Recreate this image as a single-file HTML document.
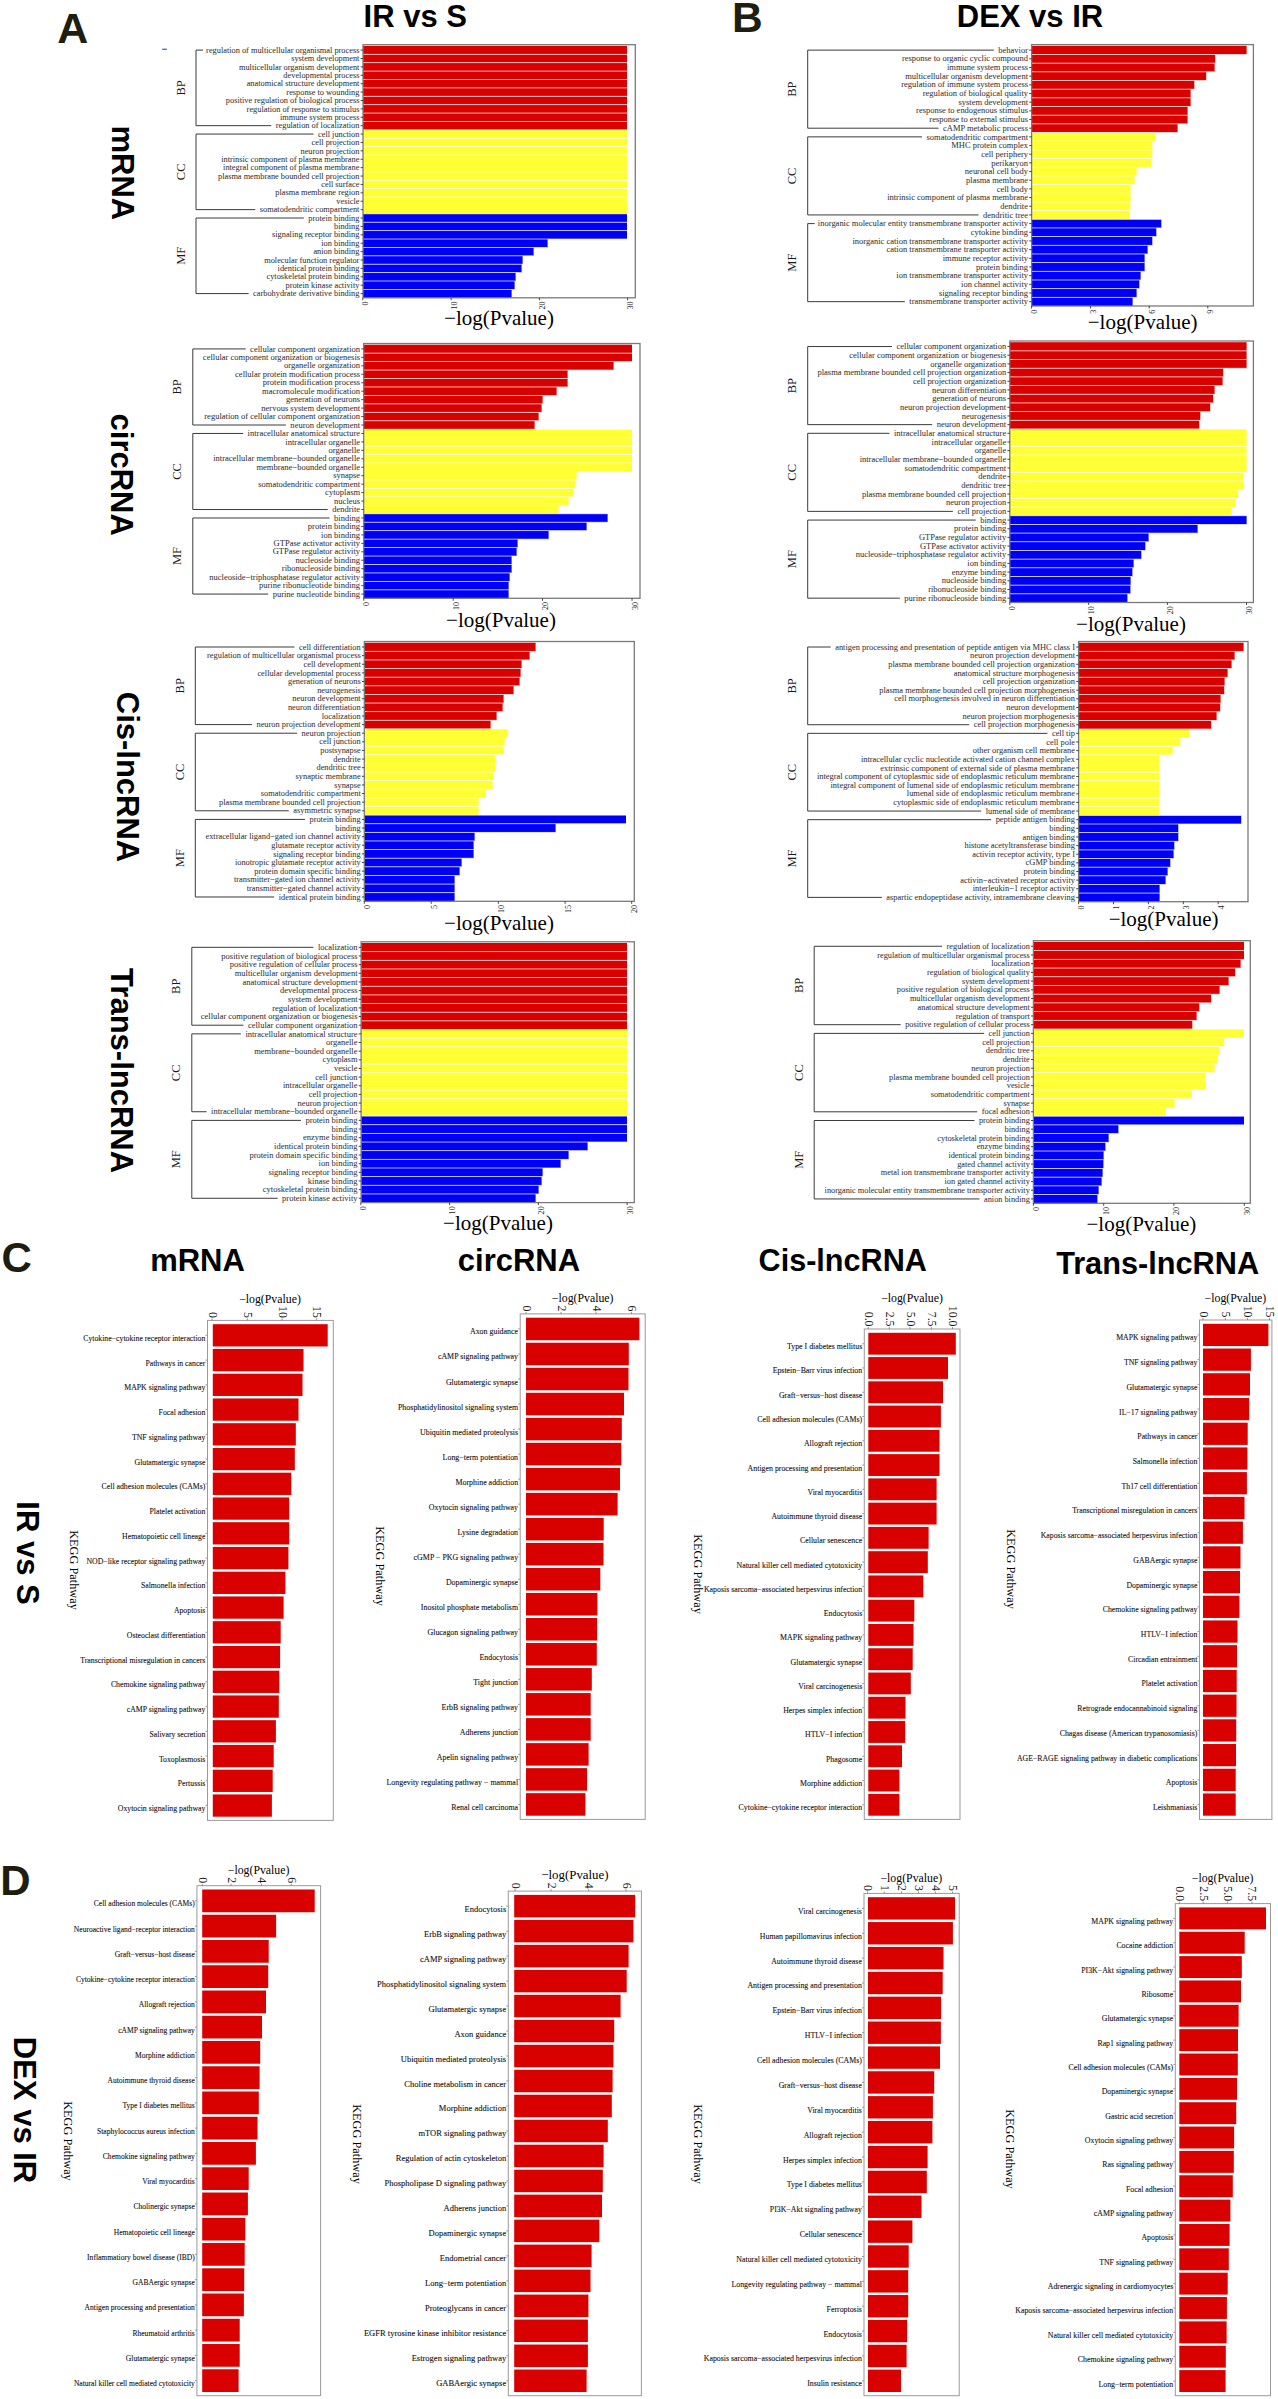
<!DOCTYPE html><html><head><meta charset="utf-8"><style>html,body{margin:0;padding:0;background:#fff;width:1278px;height:2399px;overflow:hidden}svg{display:block}text{font-family:"Liberation Serif",serif}</style></head><body>
<svg width="1278" height="2399" viewBox="0 0 1278 2399">
<rect width="1278" height="2399" fill="#fff"/>
<rect x="363.00" y="45.90" width="264.00" height="8.397" fill="#D90000"/>
<rect x="363.00" y="54.30" width="264.00" height="8.397" fill="#D90000"/>
<rect x="363.00" y="62.69" width="264.00" height="8.397" fill="#D90000"/>
<rect x="363.00" y="71.09" width="264.00" height="8.397" fill="#D90000"/>
<rect x="363.00" y="79.49" width="264.00" height="8.397" fill="#D90000"/>
<rect x="363.00" y="87.88" width="264.00" height="8.397" fill="#D90000"/>
<rect x="363.00" y="96.28" width="264.00" height="8.397" fill="#D90000"/>
<rect x="363.00" y="104.68" width="264.00" height="8.397" fill="#D90000"/>
<rect x="363.00" y="113.07" width="264.00" height="8.397" fill="#D90000"/>
<rect x="363.00" y="121.47" width="264.00" height="8.397" fill="#D90000"/>
<rect x="363.00" y="129.87" width="264.00" height="8.397" fill="#FFFF33"/>
<rect x="363.00" y="138.26" width="264.00" height="8.397" fill="#FFFF33"/>
<rect x="363.00" y="146.66" width="264.00" height="8.397" fill="#FFFF33"/>
<rect x="363.00" y="155.06" width="264.00" height="8.397" fill="#FFFF33"/>
<rect x="363.00" y="163.45" width="264.00" height="8.397" fill="#FFFF33"/>
<rect x="363.00" y="171.85" width="264.00" height="8.397" fill="#FFFF33"/>
<rect x="363.00" y="180.25" width="264.00" height="8.397" fill="#FFFF33"/>
<rect x="363.00" y="188.64" width="264.00" height="8.397" fill="#FFFF33"/>
<rect x="363.00" y="197.04" width="264.00" height="8.397" fill="#FFFF33"/>
<rect x="363.00" y="205.44" width="264.00" height="8.397" fill="#FFFF33"/>
<rect x="363.00" y="213.83" width="264.00" height="8.397" fill="#0000F5"/>
<rect x="363.00" y="222.23" width="264.00" height="8.397" fill="#0000F5"/>
<rect x="363.00" y="230.63" width="264.00" height="8.397" fill="#0000F5"/>
<rect x="363.00" y="239.02" width="184.60" height="8.397" fill="#0000F5"/>
<rect x="363.00" y="247.42" width="170.60" height="8.397" fill="#0000F5"/>
<rect x="363.00" y="255.82" width="159.60" height="8.397" fill="#0000F5"/>
<rect x="363.00" y="264.21" width="158.60" height="8.397" fill="#0000F5"/>
<rect x="363.00" y="272.61" width="152.60" height="8.397" fill="#0000F5"/>
<rect x="363.00" y="281.01" width="151.60" height="8.397" fill="#0000F5"/>
<rect x="363.00" y="289.40" width="148.60" height="8.397" fill="#0000F5"/>
<rect x="363.00" y="53.90" width="264.00" height="0.8" fill="#fff" fill-opacity="0.85"/>
<rect x="363.00" y="62.29" width="264.00" height="0.8" fill="#fff" fill-opacity="0.85"/>
<rect x="363.00" y="70.69" width="264.00" height="0.8" fill="#fff" fill-opacity="0.85"/>
<rect x="363.00" y="79.09" width="264.00" height="0.8" fill="#fff" fill-opacity="0.85"/>
<rect x="363.00" y="87.48" width="264.00" height="0.8" fill="#fff" fill-opacity="0.85"/>
<rect x="363.00" y="95.88" width="264.00" height="0.8" fill="#fff" fill-opacity="0.85"/>
<rect x="363.00" y="104.28" width="264.00" height="0.8" fill="#fff" fill-opacity="0.85"/>
<rect x="363.00" y="112.67" width="264.00" height="0.8" fill="#fff" fill-opacity="0.85"/>
<rect x="363.00" y="121.07" width="264.00" height="0.8" fill="#fff" fill-opacity="0.85"/>
<rect x="363.00" y="129.47" width="264.00" height="0.8" fill="#fff" fill-opacity="0.85"/>
<rect x="363.00" y="137.86" width="264.00" height="0.8" fill="#fff" fill-opacity="0.85"/>
<rect x="363.00" y="146.26" width="264.00" height="0.8" fill="#fff" fill-opacity="0.85"/>
<rect x="363.00" y="154.66" width="264.00" height="0.8" fill="#fff" fill-opacity="0.85"/>
<rect x="363.00" y="163.05" width="264.00" height="0.8" fill="#fff" fill-opacity="0.85"/>
<rect x="363.00" y="171.45" width="264.00" height="0.8" fill="#fff" fill-opacity="0.85"/>
<rect x="363.00" y="179.85" width="264.00" height="0.8" fill="#fff" fill-opacity="0.85"/>
<rect x="363.00" y="188.24" width="264.00" height="0.8" fill="#fff" fill-opacity="0.85"/>
<rect x="363.00" y="196.64" width="264.00" height="0.8" fill="#fff" fill-opacity="0.85"/>
<rect x="363.00" y="205.04" width="264.00" height="0.8" fill="#fff" fill-opacity="0.85"/>
<rect x="363.00" y="213.43" width="264.00" height="0.8" fill="#fff" fill-opacity="0.85"/>
<rect x="363.00" y="221.83" width="264.00" height="0.8" fill="#fff" fill-opacity="0.85"/>
<rect x="363.00" y="230.23" width="264.00" height="0.8" fill="#fff" fill-opacity="0.85"/>
<rect x="363.00" y="238.62" width="264.00" height="0.8" fill="#fff" fill-opacity="0.85"/>
<rect x="363.00" y="247.02" width="184.60" height="0.8" fill="#fff" fill-opacity="0.85"/>
<rect x="363.00" y="255.42" width="170.60" height="0.8" fill="#fff" fill-opacity="0.85"/>
<rect x="363.00" y="263.81" width="159.60" height="0.8" fill="#fff" fill-opacity="0.85"/>
<rect x="363.00" y="272.21" width="158.60" height="0.8" fill="#fff" fill-opacity="0.85"/>
<rect x="363.00" y="280.61" width="152.60" height="0.8" fill="#fff" fill-opacity="0.85"/>
<rect x="363.00" y="289.00" width="151.60" height="0.8" fill="#fff" fill-opacity="0.85"/>
<rect x="363.00" y="44.70" width="272.30" height="253.10" fill="none" stroke="#7A7A78" stroke-width="1.3"/>
<text x="359.40" y="52.74" font-size="8.0" text-anchor="end" fill="#363636" textLength="153.26" lengthAdjust="spacingAndGlyphs" stroke="#363636" stroke-width="0.05">regulation of multicellular organismal process</text>
<line x1="360.60" y1="50.10" x2="363.00" y2="50.10" stroke="#333" stroke-width="0.9"/>
<text x="359.40" y="61.14" font-size="8.0" text-anchor="end" fill="#363636" textLength="68.17" lengthAdjust="spacingAndGlyphs" stroke="#363636" stroke-width="0.05">system development</text>
<line x1="360.60" y1="58.50" x2="363.00" y2="58.50" stroke="#333" stroke-width="0.9"/>
<text x="359.40" y="69.53" font-size="8.0" text-anchor="end" fill="#363636" textLength="120.46" lengthAdjust="spacingAndGlyphs" stroke="#363636" stroke-width="0.05">multicellular organism development</text>
<line x1="360.60" y1="66.89" x2="363.00" y2="66.89" stroke="#333" stroke-width="0.9"/>
<text x="359.40" y="77.93" font-size="8.0" text-anchor="end" fill="#363636" textLength="76.01" lengthAdjust="spacingAndGlyphs" stroke="#363636" stroke-width="0.05">developmental process</text>
<line x1="360.60" y1="75.29" x2="363.00" y2="75.29" stroke="#333" stroke-width="0.9"/>
<text x="359.40" y="86.33" font-size="8.0" text-anchor="end" fill="#363636" textLength="112.74" lengthAdjust="spacingAndGlyphs" stroke="#363636" stroke-width="0.05">anatomical structure development</text>
<line x1="360.60" y1="83.69" x2="363.00" y2="83.69" stroke="#333" stroke-width="0.9"/>
<text x="359.40" y="94.72" font-size="8.0" text-anchor="end" fill="#363636" textLength="73.02" lengthAdjust="spacingAndGlyphs" stroke="#363636" stroke-width="0.05">response to wounding</text>
<line x1="360.60" y1="92.08" x2="363.00" y2="92.08" stroke="#333" stroke-width="0.9"/>
<text x="359.40" y="103.12" font-size="8.0" text-anchor="end" fill="#363636" textLength="133.55" lengthAdjust="spacingAndGlyphs" stroke="#363636" stroke-width="0.05">positive regulation of biological process</text>
<line x1="360.60" y1="100.48" x2="363.00" y2="100.48" stroke="#333" stroke-width="0.9"/>
<text x="359.40" y="111.52" font-size="8.0" text-anchor="end" fill="#363636" textLength="112.77" lengthAdjust="spacingAndGlyphs" stroke="#363636" stroke-width="0.05">regulation of response to stimulus</text>
<line x1="360.60" y1="108.88" x2="363.00" y2="108.88" stroke="#333" stroke-width="0.9"/>
<text x="359.40" y="119.91" font-size="8.0" text-anchor="end" fill="#363636" textLength="79.49" lengthAdjust="spacingAndGlyphs" stroke="#363636" stroke-width="0.05">immune system process</text>
<line x1="360.60" y1="117.27" x2="363.00" y2="117.27" stroke="#333" stroke-width="0.9"/>
<text x="359.40" y="128.31" font-size="8.0" text-anchor="end" fill="#363636" textLength="83.63" lengthAdjust="spacingAndGlyphs" stroke="#363636" stroke-width="0.05">regulation of localization</text>
<line x1="360.60" y1="125.67" x2="363.00" y2="125.67" stroke="#333" stroke-width="0.9"/>
<text x="359.40" y="136.70" font-size="8.0" text-anchor="end" fill="#363636" textLength="41.36" lengthAdjust="spacingAndGlyphs" stroke="#363636" stroke-width="0.05">cell junction</text>
<line x1="360.60" y1="134.06" x2="363.00" y2="134.06" stroke="#333" stroke-width="0.9"/>
<text x="359.40" y="145.10" font-size="8.0" text-anchor="end" fill="#363636" textLength="47.82" lengthAdjust="spacingAndGlyphs" stroke="#363636" stroke-width="0.05">cell projection</text>
<line x1="360.60" y1="142.46" x2="363.00" y2="142.46" stroke="#333" stroke-width="0.9"/>
<text x="359.40" y="153.50" font-size="8.0" text-anchor="end" fill="#363636" textLength="58.91" lengthAdjust="spacingAndGlyphs" stroke="#363636" stroke-width="0.05">neuron projection</text>
<line x1="360.60" y1="150.86" x2="363.00" y2="150.86" stroke="#333" stroke-width="0.9"/>
<text x="359.40" y="161.89" font-size="8.0" text-anchor="end" fill="#363636" textLength="138.17" lengthAdjust="spacingAndGlyphs" stroke="#363636" stroke-width="0.05">intrinsic component of plasma membrane</text>
<line x1="360.60" y1="159.25" x2="363.00" y2="159.25" stroke="#333" stroke-width="0.9"/>
<text x="359.40" y="170.29" font-size="8.0" text-anchor="end" fill="#363636" textLength="136.31" lengthAdjust="spacingAndGlyphs" stroke="#363636" stroke-width="0.05">integral component of plasma membrane</text>
<line x1="360.60" y1="167.65" x2="363.00" y2="167.65" stroke="#333" stroke-width="0.9"/>
<text x="359.40" y="178.69" font-size="8.0" text-anchor="end" fill="#363636" textLength="141.39" lengthAdjust="spacingAndGlyphs" stroke="#363636" stroke-width="0.05">plasma membrane bounded cell projection</text>
<line x1="360.60" y1="176.05" x2="363.00" y2="176.05" stroke="#333" stroke-width="0.9"/>
<text x="359.40" y="187.08" font-size="8.0" text-anchor="end" fill="#363636" textLength="38.11" lengthAdjust="spacingAndGlyphs" stroke="#363636" stroke-width="0.05">cell surface</text>
<line x1="360.60" y1="184.44" x2="363.00" y2="184.44" stroke="#333" stroke-width="0.9"/>
<text x="359.40" y="195.48" font-size="8.0" text-anchor="end" fill="#363636" textLength="84.10" lengthAdjust="spacingAndGlyphs" stroke="#363636" stroke-width="0.05">plasma membrane region</text>
<line x1="360.60" y1="192.84" x2="363.00" y2="192.84" stroke="#333" stroke-width="0.9"/>
<text x="359.40" y="203.88" font-size="8.0" text-anchor="end" fill="#363636" textLength="23.10" lengthAdjust="spacingAndGlyphs" stroke="#363636" stroke-width="0.05">vesicle</text>
<line x1="360.60" y1="201.24" x2="363.00" y2="201.24" stroke="#333" stroke-width="0.9"/>
<text x="359.40" y="212.27" font-size="8.0" text-anchor="end" fill="#363636" textLength="99.58" lengthAdjust="spacingAndGlyphs" stroke="#363636" stroke-width="0.05">somatodendritic compartment</text>
<line x1="360.60" y1="209.63" x2="363.00" y2="209.63" stroke="#333" stroke-width="0.9"/>
<text x="359.40" y="220.67" font-size="8.0" text-anchor="end" fill="#363636" textLength="51.07" lengthAdjust="spacingAndGlyphs" stroke="#363636" stroke-width="0.05">protein binding</text>
<line x1="360.60" y1="218.03" x2="363.00" y2="218.03" stroke="#333" stroke-width="0.9"/>
<text x="359.40" y="229.07" font-size="8.0" text-anchor="end" fill="#363636" textLength="25.42" lengthAdjust="spacingAndGlyphs" stroke="#363636" stroke-width="0.05">binding</text>
<line x1="360.60" y1="226.43" x2="363.00" y2="226.43" stroke="#333" stroke-width="0.9"/>
<text x="359.40" y="237.46" font-size="8.0" text-anchor="end" fill="#363636" textLength="87.34" lengthAdjust="spacingAndGlyphs" stroke="#363636" stroke-width="0.05">signaling receptor binding</text>
<line x1="360.60" y1="234.82" x2="363.00" y2="234.82" stroke="#333" stroke-width="0.9"/>
<text x="359.40" y="245.86" font-size="8.0" text-anchor="end" fill="#363636" textLength="38.13" lengthAdjust="spacingAndGlyphs" stroke="#363636" stroke-width="0.05">ion binding</text>
<line x1="360.60" y1="243.22" x2="363.00" y2="243.22" stroke="#333" stroke-width="0.9"/>
<text x="359.40" y="254.26" font-size="8.0" text-anchor="end" fill="#363636" textLength="45.99" lengthAdjust="spacingAndGlyphs" stroke="#363636" stroke-width="0.05">anion binding</text>
<line x1="360.60" y1="251.62" x2="363.00" y2="251.62" stroke="#333" stroke-width="0.9"/>
<text x="359.40" y="262.65" font-size="8.0" text-anchor="end" fill="#363636" textLength="95.18" lengthAdjust="spacingAndGlyphs" stroke="#363636" stroke-width="0.05">molecular function regulator</text>
<line x1="360.60" y1="260.01" x2="363.00" y2="260.01" stroke="#333" stroke-width="0.9"/>
<text x="359.40" y="271.05" font-size="8.0" text-anchor="end" fill="#363636" textLength="81.79" lengthAdjust="spacingAndGlyphs" stroke="#363636" stroke-width="0.05">identical protein binding</text>
<line x1="360.60" y1="268.41" x2="363.00" y2="268.41" stroke="#333" stroke-width="0.9"/>
<text x="359.40" y="279.45" font-size="8.0" text-anchor="end" fill="#363636" textLength="92.89" lengthAdjust="spacingAndGlyphs" stroke="#363636" stroke-width="0.05">cytoskeletal protein binding</text>
<line x1="360.60" y1="276.81" x2="363.00" y2="276.81" stroke="#333" stroke-width="0.9"/>
<text x="359.40" y="287.85" font-size="8.0" text-anchor="end" fill="#363636" textLength="73.93" lengthAdjust="spacingAndGlyphs" stroke="#363636" stroke-width="0.05">protein kinase activity</text>
<line x1="360.60" y1="285.21" x2="363.00" y2="285.21" stroke="#333" stroke-width="0.9"/>
<text x="359.40" y="296.24" font-size="8.0" text-anchor="end" fill="#363636" textLength="106.27" lengthAdjust="spacingAndGlyphs" stroke="#363636" stroke-width="0.05">carbohydrate derivative binding</text>
<line x1="360.60" y1="293.60" x2="363.00" y2="293.60" stroke="#333" stroke-width="0.9"/>
<path d="M203.00 50.10 H196.00 V125.67 H271.27" fill="none" stroke="#3A3A3A" stroke-width="1.0"/>
<text x="185.12" y="87.88" font-size="12.5" text-anchor="middle" fill="#1A1A1A" transform="rotate(-90 185.12 87.88)">BP</text>
<path d="M313.54 134.06 H196.00 V209.63 H255.32" fill="none" stroke="#3A3A3A" stroke-width="1.0"/>
<text x="185.12" y="171.85" font-size="12.5" text-anchor="middle" fill="#1A1A1A" transform="rotate(-90 185.12 171.85)">CC</text>
<path d="M303.83 218.03 H196.00 V293.60 H248.63" fill="none" stroke="#3A3A3A" stroke-width="1.0"/>
<text x="185.12" y="255.82" font-size="12.5" text-anchor="middle" fill="#1A1A1A" transform="rotate(-90 185.12 255.82)">MF</text>
<line x1="362.80" y1="297.80" x2="362.80" y2="300.30" stroke="#333" stroke-width="0.9"/>
<text x="368.40" y="301.40" font-size="8.2" text-anchor="end" fill="#262626" transform="rotate(-90 368.40 301.40)">0</text>
<line x1="451.10" y1="297.80" x2="451.10" y2="300.30" stroke="#333" stroke-width="0.9"/>
<text x="456.70" y="301.40" font-size="8.2" text-anchor="end" fill="#262626" transform="rotate(-90 456.70 301.40)">10</text>
<line x1="539.40" y1="297.80" x2="539.40" y2="300.30" stroke="#333" stroke-width="0.9"/>
<text x="545.00" y="301.40" font-size="8.2" text-anchor="end" fill="#262626" transform="rotate(-90 545.00 301.40)">20</text>
<line x1="627.60" y1="297.80" x2="627.60" y2="300.30" stroke="#333" stroke-width="0.9"/>
<text x="633.20" y="301.40" font-size="8.2" text-anchor="end" fill="#262626" transform="rotate(-90 633.20 301.40)">30</text>
<text x="499.00" y="324.50" font-size="21" text-anchor="middle" fill="#000">−log(Pvalue)</text>
<rect x="1031.60" y="45.80" width="215.00" height="8.673" fill="#D90000"/>
<rect x="1031.60" y="54.47" width="183.60" height="8.673" fill="#D90000"/>
<rect x="1031.60" y="63.15" width="183.00" height="8.673" fill="#D90000"/>
<rect x="1031.60" y="71.82" width="174.60" height="8.673" fill="#D90000"/>
<rect x="1031.60" y="80.49" width="162.70" height="8.673" fill="#D90000"/>
<rect x="1031.60" y="89.17" width="159.00" height="8.673" fill="#D90000"/>
<rect x="1031.60" y="97.84" width="159.00" height="8.673" fill="#D90000"/>
<rect x="1031.60" y="106.51" width="156.00" height="8.673" fill="#D90000"/>
<rect x="1031.60" y="115.19" width="156.00" height="8.673" fill="#D90000"/>
<rect x="1031.60" y="123.86" width="146.00" height="8.673" fill="#D90000"/>
<rect x="1031.60" y="132.53" width="123.70" height="8.673" fill="#FFFF33"/>
<rect x="1031.60" y="141.21" width="120.70" height="8.673" fill="#FFFF33"/>
<rect x="1031.60" y="149.88" width="120.70" height="8.673" fill="#FFFF33"/>
<rect x="1031.60" y="158.55" width="120.00" height="8.673" fill="#FFFF33"/>
<rect x="1031.60" y="167.23" width="105.00" height="8.673" fill="#FFFF33"/>
<rect x="1031.60" y="175.90" width="103.00" height="8.673" fill="#FFFF33"/>
<rect x="1031.60" y="184.57" width="99.00" height="8.673" fill="#FFFF33"/>
<rect x="1031.60" y="193.25" width="99.00" height="8.673" fill="#FFFF33"/>
<rect x="1031.60" y="201.92" width="98.80" height="8.673" fill="#FFFF33"/>
<rect x="1031.60" y="210.59" width="98.00" height="8.673" fill="#FFFF33"/>
<rect x="1031.60" y="219.27" width="129.70" height="8.673" fill="#0000F5"/>
<rect x="1031.60" y="227.94" width="124.70" height="8.673" fill="#0000F5"/>
<rect x="1031.60" y="236.61" width="120.70" height="8.673" fill="#0000F5"/>
<rect x="1031.60" y="245.29" width="116.00" height="8.673" fill="#0000F5"/>
<rect x="1031.60" y="253.96" width="113.00" height="8.673" fill="#0000F5"/>
<rect x="1031.60" y="262.63" width="113.00" height="8.673" fill="#0000F5"/>
<rect x="1031.60" y="271.31" width="109.00" height="8.673" fill="#0000F5"/>
<rect x="1031.60" y="279.98" width="107.70" height="8.673" fill="#0000F5"/>
<rect x="1031.60" y="288.65" width="105.00" height="8.673" fill="#0000F5"/>
<rect x="1031.60" y="297.33" width="101.00" height="8.673" fill="#0000F5"/>
<rect x="1031.60" y="54.07" width="215.00" height="0.8" fill="#fff" fill-opacity="0.85"/>
<rect x="1031.60" y="62.75" width="183.60" height="0.8" fill="#fff" fill-opacity="0.85"/>
<rect x="1031.60" y="71.42" width="183.00" height="0.8" fill="#fff" fill-opacity="0.85"/>
<rect x="1031.60" y="80.09" width="174.60" height="0.8" fill="#fff" fill-opacity="0.85"/>
<rect x="1031.60" y="88.77" width="162.70" height="0.8" fill="#fff" fill-opacity="0.85"/>
<rect x="1031.60" y="97.44" width="159.00" height="0.8" fill="#fff" fill-opacity="0.85"/>
<rect x="1031.60" y="106.11" width="159.00" height="0.8" fill="#fff" fill-opacity="0.85"/>
<rect x="1031.60" y="114.79" width="156.00" height="0.8" fill="#fff" fill-opacity="0.85"/>
<rect x="1031.60" y="123.46" width="156.00" height="0.8" fill="#fff" fill-opacity="0.85"/>
<rect x="1031.60" y="132.13" width="146.00" height="0.8" fill="#fff" fill-opacity="0.85"/>
<rect x="1031.60" y="140.81" width="123.70" height="0.8" fill="#fff" fill-opacity="0.85"/>
<rect x="1031.60" y="149.48" width="120.70" height="0.8" fill="#fff" fill-opacity="0.85"/>
<rect x="1031.60" y="158.15" width="120.70" height="0.8" fill="#fff" fill-opacity="0.85"/>
<rect x="1031.60" y="166.83" width="120.00" height="0.8" fill="#fff" fill-opacity="0.85"/>
<rect x="1031.60" y="175.50" width="105.00" height="0.8" fill="#fff" fill-opacity="0.85"/>
<rect x="1031.60" y="184.17" width="103.00" height="0.8" fill="#fff" fill-opacity="0.85"/>
<rect x="1031.60" y="192.85" width="99.00" height="0.8" fill="#fff" fill-opacity="0.85"/>
<rect x="1031.60" y="201.52" width="99.00" height="0.8" fill="#fff" fill-opacity="0.85"/>
<rect x="1031.60" y="210.19" width="98.80" height="0.8" fill="#fff" fill-opacity="0.85"/>
<rect x="1031.60" y="218.87" width="129.70" height="0.8" fill="#fff" fill-opacity="0.85"/>
<rect x="1031.60" y="227.54" width="129.70" height="0.8" fill="#fff" fill-opacity="0.85"/>
<rect x="1031.60" y="236.21" width="124.70" height="0.8" fill="#fff" fill-opacity="0.85"/>
<rect x="1031.60" y="244.89" width="120.70" height="0.8" fill="#fff" fill-opacity="0.85"/>
<rect x="1031.60" y="253.56" width="116.00" height="0.8" fill="#fff" fill-opacity="0.85"/>
<rect x="1031.60" y="262.23" width="113.00" height="0.8" fill="#fff" fill-opacity="0.85"/>
<rect x="1031.60" y="270.91" width="113.00" height="0.8" fill="#fff" fill-opacity="0.85"/>
<rect x="1031.60" y="279.58" width="109.00" height="0.8" fill="#fff" fill-opacity="0.85"/>
<rect x="1031.60" y="288.25" width="107.70" height="0.8" fill="#fff" fill-opacity="0.85"/>
<rect x="1031.60" y="296.93" width="105.00" height="0.8" fill="#fff" fill-opacity="0.85"/>
<rect x="1031.60" y="44.60" width="221.80" height="261.40" fill="none" stroke="#7A7A78" stroke-width="1.3"/>
<text x="1028.00" y="52.78" font-size="8.0" text-anchor="end" fill="#363636" textLength="29.67" lengthAdjust="spacingAndGlyphs" stroke="#363636" stroke-width="0.05">behavior</text>
<line x1="1029.20" y1="50.14" x2="1031.60" y2="50.14" stroke="#333" stroke-width="0.9"/>
<text x="1028.00" y="61.45" font-size="8.0" text-anchor="end" fill="#363636" textLength="126.07" lengthAdjust="spacingAndGlyphs" stroke="#363636" stroke-width="0.05">response to organic cyclic compound</text>
<line x1="1029.20" y1="58.81" x2="1031.60" y2="58.81" stroke="#333" stroke-width="0.9"/>
<text x="1028.00" y="70.12" font-size="8.0" text-anchor="end" fill="#363636" textLength="81.02" lengthAdjust="spacingAndGlyphs" stroke="#363636" stroke-width="0.05">immune system process</text>
<line x1="1029.20" y1="67.48" x2="1031.60" y2="67.48" stroke="#333" stroke-width="0.9"/>
<text x="1028.00" y="78.80" font-size="8.0" text-anchor="end" fill="#363636" textLength="122.77" lengthAdjust="spacingAndGlyphs" stroke="#363636" stroke-width="0.05">multicellular organism development</text>
<line x1="1029.20" y1="76.16" x2="1031.60" y2="76.16" stroke="#333" stroke-width="0.9"/>
<text x="1028.00" y="87.47" font-size="8.0" text-anchor="end" fill="#363636" textLength="126.71" lengthAdjust="spacingAndGlyphs" stroke="#363636" stroke-width="0.05">regulation of immune system process</text>
<line x1="1029.20" y1="84.83" x2="1031.60" y2="84.83" stroke="#333" stroke-width="0.9"/>
<text x="1028.00" y="96.14" font-size="8.0" text-anchor="end" fill="#363636" textLength="105.27" lengthAdjust="spacingAndGlyphs" stroke="#363636" stroke-width="0.05">regulation of biological quality</text>
<line x1="1029.20" y1="93.50" x2="1031.60" y2="93.50" stroke="#333" stroke-width="0.9"/>
<text x="1028.00" y="104.82" font-size="8.0" text-anchor="end" fill="#363636" textLength="69.48" lengthAdjust="spacingAndGlyphs" stroke="#363636" stroke-width="0.05">system development</text>
<line x1="1029.20" y1="102.18" x2="1031.60" y2="102.18" stroke="#333" stroke-width="0.9"/>
<text x="1028.00" y="113.49" font-size="8.0" text-anchor="end" fill="#363636" textLength="111.88" lengthAdjust="spacingAndGlyphs" stroke="#363636" stroke-width="0.05">response to endogenous stimulus</text>
<line x1="1029.20" y1="110.85" x2="1031.60" y2="110.85" stroke="#333" stroke-width="0.9"/>
<text x="1028.00" y="122.16" font-size="8.0" text-anchor="end" fill="#363636" textLength="98.68" lengthAdjust="spacingAndGlyphs" stroke="#363636" stroke-width="0.05">response to external stimulus</text>
<line x1="1029.20" y1="119.52" x2="1031.60" y2="119.52" stroke="#333" stroke-width="0.9"/>
<text x="1028.00" y="130.84" font-size="8.0" text-anchor="end" fill="#363636" textLength="84.94" lengthAdjust="spacingAndGlyphs" stroke="#363636" stroke-width="0.05">cAMP metabolic process</text>
<line x1="1029.20" y1="128.20" x2="1031.60" y2="128.20" stroke="#333" stroke-width="0.9"/>
<text x="1028.00" y="139.51" font-size="8.0" text-anchor="end" fill="#363636" textLength="101.50" lengthAdjust="spacingAndGlyphs" stroke="#363636" stroke-width="0.05">somatodendritic compartment</text>
<line x1="1029.20" y1="136.87" x2="1031.60" y2="136.87" stroke="#333" stroke-width="0.9"/>
<text x="1028.00" y="148.18" font-size="8.0" text-anchor="end" fill="#363636" textLength="76.78" lengthAdjust="spacingAndGlyphs" stroke="#363636" stroke-width="0.05">MHC protein complex</text>
<line x1="1029.20" y1="145.54" x2="1031.60" y2="145.54" stroke="#333" stroke-width="0.9"/>
<text x="1028.00" y="156.86" font-size="8.0" text-anchor="end" fill="#363636" textLength="46.85" lengthAdjust="spacingAndGlyphs" stroke="#363636" stroke-width="0.05">cell periphery</text>
<line x1="1029.20" y1="154.22" x2="1031.60" y2="154.22" stroke="#333" stroke-width="0.9"/>
<text x="1028.00" y="165.53" font-size="8.0" text-anchor="end" fill="#363636" textLength="36.73" lengthAdjust="spacingAndGlyphs" stroke="#363636" stroke-width="0.05">perikaryon</text>
<line x1="1029.20" y1="162.89" x2="1031.60" y2="162.89" stroke="#333" stroke-width="0.9"/>
<text x="1028.00" y="174.20" font-size="8.0" text-anchor="end" fill="#363636" textLength="63.11" lengthAdjust="spacingAndGlyphs" stroke="#363636" stroke-width="0.05">neuronal cell body</text>
<line x1="1029.20" y1="171.56" x2="1031.60" y2="171.56" stroke="#333" stroke-width="0.9"/>
<text x="1028.00" y="182.88" font-size="8.0" text-anchor="end" fill="#363636" textLength="61.93" lengthAdjust="spacingAndGlyphs" stroke="#363636" stroke-width="0.05">plasma membrane</text>
<line x1="1029.20" y1="180.24" x2="1031.60" y2="180.24" stroke="#333" stroke-width="0.9"/>
<text x="1028.00" y="191.55" font-size="8.0" text-anchor="end" fill="#363636" textLength="31.32" lengthAdjust="spacingAndGlyphs" stroke="#363636" stroke-width="0.05">cell body</text>
<line x1="1029.20" y1="188.91" x2="1031.60" y2="188.91" stroke="#333" stroke-width="0.9"/>
<text x="1028.00" y="200.22" font-size="8.0" text-anchor="end" fill="#363636" textLength="140.82" lengthAdjust="spacingAndGlyphs" stroke="#363636" stroke-width="0.05">intrinsic component of plasma membrane</text>
<line x1="1029.20" y1="197.58" x2="1031.60" y2="197.58" stroke="#333" stroke-width="0.9"/>
<text x="1028.00" y="208.90" font-size="8.0" text-anchor="end" fill="#363636" textLength="27.78" lengthAdjust="spacingAndGlyphs" stroke="#363636" stroke-width="0.05">dendrite</text>
<line x1="1029.20" y1="206.26" x2="1031.60" y2="206.26" stroke="#333" stroke-width="0.9"/>
<text x="1028.00" y="217.57" font-size="8.0" text-anchor="end" fill="#363636" textLength="44.97" lengthAdjust="spacingAndGlyphs" stroke="#363636" stroke-width="0.05">dendritic tree</text>
<line x1="1029.20" y1="214.93" x2="1031.60" y2="214.93" stroke="#333" stroke-width="0.9"/>
<text x="1028.00" y="226.24" font-size="8.0" text-anchor="end" fill="#363636" textLength="210.12" lengthAdjust="spacingAndGlyphs" stroke="#363636" stroke-width="0.05">inorganic molecular entity transmembrane transporter activity</text>
<line x1="1029.20" y1="223.60" x2="1031.60" y2="223.60" stroke="#333" stroke-width="0.9"/>
<text x="1028.00" y="234.92" font-size="8.0" text-anchor="end" fill="#363636" textLength="57.23" lengthAdjust="spacingAndGlyphs" stroke="#363636" stroke-width="0.05">cytokine binding</text>
<line x1="1029.20" y1="232.28" x2="1031.60" y2="232.28" stroke="#333" stroke-width="0.9"/>
<text x="1028.00" y="243.59" font-size="8.0" text-anchor="end" fill="#363636" textLength="175.51" lengthAdjust="spacingAndGlyphs" stroke="#363636" stroke-width="0.05">inorganic cation transmembrane transporter activity</text>
<line x1="1029.20" y1="240.95" x2="1031.60" y2="240.95" stroke="#333" stroke-width="0.9"/>
<text x="1028.00" y="252.26" font-size="8.0" text-anchor="end" fill="#363636" textLength="141.52" lengthAdjust="spacingAndGlyphs" stroke="#363636" stroke-width="0.05">cation transmembrane transporter activity</text>
<line x1="1029.20" y1="249.62" x2="1031.60" y2="249.62" stroke="#333" stroke-width="0.9"/>
<text x="1028.00" y="260.94" font-size="8.0" text-anchor="end" fill="#363636" textLength="85.24" lengthAdjust="spacingAndGlyphs" stroke="#363636" stroke-width="0.05">immune receptor activity</text>
<line x1="1029.20" y1="258.30" x2="1031.60" y2="258.30" stroke="#333" stroke-width="0.9"/>
<text x="1028.00" y="269.61" font-size="8.0" text-anchor="end" fill="#363636" textLength="52.05" lengthAdjust="spacingAndGlyphs" stroke="#363636" stroke-width="0.05">protein binding</text>
<line x1="1029.20" y1="266.97" x2="1031.60" y2="266.97" stroke="#333" stroke-width="0.9"/>
<text x="1028.00" y="278.28" font-size="8.0" text-anchor="end" fill="#363636" textLength="131.63" lengthAdjust="spacingAndGlyphs" stroke="#363636" stroke-width="0.05">ion transmembrane transporter activity</text>
<line x1="1029.20" y1="275.64" x2="1031.60" y2="275.64" stroke="#333" stroke-width="0.9"/>
<text x="1028.00" y="286.96" font-size="8.0" text-anchor="end" fill="#363636" textLength="66.88" lengthAdjust="spacingAndGlyphs" stroke="#363636" stroke-width="0.05">ion channel activity</text>
<line x1="1029.20" y1="284.32" x2="1031.60" y2="284.32" stroke="#333" stroke-width="0.9"/>
<text x="1028.00" y="295.63" font-size="8.0" text-anchor="end" fill="#363636" textLength="89.02" lengthAdjust="spacingAndGlyphs" stroke="#363636" stroke-width="0.05">signaling receptor binding</text>
<line x1="1029.20" y1="292.99" x2="1031.60" y2="292.99" stroke="#333" stroke-width="0.9"/>
<text x="1028.00" y="304.30" font-size="8.0" text-anchor="end" fill="#363636" textLength="118.68" lengthAdjust="spacingAndGlyphs" stroke="#363636" stroke-width="0.05">transmembrane transporter activity</text>
<line x1="1029.20" y1="301.66" x2="1031.60" y2="301.66" stroke="#333" stroke-width="0.9"/>
<path d="M993.83 50.14 H807.70 V128.20 H938.56" fill="none" stroke="#3A3A3A" stroke-width="1.0"/>
<text x="796.42" y="89.17" font-size="12.5" text-anchor="middle" fill="#1A1A1A" transform="rotate(-90 796.42 89.17)">BP</text>
<path d="M922.00 136.87 H807.70 V214.93 H978.53" fill="none" stroke="#3A3A3A" stroke-width="1.0"/>
<text x="796.42" y="175.90" font-size="12.5" text-anchor="middle" fill="#1A1A1A" transform="rotate(-90 796.42 175.90)">CC</text>
<path d="M814.70 223.60 H807.70 V301.66 H904.82" fill="none" stroke="#3A3A3A" stroke-width="1.0"/>
<text x="796.42" y="262.63" font-size="12.5" text-anchor="middle" fill="#1A1A1A" transform="rotate(-90 796.42 262.63)">MF</text>
<line x1="1031.60" y1="306.00" x2="1031.60" y2="308.50" stroke="#333" stroke-width="0.9"/>
<text x="1037.20" y="309.60" font-size="8.2" text-anchor="end" fill="#262626" transform="rotate(-90 1037.20 309.60)">0</text>
<line x1="1090.40" y1="306.00" x2="1090.40" y2="308.50" stroke="#333" stroke-width="0.9"/>
<text x="1096.00" y="309.60" font-size="8.2" text-anchor="end" fill="#262626" transform="rotate(-90 1096.00 309.60)">3</text>
<line x1="1149.20" y1="306.00" x2="1149.20" y2="308.50" stroke="#333" stroke-width="0.9"/>
<text x="1154.80" y="309.60" font-size="8.2" text-anchor="end" fill="#262626" transform="rotate(-90 1154.80 309.60)">6</text>
<line x1="1207.80" y1="306.00" x2="1207.80" y2="308.50" stroke="#333" stroke-width="0.9"/>
<text x="1213.40" y="309.60" font-size="8.2" text-anchor="end" fill="#262626" transform="rotate(-90 1213.40 309.60)">9</text>
<text x="1142.70" y="329.00" font-size="21" text-anchor="middle" fill="#000">−log(Pvalue)</text>
<rect x="363.70" y="344.70" width="268.30" height="8.453" fill="#D90000"/>
<rect x="363.70" y="353.15" width="268.30" height="8.453" fill="#D90000"/>
<rect x="363.70" y="361.61" width="249.90" height="8.453" fill="#D90000"/>
<rect x="363.70" y="370.06" width="203.90" height="8.453" fill="#D90000"/>
<rect x="363.70" y="378.51" width="203.90" height="8.453" fill="#D90000"/>
<rect x="363.70" y="386.97" width="192.90" height="8.453" fill="#D90000"/>
<rect x="363.70" y="395.42" width="178.90" height="8.453" fill="#D90000"/>
<rect x="363.70" y="403.87" width="177.90" height="8.453" fill="#D90000"/>
<rect x="363.70" y="412.33" width="174.90" height="8.453" fill="#D90000"/>
<rect x="363.70" y="420.78" width="170.90" height="8.453" fill="#D90000"/>
<rect x="363.70" y="429.23" width="268.30" height="8.453" fill="#FFFF33"/>
<rect x="363.70" y="437.69" width="268.30" height="8.453" fill="#FFFF33"/>
<rect x="363.70" y="446.14" width="268.30" height="8.453" fill="#FFFF33"/>
<rect x="363.70" y="454.59" width="268.30" height="8.453" fill="#FFFF33"/>
<rect x="363.70" y="463.05" width="268.30" height="8.453" fill="#FFFF33"/>
<rect x="363.70" y="471.50" width="212.90" height="8.453" fill="#FFFF33"/>
<rect x="363.70" y="479.95" width="211.90" height="8.453" fill="#FFFF33"/>
<rect x="363.70" y="488.41" width="209.90" height="8.453" fill="#FFFF33"/>
<rect x="363.70" y="496.86" width="204.90" height="8.453" fill="#FFFF33"/>
<rect x="363.70" y="505.31" width="194.90" height="8.453" fill="#FFFF33"/>
<rect x="363.70" y="513.77" width="243.90" height="8.453" fill="#0000F5"/>
<rect x="363.70" y="522.22" width="222.90" height="8.453" fill="#0000F5"/>
<rect x="363.70" y="530.67" width="184.90" height="8.453" fill="#0000F5"/>
<rect x="363.70" y="539.13" width="153.90" height="8.453" fill="#0000F5"/>
<rect x="363.70" y="547.58" width="152.90" height="8.453" fill="#0000F5"/>
<rect x="363.70" y="556.03" width="147.90" height="8.453" fill="#0000F5"/>
<rect x="363.70" y="564.49" width="147.90" height="8.453" fill="#0000F5"/>
<rect x="363.70" y="572.94" width="145.90" height="8.453" fill="#0000F5"/>
<rect x="363.70" y="581.39" width="144.90" height="8.453" fill="#0000F5"/>
<rect x="363.70" y="589.85" width="144.90" height="8.453" fill="#0000F5"/>
<rect x="363.70" y="352.75" width="268.30" height="0.8" fill="#fff" fill-opacity="0.85"/>
<rect x="363.70" y="361.21" width="268.30" height="0.8" fill="#fff" fill-opacity="0.85"/>
<rect x="363.70" y="369.66" width="249.90" height="0.8" fill="#fff" fill-opacity="0.85"/>
<rect x="363.70" y="378.11" width="203.90" height="0.8" fill="#fff" fill-opacity="0.85"/>
<rect x="363.70" y="386.57" width="203.90" height="0.8" fill="#fff" fill-opacity="0.85"/>
<rect x="363.70" y="395.02" width="192.90" height="0.8" fill="#fff" fill-opacity="0.85"/>
<rect x="363.70" y="403.47" width="178.90" height="0.8" fill="#fff" fill-opacity="0.85"/>
<rect x="363.70" y="411.93" width="177.90" height="0.8" fill="#fff" fill-opacity="0.85"/>
<rect x="363.70" y="420.38" width="174.90" height="0.8" fill="#fff" fill-opacity="0.85"/>
<rect x="363.70" y="428.83" width="268.30" height="0.8" fill="#fff" fill-opacity="0.85"/>
<rect x="363.70" y="437.29" width="268.30" height="0.8" fill="#fff" fill-opacity="0.85"/>
<rect x="363.70" y="445.74" width="268.30" height="0.8" fill="#fff" fill-opacity="0.85"/>
<rect x="363.70" y="454.19" width="268.30" height="0.8" fill="#fff" fill-opacity="0.85"/>
<rect x="363.70" y="462.65" width="268.30" height="0.8" fill="#fff" fill-opacity="0.85"/>
<rect x="363.70" y="471.10" width="268.30" height="0.8" fill="#fff" fill-opacity="0.85"/>
<rect x="363.70" y="479.55" width="212.90" height="0.8" fill="#fff" fill-opacity="0.85"/>
<rect x="363.70" y="488.01" width="211.90" height="0.8" fill="#fff" fill-opacity="0.85"/>
<rect x="363.70" y="496.46" width="209.90" height="0.8" fill="#fff" fill-opacity="0.85"/>
<rect x="363.70" y="504.91" width="204.90" height="0.8" fill="#fff" fill-opacity="0.85"/>
<rect x="363.70" y="513.37" width="243.90" height="0.8" fill="#fff" fill-opacity="0.85"/>
<rect x="363.70" y="521.82" width="243.90" height="0.8" fill="#fff" fill-opacity="0.85"/>
<rect x="363.70" y="530.27" width="222.90" height="0.8" fill="#fff" fill-opacity="0.85"/>
<rect x="363.70" y="538.73" width="184.90" height="0.8" fill="#fff" fill-opacity="0.85"/>
<rect x="363.70" y="547.18" width="153.90" height="0.8" fill="#fff" fill-opacity="0.85"/>
<rect x="363.70" y="555.63" width="152.90" height="0.8" fill="#fff" fill-opacity="0.85"/>
<rect x="363.70" y="564.09" width="147.90" height="0.8" fill="#fff" fill-opacity="0.85"/>
<rect x="363.70" y="572.54" width="147.90" height="0.8" fill="#fff" fill-opacity="0.85"/>
<rect x="363.70" y="580.99" width="145.90" height="0.8" fill="#fff" fill-opacity="0.85"/>
<rect x="363.70" y="589.45" width="144.90" height="0.8" fill="#fff" fill-opacity="0.85"/>
<rect x="363.70" y="343.50" width="276.30" height="254.80" fill="none" stroke="#7A7A78" stroke-width="1.3"/>
<text x="360.10" y="351.57" font-size="8.0" text-anchor="end" fill="#363636" textLength="109.96" lengthAdjust="spacingAndGlyphs" stroke="#363636" stroke-width="0.05">cellular component organization</text>
<line x1="361.30" y1="348.93" x2="363.70" y2="348.93" stroke="#333" stroke-width="0.9"/>
<text x="360.10" y="360.02" font-size="8.0" text-anchor="end" fill="#363636" textLength="157.23" lengthAdjust="spacingAndGlyphs" stroke="#363636" stroke-width="0.05">cellular component organization or biogenesis</text>
<line x1="361.30" y1="357.38" x2="363.70" y2="357.38" stroke="#333" stroke-width="0.9"/>
<text x="360.10" y="368.47" font-size="8.0" text-anchor="end" fill="#363636" textLength="76.01" lengthAdjust="spacingAndGlyphs" stroke="#363636" stroke-width="0.05">organelle organization</text>
<line x1="361.30" y1="365.83" x2="363.70" y2="365.83" stroke="#333" stroke-width="0.9"/>
<text x="360.10" y="376.93" font-size="8.0" text-anchor="end" fill="#363636" textLength="125.01" lengthAdjust="spacingAndGlyphs" stroke="#363636" stroke-width="0.05">cellular protein modification process</text>
<line x1="361.30" y1="374.29" x2="363.70" y2="374.29" stroke="#333" stroke-width="0.9"/>
<text x="360.10" y="385.38" font-size="8.0" text-anchor="end" fill="#363636" textLength="97.37" lengthAdjust="spacingAndGlyphs" stroke="#363636" stroke-width="0.05">protein modification process</text>
<line x1="361.30" y1="382.74" x2="363.70" y2="382.74" stroke="#333" stroke-width="0.9"/>
<text x="360.10" y="393.83" font-size="8.0" text-anchor="end" fill="#363636" textLength="98.07" lengthAdjust="spacingAndGlyphs" stroke="#363636" stroke-width="0.05">macromolecule modification</text>
<line x1="361.30" y1="391.19" x2="363.70" y2="391.19" stroke="#333" stroke-width="0.9"/>
<text x="360.10" y="402.29" font-size="8.0" text-anchor="end" fill="#363636" textLength="74.20" lengthAdjust="spacingAndGlyphs" stroke="#363636" stroke-width="0.05">generation of neurons</text>
<line x1="361.30" y1="399.65" x2="363.70" y2="399.65" stroke="#333" stroke-width="0.9"/>
<text x="360.10" y="410.74" font-size="8.0" text-anchor="end" fill="#363636" textLength="98.79" lengthAdjust="spacingAndGlyphs" stroke="#363636" stroke-width="0.05">nervous system development</text>
<line x1="361.30" y1="408.10" x2="363.70" y2="408.10" stroke="#333" stroke-width="0.9"/>
<text x="360.10" y="419.19" font-size="8.0" text-anchor="end" fill="#363636" textLength="155.81" lengthAdjust="spacingAndGlyphs" stroke="#363636" stroke-width="0.05">regulation of cellular component organization</text>
<line x1="361.30" y1="416.55" x2="363.70" y2="416.55" stroke="#333" stroke-width="0.9"/>
<text x="360.10" y="427.65" font-size="8.0" text-anchor="end" fill="#363636" textLength="69.71" lengthAdjust="spacingAndGlyphs" stroke="#363636" stroke-width="0.05">neuron development</text>
<line x1="361.30" y1="425.01" x2="363.70" y2="425.01" stroke="#333" stroke-width="0.9"/>
<text x="360.10" y="436.10" font-size="8.0" text-anchor="end" fill="#363636" textLength="112.47" lengthAdjust="spacingAndGlyphs" stroke="#363636" stroke-width="0.05">intracellular anatomical structure</text>
<line x1="361.30" y1="433.46" x2="363.70" y2="433.46" stroke="#333" stroke-width="0.9"/>
<text x="360.10" y="444.55" font-size="8.0" text-anchor="end" fill="#363636" textLength="74.74" lengthAdjust="spacingAndGlyphs" stroke="#363636" stroke-width="0.05">intracellular organelle</text>
<line x1="361.30" y1="441.91" x2="363.70" y2="441.91" stroke="#333" stroke-width="0.9"/>
<text x="360.10" y="453.01" font-size="8.0" text-anchor="end" fill="#363636" textLength="31.51" lengthAdjust="spacingAndGlyphs" stroke="#363636" stroke-width="0.05">organelle</text>
<line x1="361.30" y1="450.37" x2="363.70" y2="450.37" stroke="#333" stroke-width="0.9"/>
<text x="360.10" y="461.46" font-size="8.0" text-anchor="end" fill="#363636" textLength="146.89" lengthAdjust="spacingAndGlyphs" stroke="#363636" stroke-width="0.05">intracellular membrane−bounded organelle</text>
<line x1="361.30" y1="458.82" x2="363.70" y2="458.82" stroke="#333" stroke-width="0.9"/>
<text x="360.10" y="469.91" font-size="8.0" text-anchor="end" fill="#363636" textLength="103.65" lengthAdjust="spacingAndGlyphs" stroke="#363636" stroke-width="0.05">membrane−bounded organelle</text>
<line x1="361.30" y1="467.27" x2="363.70" y2="467.27" stroke="#333" stroke-width="0.9"/>
<text x="360.10" y="478.37" font-size="8.0" text-anchor="end" fill="#363636" textLength="26.94" lengthAdjust="spacingAndGlyphs" stroke="#363636" stroke-width="0.05">synapse</text>
<line x1="361.30" y1="475.73" x2="363.70" y2="475.73" stroke="#333" stroke-width="0.9"/>
<text x="360.10" y="486.82" font-size="8.0" text-anchor="end" fill="#363636" textLength="101.86" lengthAdjust="spacingAndGlyphs" stroke="#363636" stroke-width="0.05">somatodendritic compartment</text>
<line x1="361.30" y1="484.18" x2="363.70" y2="484.18" stroke="#333" stroke-width="0.9"/>
<text x="360.10" y="495.27" font-size="8.0" text-anchor="end" fill="#363636" textLength="34.98" lengthAdjust="spacingAndGlyphs" stroke="#363636" stroke-width="0.05">cytoplasm</text>
<line x1="361.30" y1="492.63" x2="363.70" y2="492.63" stroke="#333" stroke-width="0.9"/>
<text x="360.10" y="503.73" font-size="8.0" text-anchor="end" fill="#363636" textLength="26.00" lengthAdjust="spacingAndGlyphs" stroke="#363636" stroke-width="0.05">nucleus</text>
<line x1="361.30" y1="501.09" x2="363.70" y2="501.09" stroke="#333" stroke-width="0.9"/>
<text x="360.10" y="512.18" font-size="8.0" text-anchor="end" fill="#363636" textLength="27.88" lengthAdjust="spacingAndGlyphs" stroke="#363636" stroke-width="0.05">dendrite</text>
<line x1="361.30" y1="509.54" x2="363.70" y2="509.54" stroke="#333" stroke-width="0.9"/>
<text x="360.10" y="520.63" font-size="8.0" text-anchor="end" fill="#363636" textLength="26.00" lengthAdjust="spacingAndGlyphs" stroke="#363636" stroke-width="0.05">binding</text>
<line x1="361.30" y1="517.99" x2="363.70" y2="517.99" stroke="#333" stroke-width="0.9"/>
<text x="360.10" y="529.09" font-size="8.0" text-anchor="end" fill="#363636" textLength="52.24" lengthAdjust="spacingAndGlyphs" stroke="#363636" stroke-width="0.05">protein binding</text>
<line x1="361.30" y1="526.45" x2="363.70" y2="526.45" stroke="#333" stroke-width="0.9"/>
<text x="360.10" y="537.54" font-size="8.0" text-anchor="end" fill="#363636" textLength="39.01" lengthAdjust="spacingAndGlyphs" stroke="#363636" stroke-width="0.05">ion binding</text>
<line x1="361.30" y1="534.90" x2="363.70" y2="534.90" stroke="#333" stroke-width="0.9"/>
<text x="360.10" y="545.99" font-size="8.0" text-anchor="end" fill="#363636" textLength="86.49" lengthAdjust="spacingAndGlyphs" stroke="#363636" stroke-width="0.05">GTPase activator activity</text>
<line x1="361.30" y1="543.35" x2="363.70" y2="543.35" stroke="#333" stroke-width="0.9"/>
<text x="360.10" y="554.45" font-size="8.0" text-anchor="end" fill="#363636" textLength="87.44" lengthAdjust="spacingAndGlyphs" stroke="#363636" stroke-width="0.05">GTPase regulator activity</text>
<line x1="361.30" y1="551.81" x2="363.70" y2="551.81" stroke="#333" stroke-width="0.9"/>
<text x="360.10" y="562.90" font-size="8.0" text-anchor="end" fill="#363636" textLength="64.52" lengthAdjust="spacingAndGlyphs" stroke="#363636" stroke-width="0.05">nucleoside binding</text>
<line x1="361.30" y1="560.26" x2="363.70" y2="560.26" stroke="#333" stroke-width="0.9"/>
<text x="360.10" y="571.35" font-size="8.0" text-anchor="end" fill="#363636" textLength="78.23" lengthAdjust="spacingAndGlyphs" stroke="#363636" stroke-width="0.05">ribonucleoside binding</text>
<line x1="361.30" y1="568.71" x2="363.70" y2="568.71" stroke="#333" stroke-width="0.9"/>
<text x="360.10" y="579.81" font-size="8.0" text-anchor="end" fill="#363636" textLength="150.84" lengthAdjust="spacingAndGlyphs" stroke="#363636" stroke-width="0.05">nucleoside−triphosphatase regulator activity</text>
<line x1="361.30" y1="577.17" x2="363.70" y2="577.17" stroke="#333" stroke-width="0.9"/>
<text x="360.10" y="588.26" font-size="8.0" text-anchor="end" fill="#363636" textLength="101.15" lengthAdjust="spacingAndGlyphs" stroke="#363636" stroke-width="0.05">purine ribonucleotide binding</text>
<line x1="361.30" y1="585.62" x2="363.70" y2="585.62" stroke="#333" stroke-width="0.9"/>
<text x="360.10" y="596.71" font-size="8.0" text-anchor="end" fill="#363636" textLength="87.44" lengthAdjust="spacingAndGlyphs" stroke="#363636" stroke-width="0.05">purine nucleotide binding</text>
<line x1="361.30" y1="594.07" x2="363.70" y2="594.07" stroke="#333" stroke-width="0.9"/>
<path d="M245.64 348.93 H192.80 V425.01 H285.89" fill="none" stroke="#3A3A3A" stroke-width="1.0"/>
<text x="180.62" y="386.97" font-size="12.5" text-anchor="middle" fill="#1A1A1A" transform="rotate(-90 180.62 386.97)">BP</text>
<path d="M243.13 433.46 H192.80 V509.54 H327.72" fill="none" stroke="#3A3A3A" stroke-width="1.0"/>
<text x="180.62" y="471.50" font-size="12.5" text-anchor="middle" fill="#1A1A1A" transform="rotate(-90 180.62 471.50)">CC</text>
<path d="M329.60 517.99 H192.80 V594.07 H268.16" fill="none" stroke="#3A3A3A" stroke-width="1.0"/>
<text x="180.62" y="556.03" font-size="12.5" text-anchor="middle" fill="#1A1A1A" transform="rotate(-90 180.62 556.03)">MF</text>
<line x1="363.80" y1="598.30" x2="363.80" y2="600.80" stroke="#333" stroke-width="0.9"/>
<text x="369.40" y="601.90" font-size="8.2" text-anchor="end" fill="#262626" transform="rotate(-90 369.40 601.90)">0</text>
<line x1="453.20" y1="598.30" x2="453.20" y2="600.80" stroke="#333" stroke-width="0.9"/>
<text x="458.80" y="601.90" font-size="8.2" text-anchor="end" fill="#262626" transform="rotate(-90 458.80 601.90)">10</text>
<line x1="542.50" y1="598.30" x2="542.50" y2="600.80" stroke="#333" stroke-width="0.9"/>
<text x="548.10" y="601.90" font-size="8.2" text-anchor="end" fill="#262626" transform="rotate(-90 548.10 601.90)">20</text>
<line x1="632.00" y1="598.30" x2="632.00" y2="600.80" stroke="#333" stroke-width="0.9"/>
<text x="637.60" y="601.90" font-size="8.2" text-anchor="end" fill="#262626" transform="rotate(-90 637.60 601.90)">30</text>
<text x="501.00" y="627.00" font-size="21" text-anchor="middle" fill="#000">−log(Pvalue)</text>
<rect x="1009.80" y="342.20" width="236.80" height="8.677" fill="#D90000"/>
<rect x="1009.80" y="350.88" width="236.80" height="8.677" fill="#D90000"/>
<rect x="1009.80" y="359.55" width="236.80" height="8.677" fill="#D90000"/>
<rect x="1009.80" y="368.23" width="213.40" height="8.677" fill="#D90000"/>
<rect x="1009.80" y="376.91" width="212.80" height="8.677" fill="#D90000"/>
<rect x="1009.80" y="385.58" width="204.80" height="8.677" fill="#D90000"/>
<rect x="1009.80" y="394.26" width="203.40" height="8.677" fill="#D90000"/>
<rect x="1009.80" y="402.94" width="200.40" height="8.677" fill="#D90000"/>
<rect x="1009.80" y="411.61" width="190.50" height="8.677" fill="#D90000"/>
<rect x="1009.80" y="420.29" width="189.50" height="8.677" fill="#D90000"/>
<rect x="1009.80" y="428.97" width="236.80" height="8.677" fill="#FFFF33"/>
<rect x="1009.80" y="437.64" width="236.80" height="8.677" fill="#FFFF33"/>
<rect x="1009.80" y="446.32" width="236.80" height="8.677" fill="#FFFF33"/>
<rect x="1009.80" y="455.00" width="236.80" height="8.677" fill="#FFFF33"/>
<rect x="1009.80" y="463.67" width="236.80" height="8.677" fill="#FFFF33"/>
<rect x="1009.80" y="472.35" width="233.80" height="8.677" fill="#FFFF33"/>
<rect x="1009.80" y="481.03" width="233.80" height="8.677" fill="#FFFF33"/>
<rect x="1009.80" y="489.70" width="228.40" height="8.677" fill="#FFFF33"/>
<rect x="1009.80" y="498.38" width="225.40" height="8.677" fill="#FFFF33"/>
<rect x="1009.80" y="507.06" width="221.80" height="8.677" fill="#FFFF33"/>
<rect x="1009.80" y="515.73" width="236.80" height="8.677" fill="#0000F5"/>
<rect x="1009.80" y="524.41" width="187.80" height="8.677" fill="#0000F5"/>
<rect x="1009.80" y="533.09" width="138.80" height="8.677" fill="#0000F5"/>
<rect x="1009.80" y="541.76" width="135.50" height="8.677" fill="#0000F5"/>
<rect x="1009.80" y="550.44" width="131.50" height="8.677" fill="#0000F5"/>
<rect x="1009.80" y="559.12" width="123.80" height="8.677" fill="#0000F5"/>
<rect x="1009.80" y="567.79" width="122.60" height="8.677" fill="#0000F5"/>
<rect x="1009.80" y="576.47" width="120.80" height="8.677" fill="#0000F5"/>
<rect x="1009.80" y="585.15" width="120.60" height="8.677" fill="#0000F5"/>
<rect x="1009.80" y="593.82" width="117.60" height="8.677" fill="#0000F5"/>
<rect x="1009.80" y="350.48" width="236.80" height="0.8" fill="#fff" fill-opacity="0.85"/>
<rect x="1009.80" y="359.15" width="236.80" height="0.8" fill="#fff" fill-opacity="0.85"/>
<rect x="1009.80" y="367.83" width="236.80" height="0.8" fill="#fff" fill-opacity="0.85"/>
<rect x="1009.80" y="376.51" width="213.40" height="0.8" fill="#fff" fill-opacity="0.85"/>
<rect x="1009.80" y="385.18" width="212.80" height="0.8" fill="#fff" fill-opacity="0.85"/>
<rect x="1009.80" y="393.86" width="204.80" height="0.8" fill="#fff" fill-opacity="0.85"/>
<rect x="1009.80" y="402.54" width="203.40" height="0.8" fill="#fff" fill-opacity="0.85"/>
<rect x="1009.80" y="411.21" width="200.40" height="0.8" fill="#fff" fill-opacity="0.85"/>
<rect x="1009.80" y="419.89" width="190.50" height="0.8" fill="#fff" fill-opacity="0.85"/>
<rect x="1009.80" y="428.57" width="236.80" height="0.8" fill="#fff" fill-opacity="0.85"/>
<rect x="1009.80" y="437.24" width="236.80" height="0.8" fill="#fff" fill-opacity="0.85"/>
<rect x="1009.80" y="445.92" width="236.80" height="0.8" fill="#fff" fill-opacity="0.85"/>
<rect x="1009.80" y="454.60" width="236.80" height="0.8" fill="#fff" fill-opacity="0.85"/>
<rect x="1009.80" y="463.27" width="236.80" height="0.8" fill="#fff" fill-opacity="0.85"/>
<rect x="1009.80" y="471.95" width="236.80" height="0.8" fill="#fff" fill-opacity="0.85"/>
<rect x="1009.80" y="480.63" width="233.80" height="0.8" fill="#fff" fill-opacity="0.85"/>
<rect x="1009.80" y="489.30" width="233.80" height="0.8" fill="#fff" fill-opacity="0.85"/>
<rect x="1009.80" y="497.98" width="228.40" height="0.8" fill="#fff" fill-opacity="0.85"/>
<rect x="1009.80" y="506.66" width="225.40" height="0.8" fill="#fff" fill-opacity="0.85"/>
<rect x="1009.80" y="515.33" width="236.80" height="0.8" fill="#fff" fill-opacity="0.85"/>
<rect x="1009.80" y="524.01" width="236.80" height="0.8" fill="#fff" fill-opacity="0.85"/>
<rect x="1009.80" y="532.69" width="187.80" height="0.8" fill="#fff" fill-opacity="0.85"/>
<rect x="1009.80" y="541.36" width="138.80" height="0.8" fill="#fff" fill-opacity="0.85"/>
<rect x="1009.80" y="550.04" width="135.50" height="0.8" fill="#fff" fill-opacity="0.85"/>
<rect x="1009.80" y="558.72" width="131.50" height="0.8" fill="#fff" fill-opacity="0.85"/>
<rect x="1009.80" y="567.39" width="123.80" height="0.8" fill="#fff" fill-opacity="0.85"/>
<rect x="1009.80" y="576.07" width="122.60" height="0.8" fill="#fff" fill-opacity="0.85"/>
<rect x="1009.80" y="584.75" width="120.80" height="0.8" fill="#fff" fill-opacity="0.85"/>
<rect x="1009.80" y="593.42" width="120.60" height="0.8" fill="#fff" fill-opacity="0.85"/>
<rect x="1009.80" y="341.00" width="243.60" height="261.50" fill="none" stroke="#7A7A78" stroke-width="1.3"/>
<text x="1006.20" y="349.18" font-size="8.0" text-anchor="end" fill="#363636" textLength="109.70" lengthAdjust="spacingAndGlyphs" stroke="#363636" stroke-width="0.05">cellular component organization</text>
<line x1="1007.40" y1="346.54" x2="1009.80" y2="346.54" stroke="#333" stroke-width="0.9"/>
<text x="1006.20" y="357.85" font-size="8.0" text-anchor="end" fill="#363636" textLength="156.86" lengthAdjust="spacingAndGlyphs" stroke="#363636" stroke-width="0.05">cellular component organization or biogenesis</text>
<line x1="1007.40" y1="355.21" x2="1009.80" y2="355.21" stroke="#333" stroke-width="0.9"/>
<text x="1006.20" y="366.53" font-size="8.0" text-anchor="end" fill="#363636" textLength="75.83" lengthAdjust="spacingAndGlyphs" stroke="#363636" stroke-width="0.05">organelle organization</text>
<line x1="1007.40" y1="363.89" x2="1009.80" y2="363.89" stroke="#333" stroke-width="0.9"/>
<text x="1006.20" y="375.21" font-size="8.0" text-anchor="end" fill="#363636" textLength="188.69" lengthAdjust="spacingAndGlyphs" stroke="#363636" stroke-width="0.05">plasma membrane bounded cell projection organization</text>
<line x1="1007.40" y1="372.57" x2="1009.80" y2="372.57" stroke="#333" stroke-width="0.9"/>
<text x="1006.20" y="383.88" font-size="8.0" text-anchor="end" fill="#363636" textLength="93.20" lengthAdjust="spacingAndGlyphs" stroke="#363636" stroke-width="0.05">cell projection organization</text>
<line x1="1007.40" y1="381.25" x2="1009.80" y2="381.25" stroke="#333" stroke-width="0.9"/>
<text x="1006.20" y="392.56" font-size="8.0" text-anchor="end" fill="#363636" textLength="74.10" lengthAdjust="spacingAndGlyphs" stroke="#363636" stroke-width="0.05">neuron differentiation</text>
<line x1="1007.40" y1="389.92" x2="1009.80" y2="389.92" stroke="#333" stroke-width="0.9"/>
<text x="1006.20" y="401.24" font-size="8.0" text-anchor="end" fill="#363636" textLength="74.03" lengthAdjust="spacingAndGlyphs" stroke="#363636" stroke-width="0.05">generation of neurons</text>
<line x1="1007.40" y1="398.60" x2="1009.80" y2="398.60" stroke="#333" stroke-width="0.9"/>
<text x="1006.20" y="409.91" font-size="8.0" text-anchor="end" fill="#363636" textLength="106.09" lengthAdjust="spacingAndGlyphs" stroke="#363636" stroke-width="0.05">neuron projection development</text>
<line x1="1007.40" y1="407.27" x2="1009.80" y2="407.27" stroke="#333" stroke-width="0.9"/>
<text x="1006.20" y="418.59" font-size="8.0" text-anchor="end" fill="#363636" textLength="44.33" lengthAdjust="spacingAndGlyphs" stroke="#363636" stroke-width="0.05">neurogenesis</text>
<line x1="1007.40" y1="415.95" x2="1009.80" y2="415.95" stroke="#333" stroke-width="0.9"/>
<text x="1006.20" y="427.27" font-size="8.0" text-anchor="end" fill="#363636" textLength="69.55" lengthAdjust="spacingAndGlyphs" stroke="#363636" stroke-width="0.05">neuron development</text>
<line x1="1007.40" y1="424.63" x2="1009.80" y2="424.63" stroke="#333" stroke-width="0.9"/>
<text x="1006.20" y="435.94" font-size="8.0" text-anchor="end" fill="#363636" textLength="112.20" lengthAdjust="spacingAndGlyphs" stroke="#363636" stroke-width="0.05">intracellular anatomical structure</text>
<line x1="1007.40" y1="433.31" x2="1009.80" y2="433.31" stroke="#333" stroke-width="0.9"/>
<text x="1006.20" y="444.62" font-size="8.0" text-anchor="end" fill="#363636" textLength="74.57" lengthAdjust="spacingAndGlyphs" stroke="#363636" stroke-width="0.05">intracellular organelle</text>
<line x1="1007.40" y1="441.98" x2="1009.80" y2="441.98" stroke="#333" stroke-width="0.9"/>
<text x="1006.20" y="453.30" font-size="8.0" text-anchor="end" fill="#363636" textLength="31.43" lengthAdjust="spacingAndGlyphs" stroke="#363636" stroke-width="0.05">organelle</text>
<line x1="1007.40" y1="450.66" x2="1009.80" y2="450.66" stroke="#333" stroke-width="0.9"/>
<text x="1006.20" y="461.98" font-size="8.0" text-anchor="end" fill="#363636" textLength="146.55" lengthAdjust="spacingAndGlyphs" stroke="#363636" stroke-width="0.05">intracellular membrane−bounded organelle</text>
<line x1="1007.40" y1="459.34" x2="1009.80" y2="459.34" stroke="#333" stroke-width="0.9"/>
<text x="1006.20" y="470.65" font-size="8.0" text-anchor="end" fill="#363636" textLength="101.62" lengthAdjust="spacingAndGlyphs" stroke="#363636" stroke-width="0.05">somatodendritic compartment</text>
<line x1="1007.40" y1="468.01" x2="1009.80" y2="468.01" stroke="#333" stroke-width="0.9"/>
<text x="1006.20" y="479.33" font-size="8.0" text-anchor="end" fill="#363636" textLength="27.82" lengthAdjust="spacingAndGlyphs" stroke="#363636" stroke-width="0.05">dendrite</text>
<line x1="1007.40" y1="476.69" x2="1009.80" y2="476.69" stroke="#333" stroke-width="0.9"/>
<text x="1006.20" y="488.00" font-size="8.0" text-anchor="end" fill="#363636" textLength="45.02" lengthAdjust="spacingAndGlyphs" stroke="#363636" stroke-width="0.05">dendritic tree</text>
<line x1="1007.40" y1="485.37" x2="1009.80" y2="485.37" stroke="#333" stroke-width="0.9"/>
<text x="1006.20" y="496.68" font-size="8.0" text-anchor="end" fill="#363636" textLength="144.28" lengthAdjust="spacingAndGlyphs" stroke="#363636" stroke-width="0.05">plasma membrane bounded cell projection</text>
<line x1="1007.40" y1="494.04" x2="1009.80" y2="494.04" stroke="#333" stroke-width="0.9"/>
<text x="1006.20" y="505.36" font-size="8.0" text-anchor="end" fill="#363636" textLength="60.12" lengthAdjust="spacingAndGlyphs" stroke="#363636" stroke-width="0.05">neuron projection</text>
<line x1="1007.40" y1="502.72" x2="1009.80" y2="502.72" stroke="#333" stroke-width="0.9"/>
<text x="1006.20" y="514.03" font-size="8.0" text-anchor="end" fill="#363636" textLength="48.80" lengthAdjust="spacingAndGlyphs" stroke="#363636" stroke-width="0.05">cell projection</text>
<line x1="1007.40" y1="511.39" x2="1009.80" y2="511.39" stroke="#333" stroke-width="0.9"/>
<text x="1006.20" y="522.71" font-size="8.0" text-anchor="end" fill="#363636" textLength="25.94" lengthAdjust="spacingAndGlyphs" stroke="#363636" stroke-width="0.05">binding</text>
<line x1="1007.40" y1="520.07" x2="1009.80" y2="520.07" stroke="#333" stroke-width="0.9"/>
<text x="1006.20" y="531.39" font-size="8.0" text-anchor="end" fill="#363636" textLength="52.11" lengthAdjust="spacingAndGlyphs" stroke="#363636" stroke-width="0.05">protein binding</text>
<line x1="1007.40" y1="528.75" x2="1009.80" y2="528.75" stroke="#333" stroke-width="0.9"/>
<text x="1006.20" y="540.06" font-size="8.0" text-anchor="end" fill="#363636" textLength="87.23" lengthAdjust="spacingAndGlyphs" stroke="#363636" stroke-width="0.05">GTPase regulator activity</text>
<line x1="1007.40" y1="537.42" x2="1009.80" y2="537.42" stroke="#333" stroke-width="0.9"/>
<text x="1006.20" y="548.74" font-size="8.0" text-anchor="end" fill="#363636" textLength="86.29" lengthAdjust="spacingAndGlyphs" stroke="#363636" stroke-width="0.05">GTPase activator activity</text>
<line x1="1007.40" y1="546.10" x2="1009.80" y2="546.10" stroke="#333" stroke-width="0.9"/>
<text x="1006.20" y="557.42" font-size="8.0" text-anchor="end" fill="#363636" textLength="150.49" lengthAdjust="spacingAndGlyphs" stroke="#363636" stroke-width="0.05">nucleoside−triphosphatase regulator activity</text>
<line x1="1007.40" y1="554.78" x2="1009.80" y2="554.78" stroke="#333" stroke-width="0.9"/>
<text x="1006.20" y="566.10" font-size="8.0" text-anchor="end" fill="#363636" textLength="38.91" lengthAdjust="spacingAndGlyphs" stroke="#363636" stroke-width="0.05">ion binding</text>
<line x1="1007.40" y1="563.46" x2="1009.80" y2="563.46" stroke="#333" stroke-width="0.9"/>
<text x="1006.20" y="574.77" font-size="8.0" text-anchor="end" fill="#363636" textLength="54.46" lengthAdjust="spacingAndGlyphs" stroke="#363636" stroke-width="0.05">enzyme binding</text>
<line x1="1007.40" y1="572.13" x2="1009.80" y2="572.13" stroke="#333" stroke-width="0.9"/>
<text x="1006.20" y="583.45" font-size="8.0" text-anchor="end" fill="#363636" textLength="64.37" lengthAdjust="spacingAndGlyphs" stroke="#363636" stroke-width="0.05">nucleoside binding</text>
<line x1="1007.40" y1="580.81" x2="1009.80" y2="580.81" stroke="#333" stroke-width="0.9"/>
<text x="1006.20" y="592.12" font-size="8.0" text-anchor="end" fill="#363636" textLength="78.05" lengthAdjust="spacingAndGlyphs" stroke="#363636" stroke-width="0.05">ribonucleoside binding</text>
<line x1="1007.40" y1="589.49" x2="1009.80" y2="589.49" stroke="#333" stroke-width="0.9"/>
<text x="1006.20" y="600.80" font-size="8.0" text-anchor="end" fill="#363636" textLength="101.86" lengthAdjust="spacingAndGlyphs" stroke="#363636" stroke-width="0.05">purine ribonucleoside binding</text>
<line x1="1007.40" y1="598.16" x2="1009.80" y2="598.16" stroke="#333" stroke-width="0.9"/>
<path d="M892.00 346.54 H807.70 V424.63 H932.15" fill="none" stroke="#3A3A3A" stroke-width="1.0"/>
<text x="796.42" y="385.58" font-size="12.5" text-anchor="middle" fill="#1A1A1A" transform="rotate(-90 796.42 385.58)">BP</text>
<path d="M889.50 433.31 H807.70 V511.39 H952.90" fill="none" stroke="#3A3A3A" stroke-width="1.0"/>
<text x="796.42" y="472.35" font-size="12.5" text-anchor="middle" fill="#1A1A1A" transform="rotate(-90 796.42 472.35)">CC</text>
<path d="M975.76 520.07 H807.70 V598.16 H899.84" fill="none" stroke="#3A3A3A" stroke-width="1.0"/>
<text x="796.42" y="559.12" font-size="12.5" text-anchor="middle" fill="#1A1A1A" transform="rotate(-90 796.42 559.12)">MF</text>
<line x1="1009.80" y1="602.50" x2="1009.80" y2="605.00" stroke="#333" stroke-width="0.9"/>
<text x="1015.40" y="606.10" font-size="8.2" text-anchor="end" fill="#262626" transform="rotate(-90 1015.40 606.10)">0</text>
<line x1="1088.70" y1="602.50" x2="1088.70" y2="605.00" stroke="#333" stroke-width="0.9"/>
<text x="1094.30" y="606.10" font-size="8.2" text-anchor="end" fill="#262626" transform="rotate(-90 1094.30 606.10)">10</text>
<line x1="1167.40" y1="602.50" x2="1167.40" y2="605.00" stroke="#333" stroke-width="0.9"/>
<text x="1173.00" y="606.10" font-size="8.2" text-anchor="end" fill="#262626" transform="rotate(-90 1173.00 606.10)">20</text>
<line x1="1246.50" y1="602.50" x2="1246.50" y2="605.00" stroke="#333" stroke-width="0.9"/>
<text x="1252.10" y="606.10" font-size="8.2" text-anchor="end" fill="#262626" transform="rotate(-90 1252.10 606.10)">30</text>
<text x="1131.00" y="631.00" font-size="21" text-anchor="middle" fill="#000">−log(Pvalue)</text>
<rect x="364.30" y="642.70" width="171.30" height="8.620" fill="#D90000"/>
<rect x="364.30" y="651.32" width="165.30" height="8.620" fill="#D90000"/>
<rect x="364.30" y="659.94" width="157.30" height="8.620" fill="#D90000"/>
<rect x="364.30" y="668.56" width="156.30" height="8.620" fill="#D90000"/>
<rect x="364.30" y="677.18" width="155.30" height="8.620" fill="#D90000"/>
<rect x="364.30" y="685.80" width="149.30" height="8.620" fill="#D90000"/>
<rect x="364.30" y="694.42" width="139.30" height="8.620" fill="#D90000"/>
<rect x="364.30" y="703.04" width="138.30" height="8.620" fill="#D90000"/>
<rect x="364.30" y="711.66" width="132.30" height="8.620" fill="#D90000"/>
<rect x="364.30" y="720.28" width="126.30" height="8.620" fill="#D90000"/>
<rect x="364.30" y="728.90" width="143.30" height="8.620" fill="#FFFF33"/>
<rect x="364.30" y="737.52" width="140.30" height="8.620" fill="#FFFF33"/>
<rect x="364.30" y="746.14" width="139.30" height="8.620" fill="#FFFF33"/>
<rect x="364.30" y="754.76" width="131.30" height="8.620" fill="#FFFF33"/>
<rect x="364.30" y="763.38" width="131.30" height="8.620" fill="#FFFF33"/>
<rect x="364.30" y="772.00" width="129.30" height="8.620" fill="#FFFF33"/>
<rect x="364.30" y="780.62" width="128.30" height="8.620" fill="#FFFF33"/>
<rect x="364.30" y="789.24" width="121.30" height="8.620" fill="#FFFF33"/>
<rect x="364.30" y="797.86" width="114.30" height="8.620" fill="#FFFF33"/>
<rect x="364.30" y="806.48" width="114.30" height="8.620" fill="#FFFF33"/>
<rect x="364.30" y="815.10" width="261.70" height="8.620" fill="#0000F5"/>
<rect x="364.30" y="823.72" width="191.30" height="8.620" fill="#0000F5"/>
<rect x="364.30" y="832.34" width="110.30" height="8.620" fill="#0000F5"/>
<rect x="364.30" y="840.96" width="109.30" height="8.620" fill="#0000F5"/>
<rect x="364.30" y="849.58" width="109.30" height="8.620" fill="#0000F5"/>
<rect x="364.30" y="858.20" width="97.30" height="8.620" fill="#0000F5"/>
<rect x="364.30" y="866.82" width="95.30" height="8.620" fill="#0000F5"/>
<rect x="364.30" y="875.44" width="90.30" height="8.620" fill="#0000F5"/>
<rect x="364.30" y="884.06" width="90.30" height="8.620" fill="#0000F5"/>
<rect x="364.30" y="892.68" width="90.30" height="8.620" fill="#0000F5"/>
<rect x="364.30" y="650.92" width="171.30" height="0.8" fill="#fff" fill-opacity="0.85"/>
<rect x="364.30" y="659.54" width="165.30" height="0.8" fill="#fff" fill-opacity="0.85"/>
<rect x="364.30" y="668.16" width="157.30" height="0.8" fill="#fff" fill-opacity="0.85"/>
<rect x="364.30" y="676.78" width="156.30" height="0.8" fill="#fff" fill-opacity="0.85"/>
<rect x="364.30" y="685.40" width="155.30" height="0.8" fill="#fff" fill-opacity="0.85"/>
<rect x="364.30" y="694.02" width="149.30" height="0.8" fill="#fff" fill-opacity="0.85"/>
<rect x="364.30" y="702.64" width="139.30" height="0.8" fill="#fff" fill-opacity="0.85"/>
<rect x="364.30" y="711.26" width="138.30" height="0.8" fill="#fff" fill-opacity="0.85"/>
<rect x="364.30" y="719.88" width="132.30" height="0.8" fill="#fff" fill-opacity="0.85"/>
<rect x="364.30" y="728.50" width="143.30" height="0.8" fill="#fff" fill-opacity="0.85"/>
<rect x="364.30" y="737.12" width="143.30" height="0.8" fill="#fff" fill-opacity="0.85"/>
<rect x="364.30" y="745.74" width="140.30" height="0.8" fill="#fff" fill-opacity="0.85"/>
<rect x="364.30" y="754.36" width="139.30" height="0.8" fill="#fff" fill-opacity="0.85"/>
<rect x="364.30" y="762.98" width="131.30" height="0.8" fill="#fff" fill-opacity="0.85"/>
<rect x="364.30" y="771.60" width="131.30" height="0.8" fill="#fff" fill-opacity="0.85"/>
<rect x="364.30" y="780.22" width="129.30" height="0.8" fill="#fff" fill-opacity="0.85"/>
<rect x="364.30" y="788.84" width="128.30" height="0.8" fill="#fff" fill-opacity="0.85"/>
<rect x="364.30" y="797.46" width="121.30" height="0.8" fill="#fff" fill-opacity="0.85"/>
<rect x="364.30" y="806.08" width="114.30" height="0.8" fill="#fff" fill-opacity="0.85"/>
<rect x="364.30" y="814.70" width="261.70" height="0.8" fill="#fff" fill-opacity="0.85"/>
<rect x="364.30" y="823.32" width="261.70" height="0.8" fill="#fff" fill-opacity="0.85"/>
<rect x="364.30" y="831.94" width="191.30" height="0.8" fill="#fff" fill-opacity="0.85"/>
<rect x="364.30" y="840.56" width="110.30" height="0.8" fill="#fff" fill-opacity="0.85"/>
<rect x="364.30" y="849.18" width="109.30" height="0.8" fill="#fff" fill-opacity="0.85"/>
<rect x="364.30" y="857.80" width="109.30" height="0.8" fill="#fff" fill-opacity="0.85"/>
<rect x="364.30" y="866.42" width="97.30" height="0.8" fill="#fff" fill-opacity="0.85"/>
<rect x="364.30" y="875.04" width="95.30" height="0.8" fill="#fff" fill-opacity="0.85"/>
<rect x="364.30" y="883.66" width="90.30" height="0.8" fill="#fff" fill-opacity="0.85"/>
<rect x="364.30" y="892.28" width="90.30" height="0.8" fill="#fff" fill-opacity="0.85"/>
<rect x="364.30" y="641.50" width="270.00" height="259.80" fill="none" stroke="#7A7A78" stroke-width="1.3"/>
<text x="360.70" y="649.65" font-size="8.0" text-anchor="end" fill="#363636" textLength="61.67" lengthAdjust="spacingAndGlyphs" stroke="#363636" stroke-width="0.05">cell differentiation</text>
<line x1="361.90" y1="647.01" x2="364.30" y2="647.01" stroke="#333" stroke-width="0.9"/>
<text x="360.70" y="658.27" font-size="8.0" text-anchor="end" fill="#363636" textLength="153.63" lengthAdjust="spacingAndGlyphs" stroke="#363636" stroke-width="0.05">regulation of multicellular organismal process</text>
<line x1="361.90" y1="655.63" x2="364.30" y2="655.63" stroke="#333" stroke-width="0.9"/>
<text x="360.70" y="666.89" font-size="8.0" text-anchor="end" fill="#363636" textLength="57.20" lengthAdjust="spacingAndGlyphs" stroke="#363636" stroke-width="0.05">cell development</text>
<line x1="361.90" y1="664.25" x2="364.30" y2="664.25" stroke="#333" stroke-width="0.9"/>
<text x="360.70" y="675.51" font-size="8.0" text-anchor="end" fill="#363636" textLength="103.28" lengthAdjust="spacingAndGlyphs" stroke="#363636" stroke-width="0.05">cellular developmental process</text>
<line x1="361.90" y1="672.87" x2="364.30" y2="672.87" stroke="#333" stroke-width="0.9"/>
<text x="360.70" y="684.13" font-size="8.0" text-anchor="end" fill="#363636" textLength="72.72" lengthAdjust="spacingAndGlyphs" stroke="#363636" stroke-width="0.05">generation of neurons</text>
<line x1="361.90" y1="681.49" x2="364.30" y2="681.49" stroke="#333" stroke-width="0.9"/>
<text x="360.70" y="692.75" font-size="8.0" text-anchor="end" fill="#363636" textLength="43.54" lengthAdjust="spacingAndGlyphs" stroke="#363636" stroke-width="0.05">neurogenesis</text>
<line x1="361.90" y1="690.11" x2="364.30" y2="690.11" stroke="#333" stroke-width="0.9"/>
<text x="360.70" y="701.37" font-size="8.0" text-anchor="end" fill="#363636" textLength="68.32" lengthAdjust="spacingAndGlyphs" stroke="#363636" stroke-width="0.05">neuron development</text>
<line x1="361.90" y1="698.73" x2="364.30" y2="698.73" stroke="#333" stroke-width="0.9"/>
<text x="360.70" y="709.99" font-size="8.0" text-anchor="end" fill="#363636" textLength="72.80" lengthAdjust="spacingAndGlyphs" stroke="#363636" stroke-width="0.05">neuron differentiation</text>
<line x1="361.90" y1="707.35" x2="364.30" y2="707.35" stroke="#333" stroke-width="0.9"/>
<text x="360.70" y="718.61" font-size="8.0" text-anchor="end" fill="#363636" textLength="38.90" lengthAdjust="spacingAndGlyphs" stroke="#363636" stroke-width="0.05">localization</text>
<line x1="361.90" y1="715.97" x2="364.30" y2="715.97" stroke="#333" stroke-width="0.9"/>
<text x="360.70" y="727.23" font-size="8.0" text-anchor="end" fill="#363636" textLength="104.22" lengthAdjust="spacingAndGlyphs" stroke="#363636" stroke-width="0.05">neuron projection development</text>
<line x1="361.90" y1="724.59" x2="364.30" y2="724.59" stroke="#333" stroke-width="0.9"/>
<text x="360.70" y="735.85" font-size="8.0" text-anchor="end" fill="#363636" textLength="59.06" lengthAdjust="spacingAndGlyphs" stroke="#363636" stroke-width="0.05">neuron projection</text>
<line x1="361.90" y1="733.21" x2="364.30" y2="733.21" stroke="#333" stroke-width="0.9"/>
<text x="360.70" y="744.47" font-size="8.0" text-anchor="end" fill="#363636" textLength="41.46" lengthAdjust="spacingAndGlyphs" stroke="#363636" stroke-width="0.05">cell junction</text>
<line x1="361.90" y1="741.83" x2="364.30" y2="741.83" stroke="#333" stroke-width="0.9"/>
<text x="360.70" y="753.09" font-size="8.0" text-anchor="end" fill="#363636" textLength="40.31" lengthAdjust="spacingAndGlyphs" stroke="#363636" stroke-width="0.05">postsynapse</text>
<line x1="361.90" y1="750.45" x2="364.30" y2="750.45" stroke="#333" stroke-width="0.9"/>
<text x="360.70" y="761.71" font-size="8.0" text-anchor="end" fill="#363636" textLength="27.33" lengthAdjust="spacingAndGlyphs" stroke="#363636" stroke-width="0.05">dendrite</text>
<line x1="361.90" y1="759.07" x2="364.30" y2="759.07" stroke="#333" stroke-width="0.9"/>
<text x="360.70" y="770.33" font-size="8.0" text-anchor="end" fill="#363636" textLength="44.23" lengthAdjust="spacingAndGlyphs" stroke="#363636" stroke-width="0.05">dendritic tree</text>
<line x1="361.90" y1="767.69" x2="364.30" y2="767.69" stroke="#333" stroke-width="0.9"/>
<text x="360.70" y="778.95" font-size="8.0" text-anchor="end" fill="#363636" textLength="65.08" lengthAdjust="spacingAndGlyphs" stroke="#363636" stroke-width="0.05">synaptic membrane</text>
<line x1="361.90" y1="776.31" x2="364.30" y2="776.31" stroke="#333" stroke-width="0.9"/>
<text x="360.70" y="787.57" font-size="8.0" text-anchor="end" fill="#363636" textLength="26.41" lengthAdjust="spacingAndGlyphs" stroke="#363636" stroke-width="0.05">synapse</text>
<line x1="361.90" y1="784.93" x2="364.30" y2="784.93" stroke="#333" stroke-width="0.9"/>
<text x="360.70" y="796.19" font-size="8.0" text-anchor="end" fill="#363636" textLength="99.82" lengthAdjust="spacingAndGlyphs" stroke="#363636" stroke-width="0.05">somatodendritic compartment</text>
<line x1="361.90" y1="793.55" x2="364.30" y2="793.55" stroke="#333" stroke-width="0.9"/>
<text x="360.70" y="804.81" font-size="8.0" text-anchor="end" fill="#363636" textLength="141.73" lengthAdjust="spacingAndGlyphs" stroke="#363636" stroke-width="0.05">plasma membrane bounded cell projection</text>
<line x1="361.90" y1="802.17" x2="364.30" y2="802.17" stroke="#333" stroke-width="0.9"/>
<text x="360.70" y="813.43" font-size="8.0" text-anchor="end" fill="#363636" textLength="67.40" lengthAdjust="spacingAndGlyphs" stroke="#363636" stroke-width="0.05">asymmetric synapse</text>
<line x1="361.90" y1="810.79" x2="364.30" y2="810.79" stroke="#333" stroke-width="0.9"/>
<text x="360.70" y="822.05" font-size="8.0" text-anchor="end" fill="#363636" textLength="51.19" lengthAdjust="spacingAndGlyphs" stroke="#363636" stroke-width="0.05">protein binding</text>
<line x1="361.90" y1="819.41" x2="364.30" y2="819.41" stroke="#333" stroke-width="0.9"/>
<text x="360.70" y="830.67" font-size="8.0" text-anchor="end" fill="#363636" textLength="25.48" lengthAdjust="spacingAndGlyphs" stroke="#363636" stroke-width="0.05">binding</text>
<line x1="361.90" y1="828.03" x2="364.30" y2="828.03" stroke="#333" stroke-width="0.9"/>
<text x="360.70" y="839.29" font-size="8.0" text-anchor="end" fill="#363636" textLength="155.23" lengthAdjust="spacingAndGlyphs" stroke="#363636" stroke-width="0.05">extracellular ligand−gated ion channel activity</text>
<line x1="361.90" y1="836.65" x2="364.30" y2="836.65" stroke="#333" stroke-width="0.9"/>
<text x="360.70" y="847.91" font-size="8.0" text-anchor="end" fill="#363636" textLength="89.38" lengthAdjust="spacingAndGlyphs" stroke="#363636" stroke-width="0.05">glutamate receptor activity</text>
<line x1="361.90" y1="845.27" x2="364.30" y2="845.27" stroke="#333" stroke-width="0.9"/>
<text x="360.70" y="856.53" font-size="8.0" text-anchor="end" fill="#363636" textLength="87.55" lengthAdjust="spacingAndGlyphs" stroke="#363636" stroke-width="0.05">signaling receptor binding</text>
<line x1="361.90" y1="853.89" x2="364.30" y2="853.89" stroke="#333" stroke-width="0.9"/>
<text x="360.70" y="865.15" font-size="8.0" text-anchor="end" fill="#363636" textLength="125.75" lengthAdjust="spacingAndGlyphs" stroke="#363636" stroke-width="0.05">ionotropic glutamate receptor activity</text>
<line x1="361.90" y1="862.51" x2="364.30" y2="862.51" stroke="#333" stroke-width="0.9"/>
<text x="360.70" y="873.77" font-size="8.0" text-anchor="end" fill="#363636" textLength="106.31" lengthAdjust="spacingAndGlyphs" stroke="#363636" stroke-width="0.05">protein domain specific binding</text>
<line x1="361.90" y1="871.13" x2="364.30" y2="871.13" stroke="#333" stroke-width="0.9"/>
<text x="360.70" y="882.39" font-size="8.0" text-anchor="end" fill="#363636" textLength="126.75" lengthAdjust="spacingAndGlyphs" stroke="#363636" stroke-width="0.05">transmitter−gated ion channel activity</text>
<line x1="361.90" y1="879.75" x2="364.30" y2="879.75" stroke="#333" stroke-width="0.9"/>
<text x="360.70" y="891.01" font-size="8.0" text-anchor="end" fill="#363636" textLength="114.01" lengthAdjust="spacingAndGlyphs" stroke="#363636" stroke-width="0.05">transmitter−gated channel activity</text>
<line x1="361.90" y1="888.37" x2="364.30" y2="888.37" stroke="#333" stroke-width="0.9"/>
<text x="360.70" y="899.63" font-size="8.0" text-anchor="end" fill="#363636" textLength="81.99" lengthAdjust="spacingAndGlyphs" stroke="#363636" stroke-width="0.05">identical protein binding</text>
<line x1="361.90" y1="896.99" x2="364.30" y2="896.99" stroke="#333" stroke-width="0.9"/>
<path d="M294.53 647.01 H195.30 V724.59 H251.98" fill="none" stroke="#3A3A3A" stroke-width="1.0"/>
<text x="184.43" y="685.80" font-size="12.5" text-anchor="middle" fill="#1A1A1A" transform="rotate(-90 184.43 685.80)">BP</text>
<path d="M297.14 733.21 H195.30 V810.79 H288.80" fill="none" stroke="#3A3A3A" stroke-width="1.0"/>
<text x="184.43" y="772.00" font-size="12.5" text-anchor="middle" fill="#1A1A1A" transform="rotate(-90 184.43 772.00)">CC</text>
<path d="M305.01 819.41 H195.30 V896.99 H274.21" fill="none" stroke="#3A3A3A" stroke-width="1.0"/>
<text x="184.43" y="858.20" font-size="12.5" text-anchor="middle" fill="#1A1A1A" transform="rotate(-90 184.43 858.20)">MF</text>
<line x1="364.30" y1="901.30" x2="364.30" y2="903.80" stroke="#333" stroke-width="0.9"/>
<text x="369.90" y="904.90" font-size="8.2" text-anchor="end" fill="#262626" transform="rotate(-90 369.90 904.90)">0</text>
<line x1="431.20" y1="901.30" x2="431.20" y2="903.80" stroke="#333" stroke-width="0.9"/>
<text x="436.80" y="904.90" font-size="8.2" text-anchor="end" fill="#262626" transform="rotate(-90 436.80 904.90)">5</text>
<line x1="498.30" y1="901.30" x2="498.30" y2="903.80" stroke="#333" stroke-width="0.9"/>
<text x="503.90" y="904.90" font-size="8.2" text-anchor="end" fill="#262626" transform="rotate(-90 503.90 904.90)">10</text>
<line x1="565.10" y1="901.30" x2="565.10" y2="903.80" stroke="#333" stroke-width="0.9"/>
<text x="570.70" y="904.90" font-size="8.2" text-anchor="end" fill="#262626" transform="rotate(-90 570.70 904.90)">15</text>
<line x1="631.70" y1="901.30" x2="631.70" y2="903.80" stroke="#333" stroke-width="0.9"/>
<text x="637.30" y="904.90" font-size="8.2" text-anchor="end" fill="#262626" transform="rotate(-90 637.30 904.90)">20</text>
<text x="499.00" y="930.00" font-size="21" text-anchor="middle" fill="#000">−log(Pvalue)</text>
<rect x="1078.60" y="642.70" width="165.00" height="8.633" fill="#D90000"/>
<rect x="1078.60" y="651.33" width="156.00" height="8.633" fill="#D90000"/>
<rect x="1078.60" y="659.97" width="153.00" height="8.633" fill="#D90000"/>
<rect x="1078.60" y="668.60" width="149.00" height="8.633" fill="#D90000"/>
<rect x="1078.60" y="677.23" width="146.00" height="8.633" fill="#D90000"/>
<rect x="1078.60" y="685.87" width="145.60" height="8.633" fill="#D90000"/>
<rect x="1078.60" y="694.50" width="142.00" height="8.633" fill="#D90000"/>
<rect x="1078.60" y="703.13" width="141.60" height="8.633" fill="#D90000"/>
<rect x="1078.60" y="711.77" width="138.00" height="8.633" fill="#D90000"/>
<rect x="1078.60" y="720.40" width="132.60" height="8.633" fill="#D90000"/>
<rect x="1078.60" y="729.03" width="110.70" height="8.633" fill="#FFFF33"/>
<rect x="1078.60" y="737.67" width="101.70" height="8.633" fill="#FFFF33"/>
<rect x="1078.60" y="746.30" width="94.00" height="8.633" fill="#FFFF33"/>
<rect x="1078.60" y="754.93" width="80.70" height="8.633" fill="#FFFF33"/>
<rect x="1078.60" y="763.57" width="80.70" height="8.633" fill="#FFFF33"/>
<rect x="1078.60" y="772.20" width="80.70" height="8.633" fill="#FFFF33"/>
<rect x="1078.60" y="780.83" width="80.70" height="8.633" fill="#FFFF33"/>
<rect x="1078.60" y="789.47" width="80.70" height="8.633" fill="#FFFF33"/>
<rect x="1078.60" y="798.10" width="80.70" height="8.633" fill="#FFFF33"/>
<rect x="1078.60" y="806.73" width="80.70" height="8.633" fill="#FFFF33"/>
<rect x="1078.60" y="815.37" width="162.60" height="8.633" fill="#0000F5"/>
<rect x="1078.60" y="824.00" width="99.70" height="8.633" fill="#0000F5"/>
<rect x="1078.60" y="832.63" width="99.70" height="8.633" fill="#0000F5"/>
<rect x="1078.60" y="841.27" width="95.70" height="8.633" fill="#0000F5"/>
<rect x="1078.60" y="849.90" width="95.00" height="8.633" fill="#0000F5"/>
<rect x="1078.60" y="858.53" width="91.70" height="8.633" fill="#0000F5"/>
<rect x="1078.60" y="867.17" width="89.00" height="8.633" fill="#0000F5"/>
<rect x="1078.60" y="875.80" width="87.00" height="8.633" fill="#0000F5"/>
<rect x="1078.60" y="884.43" width="81.00" height="8.633" fill="#0000F5"/>
<rect x="1078.60" y="893.07" width="81.00" height="8.633" fill="#0000F5"/>
<rect x="1078.60" y="650.93" width="165.00" height="0.8" fill="#fff" fill-opacity="0.85"/>
<rect x="1078.60" y="659.57" width="156.00" height="0.8" fill="#fff" fill-opacity="0.85"/>
<rect x="1078.60" y="668.20" width="153.00" height="0.8" fill="#fff" fill-opacity="0.85"/>
<rect x="1078.60" y="676.83" width="149.00" height="0.8" fill="#fff" fill-opacity="0.85"/>
<rect x="1078.60" y="685.47" width="146.00" height="0.8" fill="#fff" fill-opacity="0.85"/>
<rect x="1078.60" y="694.10" width="145.60" height="0.8" fill="#fff" fill-opacity="0.85"/>
<rect x="1078.60" y="702.73" width="142.00" height="0.8" fill="#fff" fill-opacity="0.85"/>
<rect x="1078.60" y="711.37" width="141.60" height="0.8" fill="#fff" fill-opacity="0.85"/>
<rect x="1078.60" y="720.00" width="138.00" height="0.8" fill="#fff" fill-opacity="0.85"/>
<rect x="1078.60" y="728.63" width="132.60" height="0.8" fill="#fff" fill-opacity="0.85"/>
<rect x="1078.60" y="737.27" width="110.70" height="0.8" fill="#fff" fill-opacity="0.85"/>
<rect x="1078.60" y="745.90" width="101.70" height="0.8" fill="#fff" fill-opacity="0.85"/>
<rect x="1078.60" y="754.53" width="94.00" height="0.8" fill="#fff" fill-opacity="0.85"/>
<rect x="1078.60" y="763.17" width="80.70" height="0.8" fill="#fff" fill-opacity="0.85"/>
<rect x="1078.60" y="771.80" width="80.70" height="0.8" fill="#fff" fill-opacity="0.85"/>
<rect x="1078.60" y="780.43" width="80.70" height="0.8" fill="#fff" fill-opacity="0.85"/>
<rect x="1078.60" y="789.07" width="80.70" height="0.8" fill="#fff" fill-opacity="0.85"/>
<rect x="1078.60" y="797.70" width="80.70" height="0.8" fill="#fff" fill-opacity="0.85"/>
<rect x="1078.60" y="806.33" width="80.70" height="0.8" fill="#fff" fill-opacity="0.85"/>
<rect x="1078.60" y="814.97" width="162.60" height="0.8" fill="#fff" fill-opacity="0.85"/>
<rect x="1078.60" y="823.60" width="162.60" height="0.8" fill="#fff" fill-opacity="0.85"/>
<rect x="1078.60" y="832.23" width="99.70" height="0.8" fill="#fff" fill-opacity="0.85"/>
<rect x="1078.60" y="840.87" width="99.70" height="0.8" fill="#fff" fill-opacity="0.85"/>
<rect x="1078.60" y="849.50" width="95.70" height="0.8" fill="#fff" fill-opacity="0.85"/>
<rect x="1078.60" y="858.13" width="95.00" height="0.8" fill="#fff" fill-opacity="0.85"/>
<rect x="1078.60" y="866.77" width="91.70" height="0.8" fill="#fff" fill-opacity="0.85"/>
<rect x="1078.60" y="875.40" width="89.00" height="0.8" fill="#fff" fill-opacity="0.85"/>
<rect x="1078.60" y="884.03" width="87.00" height="0.8" fill="#fff" fill-opacity="0.85"/>
<rect x="1078.60" y="892.67" width="81.00" height="0.8" fill="#fff" fill-opacity="0.85"/>
<rect x="1078.60" y="641.50" width="169.40" height="260.20" fill="none" stroke="#7A7A78" stroke-width="1.3"/>
<text x="1075.00" y="649.66" font-size="8.0" text-anchor="end" fill="#363636" textLength="239.81" lengthAdjust="spacingAndGlyphs" stroke="#363636" stroke-width="0.05">antigen processing and presentation of peptide antigen via MHC class I</text>
<line x1="1076.20" y1="647.02" x2="1078.60" y2="647.02" stroke="#333" stroke-width="0.9"/>
<text x="1075.00" y="658.29" font-size="8.0" text-anchor="end" fill="#363636" textLength="104.97" lengthAdjust="spacingAndGlyphs" stroke="#363636" stroke-width="0.05">neuron projection development</text>
<line x1="1076.20" y1="655.65" x2="1078.60" y2="655.65" stroke="#333" stroke-width="0.9"/>
<text x="1075.00" y="666.92" font-size="8.0" text-anchor="end" fill="#363636" textLength="186.69" lengthAdjust="spacingAndGlyphs" stroke="#363636" stroke-width="0.05">plasma membrane bounded cell projection organization</text>
<line x1="1076.20" y1="664.28" x2="1078.60" y2="664.28" stroke="#333" stroke-width="0.9"/>
<text x="1075.00" y="675.56" font-size="8.0" text-anchor="end" fill="#363636" textLength="121.30" lengthAdjust="spacingAndGlyphs" stroke="#363636" stroke-width="0.05">anatomical structure morphogenesis</text>
<line x1="1076.20" y1="672.92" x2="1078.60" y2="672.92" stroke="#333" stroke-width="0.9"/>
<text x="1075.00" y="684.19" font-size="8.0" text-anchor="end" fill="#363636" textLength="92.21" lengthAdjust="spacingAndGlyphs" stroke="#363636" stroke-width="0.05">cell projection organization</text>
<line x1="1076.20" y1="681.55" x2="1078.60" y2="681.55" stroke="#333" stroke-width="0.9"/>
<text x="1075.00" y="692.82" font-size="8.0" text-anchor="end" fill="#363636" textLength="195.71" lengthAdjust="spacingAndGlyphs" stroke="#363636" stroke-width="0.05">plasma membrane bounded cell projection morphogenesis</text>
<line x1="1076.20" y1="690.18" x2="1078.60" y2="690.18" stroke="#333" stroke-width="0.9"/>
<text x="1075.00" y="701.46" font-size="8.0" text-anchor="end" fill="#363636" textLength="180.63" lengthAdjust="spacingAndGlyphs" stroke="#363636" stroke-width="0.05">cell morphogenesis involved in neuron differentiation</text>
<line x1="1076.20" y1="698.82" x2="1078.60" y2="698.82" stroke="#333" stroke-width="0.9"/>
<text x="1075.00" y="710.09" font-size="8.0" text-anchor="end" fill="#363636" textLength="68.81" lengthAdjust="spacingAndGlyphs" stroke="#363636" stroke-width="0.05">neuron development</text>
<line x1="1076.20" y1="707.45" x2="1078.60" y2="707.45" stroke="#333" stroke-width="0.9"/>
<text x="1075.00" y="718.72" font-size="8.0" text-anchor="end" fill="#363636" textLength="112.44" lengthAdjust="spacingAndGlyphs" stroke="#363636" stroke-width="0.05">neuron projection morphogenesis</text>
<line x1="1076.20" y1="716.08" x2="1078.60" y2="716.08" stroke="#333" stroke-width="0.9"/>
<text x="1075.00" y="727.36" font-size="8.0" text-anchor="end" fill="#363636" textLength="101.24" lengthAdjust="spacingAndGlyphs" stroke="#363636" stroke-width="0.05">cell projection morphogenesis</text>
<line x1="1076.20" y1="724.72" x2="1078.60" y2="724.72" stroke="#333" stroke-width="0.9"/>
<text x="1075.00" y="735.99" font-size="8.0" text-anchor="end" fill="#363636" textLength="23.09" lengthAdjust="spacingAndGlyphs" stroke="#363636" stroke-width="0.05">cell tip</text>
<line x1="1076.20" y1="733.35" x2="1078.60" y2="733.35" stroke="#333" stroke-width="0.9"/>
<text x="1075.00" y="744.62" font-size="8.0" text-anchor="end" fill="#363636" textLength="28.69" lengthAdjust="spacingAndGlyphs" stroke="#363636" stroke-width="0.05">cell pole</text>
<line x1="1076.20" y1="741.98" x2="1078.60" y2="741.98" stroke="#333" stroke-width="0.9"/>
<text x="1075.00" y="753.26" font-size="8.0" text-anchor="end" fill="#363636" textLength="102.25" lengthAdjust="spacingAndGlyphs" stroke="#363636" stroke-width="0.05">other organism cell membrane</text>
<line x1="1076.20" y1="750.62" x2="1078.60" y2="750.62" stroke="#333" stroke-width="0.9"/>
<text x="1075.00" y="761.89" font-size="8.0" text-anchor="end" fill="#363636" textLength="214.10" lengthAdjust="spacingAndGlyphs" stroke="#363636" stroke-width="0.05">intracellular cyclic nucleotide activated cation channel complex</text>
<line x1="1076.20" y1="759.25" x2="1078.60" y2="759.25" stroke="#333" stroke-width="0.9"/>
<text x="1075.00" y="770.52" font-size="8.0" text-anchor="end" fill="#363636" textLength="194.77" lengthAdjust="spacingAndGlyphs" stroke="#363636" stroke-width="0.05">extrinsic component of external side of plasma membrane</text>
<line x1="1076.20" y1="767.88" x2="1078.60" y2="767.88" stroke="#333" stroke-width="0.9"/>
<text x="1075.00" y="779.16" font-size="8.0" text-anchor="end" fill="#363636" textLength="257.99" lengthAdjust="spacingAndGlyphs" stroke="#363636" stroke-width="0.05">integral component of cytoplasmic side of endoplasmic reticulum membrane</text>
<line x1="1076.20" y1="776.52" x2="1078.60" y2="776.52" stroke="#333" stroke-width="0.9"/>
<text x="1075.00" y="787.79" font-size="8.0" text-anchor="end" fill="#363636" textLength="244.46" lengthAdjust="spacingAndGlyphs" stroke="#363636" stroke-width="0.05">integral component of lumenal side of endoplasmic reticulum membrane</text>
<line x1="1076.20" y1="785.15" x2="1078.60" y2="785.15" stroke="#333" stroke-width="0.9"/>
<text x="1075.00" y="796.42" font-size="8.0" text-anchor="end" fill="#363636" textLength="168.18" lengthAdjust="spacingAndGlyphs" stroke="#363636" stroke-width="0.05">lumenal side of endoplasmic reticulum membrane</text>
<line x1="1076.20" y1="793.78" x2="1078.60" y2="793.78" stroke="#333" stroke-width="0.9"/>
<text x="1075.00" y="805.06" font-size="8.0" text-anchor="end" fill="#363636" textLength="181.72" lengthAdjust="spacingAndGlyphs" stroke="#363636" stroke-width="0.05">cytoplasmic side of endoplasmic reticulum membrane</text>
<line x1="1076.20" y1="802.42" x2="1078.60" y2="802.42" stroke="#333" stroke-width="0.9"/>
<text x="1075.00" y="813.69" font-size="8.0" text-anchor="end" fill="#363636" textLength="89.34" lengthAdjust="spacingAndGlyphs" stroke="#363636" stroke-width="0.05">lumenal side of membrane</text>
<line x1="1076.20" y1="811.05" x2="1078.60" y2="811.05" stroke="#333" stroke-width="0.9"/>
<text x="1075.00" y="822.32" font-size="8.0" text-anchor="end" fill="#363636" textLength="79.32" lengthAdjust="spacingAndGlyphs" stroke="#363636" stroke-width="0.05">peptide antigen binding</text>
<line x1="1076.20" y1="819.68" x2="1078.60" y2="819.68" stroke="#333" stroke-width="0.9"/>
<text x="1075.00" y="830.96" font-size="8.0" text-anchor="end" fill="#363636" textLength="25.67" lengthAdjust="spacingAndGlyphs" stroke="#363636" stroke-width="0.05">binding</text>
<line x1="1076.20" y1="828.32" x2="1078.60" y2="828.32" stroke="#333" stroke-width="0.9"/>
<text x="1075.00" y="839.59" font-size="8.0" text-anchor="end" fill="#363636" textLength="52.49" lengthAdjust="spacingAndGlyphs" stroke="#363636" stroke-width="0.05">antigen binding</text>
<line x1="1076.20" y1="836.95" x2="1078.60" y2="836.95" stroke="#333" stroke-width="0.9"/>
<text x="1075.00" y="848.22" font-size="8.0" text-anchor="end" fill="#363636" textLength="110.56" lengthAdjust="spacingAndGlyphs" stroke="#363636" stroke-width="0.05">histone acetyltransferase binding</text>
<line x1="1076.20" y1="845.58" x2="1078.60" y2="845.58" stroke="#333" stroke-width="0.9"/>
<text x="1075.00" y="856.86" font-size="8.0" text-anchor="end" fill="#363636" textLength="102.78" lengthAdjust="spacingAndGlyphs" stroke="#363636" stroke-width="0.05">activin receptor activity, type I</text>
<line x1="1076.20" y1="854.22" x2="1078.60" y2="854.22" stroke="#333" stroke-width="0.9"/>
<text x="1075.00" y="865.49" font-size="8.0" text-anchor="end" fill="#363636" textLength="49.39" lengthAdjust="spacingAndGlyphs" stroke="#363636" stroke-width="0.05">cGMP binding</text>
<line x1="1076.20" y1="862.85" x2="1078.60" y2="862.85" stroke="#333" stroke-width="0.9"/>
<text x="1075.00" y="874.12" font-size="8.0" text-anchor="end" fill="#363636" textLength="51.56" lengthAdjust="spacingAndGlyphs" stroke="#363636" stroke-width="0.05">protein binding</text>
<line x1="1076.20" y1="871.48" x2="1078.60" y2="871.48" stroke="#333" stroke-width="0.9"/>
<text x="1075.00" y="882.76" font-size="8.0" text-anchor="end" fill="#363636" textLength="114.82" lengthAdjust="spacingAndGlyphs" stroke="#363636" stroke-width="0.05">activin−activated receptor activity</text>
<line x1="1076.20" y1="880.12" x2="1078.60" y2="880.12" stroke="#333" stroke-width="0.9"/>
<text x="1075.00" y="891.39" font-size="8.0" text-anchor="end" fill="#363636" textLength="102.23" lengthAdjust="spacingAndGlyphs" stroke="#363636" stroke-width="0.05">interleukin−1 receptor activity</text>
<line x1="1076.20" y1="888.75" x2="1078.60" y2="888.75" stroke="#333" stroke-width="0.9"/>
<text x="1075.00" y="900.02" font-size="8.0" text-anchor="end" fill="#363636" textLength="188.62" lengthAdjust="spacingAndGlyphs" stroke="#363636" stroke-width="0.05">aspartic endopeptidase activity, intramembrane cleaving</text>
<line x1="1076.20" y1="897.38" x2="1078.60" y2="897.38" stroke="#333" stroke-width="0.9"/>
<path d="M830.69 647.02 H807.70 V724.72 H969.26" fill="none" stroke="#3A3A3A" stroke-width="1.0"/>
<text x="796.42" y="685.87" font-size="12.5" text-anchor="middle" fill="#1A1A1A" transform="rotate(-90 796.42 685.87)">BP</text>
<path d="M1047.41 733.35 H807.70 V811.05 H981.16" fill="none" stroke="#3A3A3A" stroke-width="1.0"/>
<text x="796.42" y="772.20" font-size="12.5" text-anchor="middle" fill="#1A1A1A" transform="rotate(-90 796.42 772.20)">CC</text>
<path d="M991.18 819.68 H807.70 V897.38 H881.88" fill="none" stroke="#3A3A3A" stroke-width="1.0"/>
<text x="796.42" y="858.53" font-size="12.5" text-anchor="middle" fill="#1A1A1A" transform="rotate(-90 796.42 858.53)">MF</text>
<line x1="1078.60" y1="901.70" x2="1078.60" y2="904.20" stroke="#333" stroke-width="0.9"/>
<text x="1084.20" y="905.30" font-size="8.2" text-anchor="end" fill="#262626" transform="rotate(-90 1084.20 905.30)">0</text>
<line x1="1113.50" y1="901.70" x2="1113.50" y2="904.20" stroke="#333" stroke-width="0.9"/>
<text x="1119.10" y="905.30" font-size="8.2" text-anchor="end" fill="#262626" transform="rotate(-90 1119.10 905.30)">1</text>
<line x1="1148.40" y1="901.70" x2="1148.40" y2="904.20" stroke="#333" stroke-width="0.9"/>
<text x="1154.00" y="905.30" font-size="8.2" text-anchor="end" fill="#262626" transform="rotate(-90 1154.00 905.30)">2</text>
<line x1="1183.30" y1="901.70" x2="1183.30" y2="904.20" stroke="#333" stroke-width="0.9"/>
<text x="1188.90" y="905.30" font-size="8.2" text-anchor="end" fill="#262626" transform="rotate(-90 1188.90 905.30)">3</text>
<line x1="1218.20" y1="901.70" x2="1218.20" y2="904.20" stroke="#333" stroke-width="0.9"/>
<text x="1223.80" y="905.30" font-size="8.2" text-anchor="end" fill="#262626" transform="rotate(-90 1223.80 905.30)">4</text>
<text x="1163.60" y="926.00" font-size="21" text-anchor="middle" fill="#000">−log(Pvalue)</text>
<rect x="361.10" y="943.00" width="265.90" height="8.653" fill="#D90000"/>
<rect x="361.10" y="951.65" width="265.90" height="8.653" fill="#D90000"/>
<rect x="361.10" y="960.31" width="265.90" height="8.653" fill="#D90000"/>
<rect x="361.10" y="968.96" width="265.90" height="8.653" fill="#D90000"/>
<rect x="361.10" y="977.61" width="265.90" height="8.653" fill="#D90000"/>
<rect x="361.10" y="986.27" width="265.90" height="8.653" fill="#D90000"/>
<rect x="361.10" y="994.92" width="265.90" height="8.653" fill="#D90000"/>
<rect x="361.10" y="1003.57" width="265.90" height="8.653" fill="#D90000"/>
<rect x="361.10" y="1012.23" width="265.90" height="8.653" fill="#D90000"/>
<rect x="361.10" y="1020.88" width="265.90" height="8.653" fill="#D90000"/>
<rect x="361.10" y="1029.53" width="265.90" height="8.653" fill="#FFFF33"/>
<rect x="361.10" y="1038.19" width="265.90" height="8.653" fill="#FFFF33"/>
<rect x="361.10" y="1046.84" width="265.90" height="8.653" fill="#FFFF33"/>
<rect x="361.10" y="1055.49" width="265.90" height="8.653" fill="#FFFF33"/>
<rect x="361.10" y="1064.15" width="265.90" height="8.653" fill="#FFFF33"/>
<rect x="361.10" y="1072.80" width="265.90" height="8.653" fill="#FFFF33"/>
<rect x="361.10" y="1081.45" width="265.90" height="8.653" fill="#FFFF33"/>
<rect x="361.10" y="1090.11" width="265.90" height="8.653" fill="#FFFF33"/>
<rect x="361.10" y="1098.76" width="265.90" height="8.653" fill="#FFFF33"/>
<rect x="361.10" y="1107.41" width="265.90" height="8.653" fill="#FFFF33"/>
<rect x="361.10" y="1116.07" width="265.90" height="8.653" fill="#0000F5"/>
<rect x="361.10" y="1124.72" width="265.90" height="8.653" fill="#0000F5"/>
<rect x="361.10" y="1133.37" width="265.90" height="8.653" fill="#0000F5"/>
<rect x="361.10" y="1142.03" width="226.50" height="8.653" fill="#0000F5"/>
<rect x="361.10" y="1150.68" width="207.50" height="8.653" fill="#0000F5"/>
<rect x="361.10" y="1159.33" width="199.50" height="8.653" fill="#0000F5"/>
<rect x="361.10" y="1167.99" width="181.50" height="8.653" fill="#0000F5"/>
<rect x="361.10" y="1176.64" width="180.50" height="8.653" fill="#0000F5"/>
<rect x="361.10" y="1185.29" width="177.50" height="8.653" fill="#0000F5"/>
<rect x="361.10" y="1193.95" width="174.50" height="8.653" fill="#0000F5"/>
<rect x="361.10" y="951.25" width="265.90" height="0.8" fill="#fff" fill-opacity="0.85"/>
<rect x="361.10" y="959.91" width="265.90" height="0.8" fill="#fff" fill-opacity="0.85"/>
<rect x="361.10" y="968.56" width="265.90" height="0.8" fill="#fff" fill-opacity="0.85"/>
<rect x="361.10" y="977.21" width="265.90" height="0.8" fill="#fff" fill-opacity="0.85"/>
<rect x="361.10" y="985.87" width="265.90" height="0.8" fill="#fff" fill-opacity="0.85"/>
<rect x="361.10" y="994.52" width="265.90" height="0.8" fill="#fff" fill-opacity="0.85"/>
<rect x="361.10" y="1003.17" width="265.90" height="0.8" fill="#fff" fill-opacity="0.85"/>
<rect x="361.10" y="1011.83" width="265.90" height="0.8" fill="#fff" fill-opacity="0.85"/>
<rect x="361.10" y="1020.48" width="265.90" height="0.8" fill="#fff" fill-opacity="0.85"/>
<rect x="361.10" y="1029.13" width="265.90" height="0.8" fill="#fff" fill-opacity="0.85"/>
<rect x="361.10" y="1037.79" width="265.90" height="0.8" fill="#fff" fill-opacity="0.85"/>
<rect x="361.10" y="1046.44" width="265.90" height="0.8" fill="#fff" fill-opacity="0.85"/>
<rect x="361.10" y="1055.09" width="265.90" height="0.8" fill="#fff" fill-opacity="0.85"/>
<rect x="361.10" y="1063.75" width="265.90" height="0.8" fill="#fff" fill-opacity="0.85"/>
<rect x="361.10" y="1072.40" width="265.90" height="0.8" fill="#fff" fill-opacity="0.85"/>
<rect x="361.10" y="1081.05" width="265.90" height="0.8" fill="#fff" fill-opacity="0.85"/>
<rect x="361.10" y="1089.71" width="265.90" height="0.8" fill="#fff" fill-opacity="0.85"/>
<rect x="361.10" y="1098.36" width="265.90" height="0.8" fill="#fff" fill-opacity="0.85"/>
<rect x="361.10" y="1107.01" width="265.90" height="0.8" fill="#fff" fill-opacity="0.85"/>
<rect x="361.10" y="1115.67" width="265.90" height="0.8" fill="#fff" fill-opacity="0.85"/>
<rect x="361.10" y="1124.32" width="265.90" height="0.8" fill="#fff" fill-opacity="0.85"/>
<rect x="361.10" y="1132.97" width="265.90" height="0.8" fill="#fff" fill-opacity="0.85"/>
<rect x="361.10" y="1141.63" width="265.90" height="0.8" fill="#fff" fill-opacity="0.85"/>
<rect x="361.10" y="1150.28" width="226.50" height="0.8" fill="#fff" fill-opacity="0.85"/>
<rect x="361.10" y="1158.93" width="207.50" height="0.8" fill="#fff" fill-opacity="0.85"/>
<rect x="361.10" y="1167.59" width="199.50" height="0.8" fill="#fff" fill-opacity="0.85"/>
<rect x="361.10" y="1176.24" width="181.50" height="0.8" fill="#fff" fill-opacity="0.85"/>
<rect x="361.10" y="1184.89" width="180.50" height="0.8" fill="#fff" fill-opacity="0.85"/>
<rect x="361.10" y="1193.55" width="177.50" height="0.8" fill="#fff" fill-opacity="0.85"/>
<rect x="361.10" y="941.80" width="273.20" height="260.80" fill="none" stroke="#7A7A78" stroke-width="1.3"/>
<text x="357.50" y="949.97" font-size="8.0" text-anchor="end" fill="#363636" textLength="39.56" lengthAdjust="spacingAndGlyphs" stroke="#363636" stroke-width="0.05">localization</text>
<line x1="358.70" y1="947.33" x2="361.10" y2="947.33" stroke="#333" stroke-width="0.9"/>
<text x="357.50" y="958.62" font-size="8.0" text-anchor="end" fill="#363636" textLength="136.12" lengthAdjust="spacingAndGlyphs" stroke="#363636" stroke-width="0.05">positive regulation of biological process</text>
<line x1="358.70" y1="955.98" x2="361.10" y2="955.98" stroke="#333" stroke-width="0.9"/>
<text x="357.50" y="967.27" font-size="8.0" text-anchor="end" fill="#363636" textLength="127.63" lengthAdjust="spacingAndGlyphs" stroke="#363636" stroke-width="0.05">positive regulation of cellular process</text>
<line x1="358.70" y1="964.63" x2="361.10" y2="964.63" stroke="#333" stroke-width="0.9"/>
<text x="357.50" y="975.93" font-size="8.0" text-anchor="end" fill="#363636" textLength="122.77" lengthAdjust="spacingAndGlyphs" stroke="#363636" stroke-width="0.05">multicellular organism development</text>
<line x1="358.70" y1="973.29" x2="361.10" y2="973.29" stroke="#333" stroke-width="0.9"/>
<text x="357.50" y="984.58" font-size="8.0" text-anchor="end" fill="#363636" textLength="114.91" lengthAdjust="spacingAndGlyphs" stroke="#363636" stroke-width="0.05">anatomical structure development</text>
<line x1="358.70" y1="981.94" x2="361.10" y2="981.94" stroke="#333" stroke-width="0.9"/>
<text x="357.50" y="993.23" font-size="8.0" text-anchor="end" fill="#363636" textLength="77.47" lengthAdjust="spacingAndGlyphs" stroke="#363636" stroke-width="0.05">developmental process</text>
<line x1="358.70" y1="990.59" x2="361.10" y2="990.59" stroke="#333" stroke-width="0.9"/>
<text x="357.50" y="1001.89" font-size="8.0" text-anchor="end" fill="#363636" textLength="69.48" lengthAdjust="spacingAndGlyphs" stroke="#363636" stroke-width="0.05">system development</text>
<line x1="358.70" y1="999.25" x2="361.10" y2="999.25" stroke="#333" stroke-width="0.9"/>
<text x="357.50" y="1010.54" font-size="8.0" text-anchor="end" fill="#363636" textLength="85.24" lengthAdjust="spacingAndGlyphs" stroke="#363636" stroke-width="0.05">regulation of localization</text>
<line x1="358.70" y1="1007.90" x2="361.10" y2="1007.90" stroke="#333" stroke-width="0.9"/>
<text x="357.50" y="1019.19" font-size="8.0" text-anchor="end" fill="#363636" textLength="156.68" lengthAdjust="spacingAndGlyphs" stroke="#363636" stroke-width="0.05">cellular component organization or biogenesis</text>
<line x1="358.70" y1="1016.55" x2="361.10" y2="1016.55" stroke="#333" stroke-width="0.9"/>
<text x="357.50" y="1027.85" font-size="8.0" text-anchor="end" fill="#363636" textLength="109.57" lengthAdjust="spacingAndGlyphs" stroke="#363636" stroke-width="0.05">cellular component organization</text>
<line x1="358.70" y1="1025.21" x2="361.10" y2="1025.21" stroke="#333" stroke-width="0.9"/>
<text x="357.50" y="1036.50" font-size="8.0" text-anchor="end" fill="#363636" textLength="112.07" lengthAdjust="spacingAndGlyphs" stroke="#363636" stroke-width="0.05">intracellular anatomical structure</text>
<line x1="358.70" y1="1033.86" x2="361.10" y2="1033.86" stroke="#333" stroke-width="0.9"/>
<text x="357.50" y="1045.15" font-size="8.0" text-anchor="end" fill="#363636" textLength="31.39" lengthAdjust="spacingAndGlyphs" stroke="#363636" stroke-width="0.05">organelle</text>
<line x1="358.70" y1="1042.51" x2="361.10" y2="1042.51" stroke="#333" stroke-width="0.9"/>
<text x="357.50" y="1053.81" font-size="8.0" text-anchor="end" fill="#363636" textLength="103.29" lengthAdjust="spacingAndGlyphs" stroke="#363636" stroke-width="0.05">membrane−bounded organelle</text>
<line x1="358.70" y1="1051.17" x2="361.10" y2="1051.17" stroke="#333" stroke-width="0.9"/>
<text x="357.50" y="1062.46" font-size="8.0" text-anchor="end" fill="#363636" textLength="34.86" lengthAdjust="spacingAndGlyphs" stroke="#363636" stroke-width="0.05">cytoplasm</text>
<line x1="358.70" y1="1059.82" x2="361.10" y2="1059.82" stroke="#333" stroke-width="0.9"/>
<text x="357.50" y="1071.11" font-size="8.0" text-anchor="end" fill="#363636" textLength="23.55" lengthAdjust="spacingAndGlyphs" stroke="#363636" stroke-width="0.05">vesicle</text>
<line x1="358.70" y1="1068.47" x2="361.10" y2="1068.47" stroke="#333" stroke-width="0.9"/>
<text x="357.50" y="1079.77" font-size="8.0" text-anchor="end" fill="#363636" textLength="42.15" lengthAdjust="spacingAndGlyphs" stroke="#363636" stroke-width="0.05">cell junction</text>
<line x1="358.70" y1="1077.13" x2="361.10" y2="1077.13" stroke="#333" stroke-width="0.9"/>
<text x="357.50" y="1088.42" font-size="8.0" text-anchor="end" fill="#363636" textLength="74.48" lengthAdjust="spacingAndGlyphs" stroke="#363636" stroke-width="0.05">intracellular organelle</text>
<line x1="358.70" y1="1085.78" x2="361.10" y2="1085.78" stroke="#333" stroke-width="0.9"/>
<text x="357.50" y="1097.07" font-size="8.0" text-anchor="end" fill="#363636" textLength="48.74" lengthAdjust="spacingAndGlyphs" stroke="#363636" stroke-width="0.05">cell projection</text>
<line x1="358.70" y1="1094.43" x2="361.10" y2="1094.43" stroke="#333" stroke-width="0.9"/>
<text x="357.50" y="1105.73" font-size="8.0" text-anchor="end" fill="#363636" textLength="60.05" lengthAdjust="spacingAndGlyphs" stroke="#363636" stroke-width="0.05">neuron projection</text>
<line x1="358.70" y1="1103.09" x2="361.10" y2="1103.09" stroke="#333" stroke-width="0.9"/>
<text x="357.50" y="1114.38" font-size="8.0" text-anchor="end" fill="#363636" textLength="146.37" lengthAdjust="spacingAndGlyphs" stroke="#363636" stroke-width="0.05">intracellular membrane−bounded organelle</text>
<line x1="358.70" y1="1111.74" x2="361.10" y2="1111.74" stroke="#333" stroke-width="0.9"/>
<text x="357.50" y="1123.03" font-size="8.0" text-anchor="end" fill="#363636" textLength="52.05" lengthAdjust="spacingAndGlyphs" stroke="#363636" stroke-width="0.05">protein binding</text>
<line x1="358.70" y1="1120.39" x2="361.10" y2="1120.39" stroke="#333" stroke-width="0.9"/>
<text x="357.50" y="1131.69" font-size="8.0" text-anchor="end" fill="#363636" textLength="25.91" lengthAdjust="spacingAndGlyphs" stroke="#363636" stroke-width="0.05">binding</text>
<line x1="358.70" y1="1129.05" x2="361.10" y2="1129.05" stroke="#333" stroke-width="0.9"/>
<text x="357.50" y="1140.34" font-size="8.0" text-anchor="end" fill="#363636" textLength="54.40" lengthAdjust="spacingAndGlyphs" stroke="#363636" stroke-width="0.05">enzyme binding</text>
<line x1="358.70" y1="1137.70" x2="361.10" y2="1137.70" stroke="#333" stroke-width="0.9"/>
<text x="357.50" y="1148.99" font-size="8.0" text-anchor="end" fill="#363636" textLength="83.37" lengthAdjust="spacingAndGlyphs" stroke="#363636" stroke-width="0.05">identical protein binding</text>
<line x1="358.70" y1="1146.35" x2="361.10" y2="1146.35" stroke="#333" stroke-width="0.9"/>
<text x="357.50" y="1157.65" font-size="8.0" text-anchor="end" fill="#363636" textLength="108.10" lengthAdjust="spacingAndGlyphs" stroke="#363636" stroke-width="0.05">protein domain specific binding</text>
<line x1="358.70" y1="1155.01" x2="361.10" y2="1155.01" stroke="#333" stroke-width="0.9"/>
<text x="357.50" y="1166.30" font-size="8.0" text-anchor="end" fill="#363636" textLength="38.87" lengthAdjust="spacingAndGlyphs" stroke="#363636" stroke-width="0.05">ion binding</text>
<line x1="358.70" y1="1163.66" x2="361.10" y2="1163.66" stroke="#333" stroke-width="0.9"/>
<text x="357.50" y="1174.95" font-size="8.0" text-anchor="end" fill="#363636" textLength="89.02" lengthAdjust="spacingAndGlyphs" stroke="#363636" stroke-width="0.05">signaling receptor binding</text>
<line x1="358.70" y1="1172.31" x2="361.10" y2="1172.31" stroke="#333" stroke-width="0.9"/>
<text x="357.50" y="1183.61" font-size="8.0" text-anchor="end" fill="#363636" textLength="49.70" lengthAdjust="spacingAndGlyphs" stroke="#363636" stroke-width="0.05">kinase binding</text>
<line x1="358.70" y1="1180.97" x2="361.10" y2="1180.97" stroke="#333" stroke-width="0.9"/>
<text x="357.50" y="1192.26" font-size="8.0" text-anchor="end" fill="#363636" textLength="94.67" lengthAdjust="spacingAndGlyphs" stroke="#363636" stroke-width="0.05">cytoskeletal protein binding</text>
<line x1="358.70" y1="1189.62" x2="361.10" y2="1189.62" stroke="#333" stroke-width="0.9"/>
<text x="357.50" y="1200.91" font-size="8.0" text-anchor="end" fill="#363636" textLength="75.36" lengthAdjust="spacingAndGlyphs" stroke="#363636" stroke-width="0.05">protein kinase activity</text>
<line x1="358.70" y1="1198.27" x2="361.10" y2="1198.27" stroke="#333" stroke-width="0.9"/>
<path d="M313.44 947.33 H191.80 V1025.21 H243.43" fill="none" stroke="#3A3A3A" stroke-width="1.0"/>
<text x="180.43" y="986.27" font-size="12.5" text-anchor="middle" fill="#1A1A1A" transform="rotate(-90 180.43 986.27)">BP</text>
<path d="M240.93 1033.86 H191.80 V1111.74 H206.63" fill="none" stroke="#3A3A3A" stroke-width="1.0"/>
<text x="180.43" y="1072.80" font-size="12.5" text-anchor="middle" fill="#1A1A1A" transform="rotate(-90 180.43 1072.80)">CC</text>
<path d="M300.95 1120.39 H191.80 V1198.27 H277.64" fill="none" stroke="#3A3A3A" stroke-width="1.0"/>
<text x="180.43" y="1159.33" font-size="12.5" text-anchor="middle" fill="#1A1A1A" transform="rotate(-90 180.43 1159.33)">MF</text>
<line x1="360.80" y1="1202.60" x2="360.80" y2="1205.10" stroke="#333" stroke-width="0.9"/>
<text x="366.40" y="1206.20" font-size="8.2" text-anchor="end" fill="#262626" transform="rotate(-90 366.40 1206.20)">0</text>
<line x1="449.60" y1="1202.60" x2="449.60" y2="1205.10" stroke="#333" stroke-width="0.9"/>
<text x="455.20" y="1206.20" font-size="8.2" text-anchor="end" fill="#262626" transform="rotate(-90 455.20 1206.20)">10</text>
<line x1="538.40" y1="1202.60" x2="538.40" y2="1205.10" stroke="#333" stroke-width="0.9"/>
<text x="544.00" y="1206.20" font-size="8.2" text-anchor="end" fill="#262626" transform="rotate(-90 544.00 1206.20)">20</text>
<line x1="627.10" y1="1202.60" x2="627.10" y2="1205.10" stroke="#333" stroke-width="0.9"/>
<text x="632.70" y="1206.20" font-size="8.2" text-anchor="end" fill="#262626" transform="rotate(-90 632.70 1206.20)">30</text>
<text x="498.00" y="1230.00" font-size="21" text-anchor="middle" fill="#000">−log(Pvalue)</text>
<rect x="1033.40" y="941.90" width="210.60" height="8.713" fill="#D90000"/>
<rect x="1033.40" y="950.61" width="210.60" height="8.713" fill="#D90000"/>
<rect x="1033.40" y="959.33" width="207.20" height="8.713" fill="#D90000"/>
<rect x="1033.40" y="968.04" width="201.80" height="8.713" fill="#D90000"/>
<rect x="1033.40" y="976.75" width="195.20" height="8.713" fill="#D90000"/>
<rect x="1033.40" y="985.47" width="186.20" height="8.713" fill="#D90000"/>
<rect x="1033.40" y="994.18" width="177.80" height="8.713" fill="#D90000"/>
<rect x="1033.40" y="1002.89" width="165.90" height="8.713" fill="#D90000"/>
<rect x="1033.40" y="1011.61" width="163.20" height="8.713" fill="#D90000"/>
<rect x="1033.40" y="1020.32" width="158.90" height="8.713" fill="#D90000"/>
<rect x="1033.40" y="1029.03" width="210.60" height="8.713" fill="#FFFF33"/>
<rect x="1033.40" y="1037.75" width="190.80" height="8.713" fill="#FFFF33"/>
<rect x="1033.40" y="1046.46" width="185.80" height="8.713" fill="#FFFF33"/>
<rect x="1033.40" y="1055.17" width="183.80" height="8.713" fill="#FFFF33"/>
<rect x="1033.40" y="1063.89" width="181.20" height="8.713" fill="#FFFF33"/>
<rect x="1033.40" y="1072.60" width="172.20" height="8.713" fill="#FFFF33"/>
<rect x="1033.40" y="1081.31" width="171.90" height="8.713" fill="#FFFF33"/>
<rect x="1033.40" y="1090.03" width="158.20" height="8.713" fill="#FFFF33"/>
<rect x="1033.40" y="1098.74" width="141.20" height="8.713" fill="#FFFF33"/>
<rect x="1033.40" y="1107.45" width="132.20" height="8.713" fill="#FFFF33"/>
<rect x="1033.40" y="1116.17" width="210.60" height="8.713" fill="#0000F5"/>
<rect x="1033.40" y="1124.88" width="85.00" height="8.713" fill="#0000F5"/>
<rect x="1033.40" y="1133.59" width="75.20" height="8.713" fill="#0000F5"/>
<rect x="1033.40" y="1142.31" width="72.00" height="8.713" fill="#0000F5"/>
<rect x="1033.40" y="1151.02" width="70.20" height="8.713" fill="#0000F5"/>
<rect x="1033.40" y="1159.73" width="70.00" height="8.713" fill="#0000F5"/>
<rect x="1033.40" y="1168.45" width="69.20" height="8.713" fill="#0000F5"/>
<rect x="1033.40" y="1177.16" width="68.20" height="8.713" fill="#0000F5"/>
<rect x="1033.40" y="1185.87" width="65.20" height="8.713" fill="#0000F5"/>
<rect x="1033.40" y="1194.59" width="64.00" height="8.713" fill="#0000F5"/>
<rect x="1033.40" y="950.21" width="210.60" height="0.8" fill="#fff" fill-opacity="0.85"/>
<rect x="1033.40" y="958.93" width="210.60" height="0.8" fill="#fff" fill-opacity="0.85"/>
<rect x="1033.40" y="967.64" width="207.20" height="0.8" fill="#fff" fill-opacity="0.85"/>
<rect x="1033.40" y="976.35" width="201.80" height="0.8" fill="#fff" fill-opacity="0.85"/>
<rect x="1033.40" y="985.07" width="195.20" height="0.8" fill="#fff" fill-opacity="0.85"/>
<rect x="1033.40" y="993.78" width="186.20" height="0.8" fill="#fff" fill-opacity="0.85"/>
<rect x="1033.40" y="1002.49" width="177.80" height="0.8" fill="#fff" fill-opacity="0.85"/>
<rect x="1033.40" y="1011.21" width="165.90" height="0.8" fill="#fff" fill-opacity="0.85"/>
<rect x="1033.40" y="1019.92" width="163.20" height="0.8" fill="#fff" fill-opacity="0.85"/>
<rect x="1033.40" y="1028.63" width="210.60" height="0.8" fill="#fff" fill-opacity="0.85"/>
<rect x="1033.40" y="1037.35" width="210.60" height="0.8" fill="#fff" fill-opacity="0.85"/>
<rect x="1033.40" y="1046.06" width="190.80" height="0.8" fill="#fff" fill-opacity="0.85"/>
<rect x="1033.40" y="1054.77" width="185.80" height="0.8" fill="#fff" fill-opacity="0.85"/>
<rect x="1033.40" y="1063.49" width="183.80" height="0.8" fill="#fff" fill-opacity="0.85"/>
<rect x="1033.40" y="1072.20" width="181.20" height="0.8" fill="#fff" fill-opacity="0.85"/>
<rect x="1033.40" y="1080.91" width="172.20" height="0.8" fill="#fff" fill-opacity="0.85"/>
<rect x="1033.40" y="1089.63" width="171.90" height="0.8" fill="#fff" fill-opacity="0.85"/>
<rect x="1033.40" y="1098.34" width="158.20" height="0.8" fill="#fff" fill-opacity="0.85"/>
<rect x="1033.40" y="1107.05" width="141.20" height="0.8" fill="#fff" fill-opacity="0.85"/>
<rect x="1033.40" y="1115.77" width="210.60" height="0.8" fill="#fff" fill-opacity="0.85"/>
<rect x="1033.40" y="1124.48" width="210.60" height="0.8" fill="#fff" fill-opacity="0.85"/>
<rect x="1033.40" y="1133.19" width="85.00" height="0.8" fill="#fff" fill-opacity="0.85"/>
<rect x="1033.40" y="1141.91" width="75.20" height="0.8" fill="#fff" fill-opacity="0.85"/>
<rect x="1033.40" y="1150.62" width="72.00" height="0.8" fill="#fff" fill-opacity="0.85"/>
<rect x="1033.40" y="1159.33" width="70.20" height="0.8" fill="#fff" fill-opacity="0.85"/>
<rect x="1033.40" y="1168.05" width="70.00" height="0.8" fill="#fff" fill-opacity="0.85"/>
<rect x="1033.40" y="1176.76" width="69.20" height="0.8" fill="#fff" fill-opacity="0.85"/>
<rect x="1033.40" y="1185.47" width="68.20" height="0.8" fill="#fff" fill-opacity="0.85"/>
<rect x="1033.40" y="1194.19" width="65.20" height="0.8" fill="#fff" fill-opacity="0.85"/>
<rect x="1033.40" y="940.70" width="216.90" height="262.60" fill="none" stroke="#7A7A78" stroke-width="1.3"/>
<text x="1029.80" y="948.90" font-size="8.0" text-anchor="end" fill="#363636" textLength="83.23" lengthAdjust="spacingAndGlyphs" stroke="#363636" stroke-width="0.05">regulation of localization</text>
<line x1="1031.00" y1="946.26" x2="1033.40" y2="946.26" stroke="#333" stroke-width="0.9"/>
<text x="1029.80" y="957.61" font-size="8.0" text-anchor="end" fill="#363636" textLength="152.53" lengthAdjust="spacingAndGlyphs" stroke="#363636" stroke-width="0.05">regulation of multicellular organismal process</text>
<line x1="1031.00" y1="954.97" x2="1033.40" y2="954.97" stroke="#333" stroke-width="0.9"/>
<text x="1029.80" y="966.32" font-size="8.0" text-anchor="end" fill="#363636" textLength="38.62" lengthAdjust="spacingAndGlyphs" stroke="#363636" stroke-width="0.05">localization</text>
<line x1="1031.00" y1="963.68" x2="1033.40" y2="963.68" stroke="#333" stroke-width="0.9"/>
<text x="1029.80" y="975.04" font-size="8.0" text-anchor="end" fill="#363636" textLength="102.78" lengthAdjust="spacingAndGlyphs" stroke="#363636" stroke-width="0.05">regulation of biological quality</text>
<line x1="1031.00" y1="972.40" x2="1033.40" y2="972.40" stroke="#333" stroke-width="0.9"/>
<text x="1029.80" y="983.75" font-size="8.0" text-anchor="end" fill="#363636" textLength="67.84" lengthAdjust="spacingAndGlyphs" stroke="#363636" stroke-width="0.05">system development</text>
<line x1="1031.00" y1="981.11" x2="1033.40" y2="981.11" stroke="#333" stroke-width="0.9"/>
<text x="1029.80" y="992.46" font-size="8.0" text-anchor="end" fill="#363636" textLength="132.91" lengthAdjust="spacingAndGlyphs" stroke="#363636" stroke-width="0.05">positive regulation of biological process</text>
<line x1="1031.00" y1="989.82" x2="1033.40" y2="989.82" stroke="#333" stroke-width="0.9"/>
<text x="1029.80" y="1001.18" font-size="8.0" text-anchor="end" fill="#363636" textLength="119.88" lengthAdjust="spacingAndGlyphs" stroke="#363636" stroke-width="0.05">multicellular organism development</text>
<line x1="1031.00" y1="998.54" x2="1033.40" y2="998.54" stroke="#333" stroke-width="0.9"/>
<text x="1029.80" y="1009.89" font-size="8.0" text-anchor="end" fill="#363636" textLength="112.20" lengthAdjust="spacingAndGlyphs" stroke="#363636" stroke-width="0.05">anatomical structure development</text>
<line x1="1031.00" y1="1007.25" x2="1033.40" y2="1007.25" stroke="#333" stroke-width="0.9"/>
<text x="1029.80" y="1018.60" font-size="8.0" text-anchor="end" fill="#363636" textLength="74.04" lengthAdjust="spacingAndGlyphs" stroke="#363636" stroke-width="0.05">regulation of transport</text>
<line x1="1031.00" y1="1015.96" x2="1033.40" y2="1015.96" stroke="#333" stroke-width="0.9"/>
<text x="1029.80" y="1027.32" font-size="8.0" text-anchor="end" fill="#363636" textLength="124.62" lengthAdjust="spacingAndGlyphs" stroke="#363636" stroke-width="0.05">positive regulation of cellular process</text>
<line x1="1031.00" y1="1024.68" x2="1033.40" y2="1024.68" stroke="#333" stroke-width="0.9"/>
<text x="1029.80" y="1036.03" font-size="8.0" text-anchor="end" fill="#363636" textLength="41.16" lengthAdjust="spacingAndGlyphs" stroke="#363636" stroke-width="0.05">cell junction</text>
<line x1="1031.00" y1="1033.39" x2="1033.40" y2="1033.39" stroke="#333" stroke-width="0.9"/>
<text x="1029.80" y="1044.74" font-size="8.0" text-anchor="end" fill="#363636" textLength="47.59" lengthAdjust="spacingAndGlyphs" stroke="#363636" stroke-width="0.05">cell projection</text>
<line x1="1031.00" y1="1042.10" x2="1033.40" y2="1042.10" stroke="#333" stroke-width="0.9"/>
<text x="1029.80" y="1053.46" font-size="8.0" text-anchor="end" fill="#363636" textLength="43.91" lengthAdjust="spacingAndGlyphs" stroke="#363636" stroke-width="0.05">dendritic tree</text>
<line x1="1031.00" y1="1050.82" x2="1033.40" y2="1050.82" stroke="#333" stroke-width="0.9"/>
<text x="1029.80" y="1062.17" font-size="8.0" text-anchor="end" fill="#363636" textLength="27.13" lengthAdjust="spacingAndGlyphs" stroke="#363636" stroke-width="0.05">dendrite</text>
<line x1="1031.00" y1="1059.53" x2="1033.40" y2="1059.53" stroke="#333" stroke-width="0.9"/>
<text x="1029.80" y="1070.88" font-size="8.0" text-anchor="end" fill="#363636" textLength="58.63" lengthAdjust="spacingAndGlyphs" stroke="#363636" stroke-width="0.05">neuron projection</text>
<line x1="1031.00" y1="1068.24" x2="1033.40" y2="1068.24" stroke="#333" stroke-width="0.9"/>
<text x="1029.80" y="1079.60" font-size="8.0" text-anchor="end" fill="#363636" textLength="140.71" lengthAdjust="spacingAndGlyphs" stroke="#363636" stroke-width="0.05">plasma membrane bounded cell projection</text>
<line x1="1031.00" y1="1076.96" x2="1033.40" y2="1076.96" stroke="#333" stroke-width="0.9"/>
<text x="1029.80" y="1088.31" font-size="8.0" text-anchor="end" fill="#363636" textLength="22.99" lengthAdjust="spacingAndGlyphs" stroke="#363636" stroke-width="0.05">vesicle</text>
<line x1="1031.00" y1="1085.67" x2="1033.40" y2="1085.67" stroke="#333" stroke-width="0.9"/>
<text x="1029.80" y="1097.02" font-size="8.0" text-anchor="end" fill="#363636" textLength="99.10" lengthAdjust="spacingAndGlyphs" stroke="#363636" stroke-width="0.05">somatodendritic compartment</text>
<line x1="1031.00" y1="1094.38" x2="1033.40" y2="1094.38" stroke="#333" stroke-width="0.9"/>
<text x="1029.80" y="1105.74" font-size="8.0" text-anchor="end" fill="#363636" textLength="26.22" lengthAdjust="spacingAndGlyphs" stroke="#363636" stroke-width="0.05">synapse</text>
<line x1="1031.00" y1="1103.10" x2="1033.40" y2="1103.10" stroke="#333" stroke-width="0.9"/>
<text x="1029.80" y="1114.45" font-size="8.0" text-anchor="end" fill="#363636" textLength="48.05" lengthAdjust="spacingAndGlyphs" stroke="#363636" stroke-width="0.05">focal adhesion</text>
<line x1="1031.00" y1="1111.81" x2="1033.40" y2="1111.81" stroke="#333" stroke-width="0.9"/>
<text x="1029.80" y="1123.16" font-size="8.0" text-anchor="end" fill="#363636" textLength="50.82" lengthAdjust="spacingAndGlyphs" stroke="#363636" stroke-width="0.05">protein binding</text>
<line x1="1031.00" y1="1120.52" x2="1033.40" y2="1120.52" stroke="#333" stroke-width="0.9"/>
<text x="1029.80" y="1131.88" font-size="8.0" text-anchor="end" fill="#363636" textLength="25.30" lengthAdjust="spacingAndGlyphs" stroke="#363636" stroke-width="0.05">binding</text>
<line x1="1031.00" y1="1129.24" x2="1033.40" y2="1129.24" stroke="#333" stroke-width="0.9"/>
<text x="1029.80" y="1140.59" font-size="8.0" text-anchor="end" fill="#363636" textLength="92.44" lengthAdjust="spacingAndGlyphs" stroke="#363636" stroke-width="0.05">cytoskeletal protein binding</text>
<line x1="1031.00" y1="1137.95" x2="1033.40" y2="1137.95" stroke="#333" stroke-width="0.9"/>
<text x="1029.80" y="1149.30" font-size="8.0" text-anchor="end" fill="#363636" textLength="53.12" lengthAdjust="spacingAndGlyphs" stroke="#363636" stroke-width="0.05">enzyme binding</text>
<line x1="1031.00" y1="1146.66" x2="1033.40" y2="1146.66" stroke="#333" stroke-width="0.9"/>
<text x="1029.80" y="1158.02" font-size="8.0" text-anchor="end" fill="#363636" textLength="81.40" lengthAdjust="spacingAndGlyphs" stroke="#363636" stroke-width="0.05">identical protein binding</text>
<line x1="1031.00" y1="1155.38" x2="1033.40" y2="1155.38" stroke="#333" stroke-width="0.9"/>
<text x="1029.80" y="1166.73" font-size="8.0" text-anchor="end" fill="#363636" textLength="72.65" lengthAdjust="spacingAndGlyphs" stroke="#363636" stroke-width="0.05">gated channel activity</text>
<line x1="1031.00" y1="1164.09" x2="1033.40" y2="1164.09" stroke="#333" stroke-width="0.9"/>
<text x="1029.80" y="1175.44" font-size="8.0" text-anchor="end" fill="#363636" textLength="148.99" lengthAdjust="spacingAndGlyphs" stroke="#363636" stroke-width="0.05">metal ion transmembrane transporter activity</text>
<line x1="1031.00" y1="1172.80" x2="1033.40" y2="1172.80" stroke="#333" stroke-width="0.9"/>
<text x="1029.80" y="1184.16" font-size="8.0" text-anchor="end" fill="#363636" textLength="85.30" lengthAdjust="spacingAndGlyphs" stroke="#363636" stroke-width="0.05">ion gated channel activity</text>
<line x1="1031.00" y1="1181.52" x2="1033.40" y2="1181.52" stroke="#333" stroke-width="0.9"/>
<text x="1029.80" y="1192.87" font-size="8.0" text-anchor="end" fill="#363636" textLength="205.17" lengthAdjust="spacingAndGlyphs" stroke="#363636" stroke-width="0.05">inorganic molecular entity transmembrane transporter activity</text>
<line x1="1031.00" y1="1190.23" x2="1033.40" y2="1190.23" stroke="#333" stroke-width="0.9"/>
<text x="1029.80" y="1201.58" font-size="8.0" text-anchor="end" fill="#363636" textLength="45.77" lengthAdjust="spacingAndGlyphs" stroke="#363636" stroke-width="0.05">anion binding</text>
<line x1="1031.00" y1="1198.94" x2="1033.40" y2="1198.94" stroke="#333" stroke-width="0.9"/>
<path d="M942.07 946.26 H814.20 V1024.68 H900.68" fill="none" stroke="#3A3A3A" stroke-width="1.0"/>
<text x="802.92" y="985.47" font-size="12.5" text-anchor="middle" fill="#1A1A1A" transform="rotate(-90 802.92 985.47)">BP</text>
<path d="M984.14 1033.39 H814.20 V1111.81 H977.25" fill="none" stroke="#3A3A3A" stroke-width="1.0"/>
<text x="802.92" y="1072.60" font-size="12.5" text-anchor="middle" fill="#1A1A1A" transform="rotate(-90 802.92 1072.60)">CC</text>
<path d="M974.48 1120.52 H814.20 V1198.94 H979.53" fill="none" stroke="#3A3A3A" stroke-width="1.0"/>
<text x="802.92" y="1159.73" font-size="12.5" text-anchor="middle" fill="#1A1A1A" transform="rotate(-90 802.92 1159.73)">MF</text>
<line x1="1033.40" y1="1203.30" x2="1033.40" y2="1205.80" stroke="#333" stroke-width="0.9"/>
<text x="1039.00" y="1206.90" font-size="8.2" text-anchor="end" fill="#262626" transform="rotate(-90 1039.00 1206.90)">0</text>
<line x1="1103.70" y1="1203.30" x2="1103.70" y2="1205.80" stroke="#333" stroke-width="0.9"/>
<text x="1109.30" y="1206.90" font-size="8.2" text-anchor="end" fill="#262626" transform="rotate(-90 1109.30 1206.90)">10</text>
<line x1="1173.90" y1="1203.30" x2="1173.90" y2="1205.80" stroke="#333" stroke-width="0.9"/>
<text x="1179.50" y="1206.90" font-size="8.2" text-anchor="end" fill="#262626" transform="rotate(-90 1179.50 1206.90)">20</text>
<line x1="1244.30" y1="1203.30" x2="1244.30" y2="1205.80" stroke="#333" stroke-width="0.9"/>
<text x="1249.90" y="1206.90" font-size="8.2" text-anchor="end" fill="#262626" transform="rotate(-90 1249.90 1206.90)">30</text>
<text x="1141.40" y="1231.00" font-size="21" text-anchor="middle" fill="#000">−log(Pvalue)</text>
<rect x="212.80" y="1324.20" width="114.90" height="22.274" fill="#D90000"/>
<text x="205.40" y="1340.84" font-size="8.3" text-anchor="end" fill="#111111" textLength="122.19" lengthAdjust="spacingAndGlyphs" stroke="#111" stroke-width="0.1">Cytokine−cytokine receptor interaction</text>
<line x1="205.50" y1="1335.34" x2="207.50" y2="1335.34" stroke="#555" stroke-width="0.6"/>
<rect x="212.80" y="1348.95" width="90.70" height="22.274" fill="#D90000"/>
<text x="205.40" y="1365.59" font-size="8.3" text-anchor="end" fill="#111111" textLength="59.98" lengthAdjust="spacingAndGlyphs" stroke="#111" stroke-width="0.1">Pathways in cancer</text>
<line x1="205.50" y1="1360.09" x2="207.50" y2="1360.09" stroke="#555" stroke-width="0.6"/>
<rect x="212.80" y="1373.70" width="89.70" height="22.274" fill="#D90000"/>
<text x="205.40" y="1390.33" font-size="8.3" text-anchor="end" fill="#111111" textLength="81.15" lengthAdjust="spacingAndGlyphs" stroke="#111" stroke-width="0.1">MAPK signaling pathway</text>
<line x1="205.50" y1="1384.83" x2="207.50" y2="1384.83" stroke="#555" stroke-width="0.6"/>
<rect x="212.80" y="1398.45" width="85.70" height="22.274" fill="#D90000"/>
<text x="205.40" y="1415.08" font-size="8.3" text-anchor="end" fill="#111111" textLength="46.83" lengthAdjust="spacingAndGlyphs" stroke="#111" stroke-width="0.1">Focal adhesion</text>
<line x1="205.50" y1="1409.58" x2="207.50" y2="1409.58" stroke="#555" stroke-width="0.6"/>
<rect x="212.80" y="1423.19" width="83.00" height="22.274" fill="#D90000"/>
<text x="205.40" y="1439.83" font-size="8.3" text-anchor="end" fill="#111111" textLength="73.38" lengthAdjust="spacingAndGlyphs" stroke="#111" stroke-width="0.1">TNF signaling pathway</text>
<line x1="205.50" y1="1434.33" x2="207.50" y2="1434.33" stroke="#555" stroke-width="0.6"/>
<rect x="212.80" y="1447.94" width="82.00" height="22.274" fill="#D90000"/>
<text x="205.40" y="1464.58" font-size="8.3" text-anchor="end" fill="#111111" textLength="70.85" lengthAdjust="spacingAndGlyphs" stroke="#111" stroke-width="0.1">Glutamatergic synapse</text>
<line x1="205.50" y1="1459.08" x2="207.50" y2="1459.08" stroke="#555" stroke-width="0.6"/>
<rect x="212.80" y="1472.69" width="78.50" height="22.274" fill="#D90000"/>
<text x="205.40" y="1489.33" font-size="8.3" text-anchor="end" fill="#111111" textLength="103.80" lengthAdjust="spacingAndGlyphs" stroke="#111" stroke-width="0.1">Cell adhesion molecules (CAMs)</text>
<line x1="205.50" y1="1483.83" x2="207.50" y2="1483.83" stroke="#555" stroke-width="0.6"/>
<rect x="212.80" y="1497.44" width="76.40" height="22.274" fill="#D90000"/>
<text x="205.40" y="1514.08" font-size="8.3" text-anchor="end" fill="#111111" textLength="55.88" lengthAdjust="spacingAndGlyphs" stroke="#111" stroke-width="0.1">Platelet activation</text>
<line x1="205.50" y1="1508.58" x2="207.50" y2="1508.58" stroke="#555" stroke-width="0.6"/>
<rect x="212.80" y="1522.19" width="76.40" height="22.274" fill="#D90000"/>
<text x="205.40" y="1538.83" font-size="8.3" text-anchor="end" fill="#111111" textLength="83.28" lengthAdjust="spacingAndGlyphs" stroke="#111" stroke-width="0.1">Hematopoietic cell lineage</text>
<line x1="205.50" y1="1533.33" x2="207.50" y2="1533.33" stroke="#555" stroke-width="0.6"/>
<rect x="212.80" y="1546.94" width="75.60" height="22.274" fill="#D90000"/>
<text x="205.40" y="1563.58" font-size="8.3" text-anchor="end" fill="#111111" textLength="118.96" lengthAdjust="spacingAndGlyphs" stroke="#111" stroke-width="0.1">NOD−like receptor signaling pathway</text>
<line x1="205.50" y1="1558.08" x2="207.50" y2="1558.08" stroke="#555" stroke-width="0.6"/>
<rect x="212.80" y="1571.69" width="72.60" height="22.274" fill="#D90000"/>
<text x="205.40" y="1588.32" font-size="8.3" text-anchor="end" fill="#111111" textLength="64.52" lengthAdjust="spacingAndGlyphs" stroke="#111" stroke-width="0.1">Salmonella infection</text>
<line x1="205.50" y1="1582.82" x2="207.50" y2="1582.82" stroke="#555" stroke-width="0.6"/>
<rect x="212.80" y="1596.44" width="70.80" height="22.274" fill="#D90000"/>
<text x="205.40" y="1613.07" font-size="8.3" text-anchor="end" fill="#111111" textLength="31.52" lengthAdjust="spacingAndGlyphs" stroke="#111" stroke-width="0.1">Apoptosis</text>
<line x1="205.50" y1="1607.57" x2="207.50" y2="1607.57" stroke="#555" stroke-width="0.6"/>
<rect x="212.80" y="1621.18" width="67.90" height="22.274" fill="#D90000"/>
<text x="205.40" y="1637.82" font-size="8.3" text-anchor="end" fill="#111111" textLength="78.61" lengthAdjust="spacingAndGlyphs" stroke="#111" stroke-width="0.1">Osteoclast differentiation</text>
<line x1="205.50" y1="1632.32" x2="207.50" y2="1632.32" stroke="#555" stroke-width="0.6"/>
<rect x="212.80" y="1645.93" width="67.30" height="22.274" fill="#D90000"/>
<text x="205.40" y="1662.57" font-size="8.3" text-anchor="end" fill="#111111" textLength="125.08" lengthAdjust="spacingAndGlyphs" stroke="#111" stroke-width="0.1">Transcriptional misregulation in cancers</text>
<line x1="205.50" y1="1657.07" x2="207.50" y2="1657.07" stroke="#555" stroke-width="0.6"/>
<rect x="212.80" y="1670.68" width="66.50" height="22.274" fill="#D90000"/>
<text x="205.40" y="1687.32" font-size="8.3" text-anchor="end" fill="#111111" textLength="94.52" lengthAdjust="spacingAndGlyphs" stroke="#111" stroke-width="0.1">Chemokine signaling pathway</text>
<line x1="205.50" y1="1681.82" x2="207.50" y2="1681.82" stroke="#555" stroke-width="0.6"/>
<rect x="212.80" y="1695.43" width="66.00" height="22.274" fill="#D90000"/>
<text x="205.40" y="1712.07" font-size="8.3" text-anchor="end" fill="#111111" textLength="78.70" lengthAdjust="spacingAndGlyphs" stroke="#111" stroke-width="0.1">cAMP signaling pathway</text>
<line x1="205.50" y1="1706.57" x2="207.50" y2="1706.57" stroke="#555" stroke-width="0.6"/>
<rect x="212.80" y="1720.18" width="63.10" height="22.274" fill="#D90000"/>
<text x="205.40" y="1736.82" font-size="8.3" text-anchor="end" fill="#111111" textLength="55.88" lengthAdjust="spacingAndGlyphs" stroke="#111" stroke-width="0.1">Salivary secretion</text>
<line x1="205.50" y1="1731.32" x2="207.50" y2="1731.32" stroke="#555" stroke-width="0.6"/>
<rect x="212.80" y="1744.93" width="60.90" height="22.274" fill="#D90000"/>
<text x="205.40" y="1761.57" font-size="8.3" text-anchor="end" fill="#111111" textLength="46.51" lengthAdjust="spacingAndGlyphs" stroke="#111" stroke-width="0.1">Toxoplasmosis</text>
<line x1="205.50" y1="1756.07" x2="207.50" y2="1756.07" stroke="#555" stroke-width="0.6"/>
<rect x="212.80" y="1769.68" width="59.90" height="22.274" fill="#D90000"/>
<text x="205.40" y="1786.31" font-size="8.3" text-anchor="end" fill="#111111" textLength="27.63" lengthAdjust="spacingAndGlyphs" stroke="#111" stroke-width="0.1">Pertussis</text>
<line x1="205.50" y1="1780.81" x2="207.50" y2="1780.81" stroke="#555" stroke-width="0.6"/>
<rect x="212.80" y="1794.43" width="59.10" height="22.274" fill="#D90000"/>
<text x="205.40" y="1811.06" font-size="8.3" text-anchor="end" fill="#111111" textLength="87.62" lengthAdjust="spacingAndGlyphs" stroke="#111" stroke-width="0.1">Oxytocin signaling pathway</text>
<line x1="205.50" y1="1805.56" x2="207.50" y2="1805.56" stroke="#555" stroke-width="0.6"/>
<rect x="207.50" y="1320.40" width="125.80" height="500.00" fill="none" stroke="#9A9A9A" stroke-width="1.0"/>
<line x1="212.00" y1="1318.40" x2="212.00" y2="1320.40" stroke="#555" stroke-width="0.6"/>
<text x="208.51" y="1317.90" font-size="11.8" text-anchor="end" fill="#1A1A1A" transform="rotate(90 208.51 1317.90)">0</text>
<line x1="247.40" y1="1318.40" x2="247.40" y2="1320.40" stroke="#555" stroke-width="0.6"/>
<text x="243.91" y="1317.90" font-size="11.8" text-anchor="end" fill="#1A1A1A" transform="rotate(90 243.91 1317.90)">5</text>
<line x1="282.00" y1="1318.40" x2="282.00" y2="1320.40" stroke="#555" stroke-width="0.6"/>
<text x="278.51" y="1317.90" font-size="11.8" text-anchor="end" fill="#1A1A1A" transform="rotate(90 278.51 1317.90)">10</text>
<line x1="316.60" y1="1318.40" x2="316.60" y2="1320.40" stroke="#555" stroke-width="0.6"/>
<text x="313.11" y="1317.90" font-size="11.8" text-anchor="end" fill="#1A1A1A" transform="rotate(90 313.11 1317.90)">15</text>
<text x="270.00" y="1303.00" font-size="11.8" text-anchor="middle" fill="#000">−log(Pvalue)</text>
<text x="70.44" y="1570.00" font-size="12.3" text-anchor="middle" fill="#000" transform="rotate(90 70.44 1570.00)">KEGG Pathway</text>
<rect x="526.00" y="1317.70" width="113.40" height="22.523" fill="#D90000"/>
<text x="518.10" y="1334.46" font-size="8.3" text-anchor="end" fill="#111111" textLength="48.17" lengthAdjust="spacingAndGlyphs" stroke="#111" stroke-width="0.1">Axon guidance</text>
<line x1="518.20" y1="1328.96" x2="520.20" y2="1328.96" stroke="#555" stroke-width="0.6"/>
<rect x="526.00" y="1342.73" width="102.80" height="22.523" fill="#D90000"/>
<text x="518.10" y="1359.49" font-size="8.3" text-anchor="end" fill="#111111" textLength="80.22" lengthAdjust="spacingAndGlyphs" stroke="#111" stroke-width="0.1">cAMP signaling pathway</text>
<line x1="518.20" y1="1353.99" x2="520.20" y2="1353.99" stroke="#555" stroke-width="0.6"/>
<rect x="526.00" y="1367.75" width="102.50" height="22.523" fill="#D90000"/>
<text x="518.10" y="1384.51" font-size="8.3" text-anchor="end" fill="#111111" textLength="72.21" lengthAdjust="spacingAndGlyphs" stroke="#111" stroke-width="0.1">Glutamatergic synapse</text>
<line x1="518.20" y1="1379.01" x2="520.20" y2="1379.01" stroke="#555" stroke-width="0.6"/>
<rect x="526.00" y="1392.78" width="98.00" height="22.523" fill="#D90000"/>
<text x="518.10" y="1409.54" font-size="8.3" text-anchor="end" fill="#111111" textLength="120.13" lengthAdjust="spacingAndGlyphs" stroke="#111" stroke-width="0.1">Phosphatidylinositol signaling system</text>
<line x1="518.20" y1="1404.04" x2="520.20" y2="1404.04" stroke="#555" stroke-width="0.6"/>
<rect x="526.00" y="1417.80" width="95.80" height="22.523" fill="#D90000"/>
<text x="518.10" y="1434.56" font-size="8.3" text-anchor="end" fill="#111111" textLength="98.11" lengthAdjust="spacingAndGlyphs" stroke="#111" stroke-width="0.1">Ubiquitin mediated proteolysis</text>
<line x1="518.20" y1="1429.06" x2="520.20" y2="1429.06" stroke="#555" stroke-width="0.6"/>
<rect x="526.00" y="1442.83" width="95.30" height="22.523" fill="#D90000"/>
<text x="518.10" y="1459.59" font-size="8.3" text-anchor="end" fill="#111111" textLength="75.51" lengthAdjust="spacingAndGlyphs" stroke="#111" stroke-width="0.1">Long−term potentiation</text>
<line x1="518.20" y1="1454.09" x2="520.20" y2="1454.09" stroke="#555" stroke-width="0.6"/>
<rect x="526.00" y="1467.85" width="94.00" height="22.523" fill="#D90000"/>
<text x="518.10" y="1484.61" font-size="8.3" text-anchor="end" fill="#111111" textLength="62.69" lengthAdjust="spacingAndGlyphs" stroke="#111" stroke-width="0.1">Morphine addiction</text>
<line x1="518.20" y1="1479.11" x2="520.20" y2="1479.11" stroke="#555" stroke-width="0.6"/>
<rect x="526.00" y="1492.88" width="91.60" height="22.523" fill="#D90000"/>
<text x="518.10" y="1509.64" font-size="8.3" text-anchor="end" fill="#111111" textLength="89.31" lengthAdjust="spacingAndGlyphs" stroke="#111" stroke-width="0.1">Oxytocin signaling pathway</text>
<line x1="518.20" y1="1504.14" x2="520.20" y2="1504.14" stroke="#555" stroke-width="0.6"/>
<rect x="526.00" y="1517.90" width="77.70" height="22.523" fill="#D90000"/>
<text x="518.10" y="1534.66" font-size="8.3" text-anchor="end" fill="#111111" textLength="60.48" lengthAdjust="spacingAndGlyphs" stroke="#111" stroke-width="0.1">Lysine degradation</text>
<line x1="518.20" y1="1529.16" x2="520.20" y2="1529.16" stroke="#555" stroke-width="0.6"/>
<rect x="526.00" y="1542.93" width="77.50" height="22.523" fill="#D90000"/>
<text x="518.10" y="1559.69" font-size="8.3" text-anchor="end" fill="#111111" textLength="104.49" lengthAdjust="spacingAndGlyphs" stroke="#111" stroke-width="0.1">cGMP − PKG signaling pathway</text>
<line x1="518.20" y1="1554.19" x2="520.20" y2="1554.19" stroke="#555" stroke-width="0.6"/>
<rect x="526.00" y="1567.95" width="74.30" height="22.523" fill="#D90000"/>
<text x="518.10" y="1584.71" font-size="8.3" text-anchor="end" fill="#111111" textLength="72.22" lengthAdjust="spacingAndGlyphs" stroke="#111" stroke-width="0.1">Dopaminergic synapse</text>
<line x1="518.20" y1="1579.21" x2="520.20" y2="1579.21" stroke="#555" stroke-width="0.6"/>
<rect x="526.00" y="1592.98" width="71.40" height="22.523" fill="#D90000"/>
<text x="518.10" y="1609.74" font-size="8.3" text-anchor="end" fill="#111111" textLength="97.23" lengthAdjust="spacingAndGlyphs" stroke="#111" stroke-width="0.1">Inositol phosphate metabolism</text>
<line x1="518.20" y1="1604.24" x2="520.20" y2="1604.24" stroke="#555" stroke-width="0.6"/>
<rect x="526.00" y="1618.00" width="71.10" height="22.523" fill="#D90000"/>
<text x="518.10" y="1634.76" font-size="8.3" text-anchor="end" fill="#111111" textLength="90.62" lengthAdjust="spacingAndGlyphs" stroke="#111" stroke-width="0.1">Glucagon signaling pathway</text>
<line x1="518.20" y1="1629.26" x2="520.20" y2="1629.26" stroke="#555" stroke-width="0.6"/>
<rect x="526.00" y="1643.03" width="70.80" height="22.523" fill="#D90000"/>
<text x="518.10" y="1659.79" font-size="8.3" text-anchor="end" fill="#111111" textLength="38.72" lengthAdjust="spacingAndGlyphs" stroke="#111" stroke-width="0.1">Endocytosis</text>
<line x1="518.20" y1="1654.29" x2="520.20" y2="1654.29" stroke="#555" stroke-width="0.6"/>
<rect x="526.00" y="1668.05" width="65.80" height="22.523" fill="#D90000"/>
<text x="518.10" y="1684.81" font-size="8.3" text-anchor="end" fill="#111111" textLength="44.82" lengthAdjust="spacingAndGlyphs" stroke="#111" stroke-width="0.1">Tight junction</text>
<line x1="518.20" y1="1679.31" x2="520.20" y2="1679.31" stroke="#555" stroke-width="0.6"/>
<rect x="526.00" y="1693.08" width="64.70" height="22.523" fill="#D90000"/>
<text x="518.10" y="1709.84" font-size="8.3" text-anchor="end" fill="#111111" textLength="76.55" lengthAdjust="spacingAndGlyphs" stroke="#111" stroke-width="0.1">ErbB signaling pathway</text>
<line x1="518.20" y1="1704.34" x2="520.20" y2="1704.34" stroke="#555" stroke-width="0.6"/>
<rect x="526.00" y="1718.10" width="64.70" height="22.523" fill="#D90000"/>
<text x="518.10" y="1734.86" font-size="8.3" text-anchor="end" fill="#111111" textLength="58.29" lengthAdjust="spacingAndGlyphs" stroke="#111" stroke-width="0.1">Adherens junction</text>
<line x1="518.20" y1="1729.36" x2="520.20" y2="1729.36" stroke="#555" stroke-width="0.6"/>
<rect x="526.00" y="1743.13" width="62.60" height="22.523" fill="#D90000"/>
<text x="518.10" y="1759.89" font-size="8.3" text-anchor="end" fill="#111111" textLength="81.39" lengthAdjust="spacingAndGlyphs" stroke="#111" stroke-width="0.1">Apelin signaling pathway</text>
<line x1="518.20" y1="1754.39" x2="520.20" y2="1754.39" stroke="#555" stroke-width="0.6"/>
<rect x="526.00" y="1768.15" width="61.00" height="22.523" fill="#D90000"/>
<text x="518.10" y="1784.91" font-size="8.3" text-anchor="end" fill="#111111" textLength="131.59" lengthAdjust="spacingAndGlyphs" stroke="#111" stroke-width="0.1">Longevity regulating pathway − mammal</text>
<line x1="518.20" y1="1779.41" x2="520.20" y2="1779.41" stroke="#555" stroke-width="0.6"/>
<rect x="526.00" y="1793.18" width="59.40" height="22.523" fill="#D90000"/>
<text x="518.10" y="1809.94" font-size="8.3" text-anchor="end" fill="#111111" textLength="66.85" lengthAdjust="spacingAndGlyphs" stroke="#111" stroke-width="0.1">Renal cell carcinoma</text>
<line x1="518.20" y1="1804.44" x2="520.20" y2="1804.44" stroke="#555" stroke-width="0.6"/>
<rect x="520.20" y="1313.90" width="125.00" height="505.50" fill="none" stroke="#9A9A9A" stroke-width="1.0"/>
<line x1="526.00" y1="1311.90" x2="526.00" y2="1313.90" stroke="#555" stroke-width="0.6"/>
<text x="522.51" y="1311.40" font-size="11.8" text-anchor="end" fill="#1A1A1A" transform="rotate(90 522.51 1311.40)">0</text>
<line x1="561.00" y1="1311.90" x2="561.00" y2="1313.90" stroke="#555" stroke-width="0.6"/>
<text x="557.51" y="1311.40" font-size="11.8" text-anchor="end" fill="#1A1A1A" transform="rotate(90 557.51 1311.40)">2</text>
<line x1="596.00" y1="1311.90" x2="596.00" y2="1313.90" stroke="#555" stroke-width="0.6"/>
<text x="592.51" y="1311.40" font-size="11.8" text-anchor="end" fill="#1A1A1A" transform="rotate(90 592.51 1311.40)">4</text>
<line x1="631.40" y1="1311.90" x2="631.40" y2="1313.90" stroke="#555" stroke-width="0.6"/>
<text x="627.91" y="1311.40" font-size="11.8" text-anchor="end" fill="#1A1A1A" transform="rotate(90 627.91 1311.40)">6</text>
<text x="582.70" y="1302.00" font-size="11.8" text-anchor="middle" fill="#000">−log(Pvalue)</text>
<text x="376.44" y="1566.00" font-size="12.3" text-anchor="middle" fill="#000" transform="rotate(90 376.44 1566.00)">KEGG Pathway</text>
<rect x="868.30" y="1332.80" width="87.50" height="21.840" fill="#D90000"/>
<text x="862.20" y="1349.22" font-size="8.3" text-anchor="end" fill="#111111" textLength="75.19" lengthAdjust="spacingAndGlyphs" stroke="#111" stroke-width="0.1">Type I diabetes mellitus</text>
<line x1="862.30" y1="1343.72" x2="864.30" y2="1343.72" stroke="#555" stroke-width="0.6"/>
<rect x="868.30" y="1357.07" width="79.70" height="21.840" fill="#D90000"/>
<text x="862.20" y="1373.49" font-size="8.3" text-anchor="end" fill="#111111" textLength="89.56" lengthAdjust="spacingAndGlyphs" stroke="#111" stroke-width="0.1">Epstein−Barr virus infection</text>
<line x1="862.30" y1="1367.99" x2="864.30" y2="1367.99" stroke="#555" stroke-width="0.6"/>
<rect x="868.30" y="1381.33" width="74.70" height="21.840" fill="#D90000"/>
<text x="862.20" y="1397.75" font-size="8.3" text-anchor="end" fill="#111111" textLength="83.30" lengthAdjust="spacingAndGlyphs" stroke="#111" stroke-width="0.1">Graft−versus−host disease</text>
<line x1="862.30" y1="1392.25" x2="864.30" y2="1392.25" stroke="#555" stroke-width="0.6"/>
<rect x="868.30" y="1405.60" width="72.60" height="21.840" fill="#D90000"/>
<text x="862.20" y="1422.02" font-size="8.3" text-anchor="end" fill="#111111" textLength="105.00" lengthAdjust="spacingAndGlyphs" stroke="#111" stroke-width="0.1">Cell adhesion molecules (CAMs)</text>
<line x1="862.30" y1="1416.52" x2="864.30" y2="1416.52" stroke="#555" stroke-width="0.6"/>
<rect x="868.30" y="1429.87" width="71.20" height="21.840" fill="#D90000"/>
<text x="862.20" y="1446.29" font-size="8.3" text-anchor="end" fill="#111111" textLength="58.27" lengthAdjust="spacingAndGlyphs" stroke="#111" stroke-width="0.1">Allograft rejection</text>
<line x1="862.30" y1="1440.79" x2="864.30" y2="1440.79" stroke="#555" stroke-width="0.6"/>
<rect x="868.30" y="1454.13" width="71.20" height="21.840" fill="#D90000"/>
<text x="862.20" y="1470.55" font-size="8.3" text-anchor="end" fill="#111111" textLength="114.60" lengthAdjust="spacingAndGlyphs" stroke="#111" stroke-width="0.1">Antigen processing and presentation</text>
<line x1="862.30" y1="1465.05" x2="864.30" y2="1465.05" stroke="#555" stroke-width="0.6"/>
<rect x="868.30" y="1478.40" width="68.30" height="21.840" fill="#D90000"/>
<text x="862.20" y="1494.82" font-size="8.3" text-anchor="end" fill="#111111" textLength="54.75" lengthAdjust="spacingAndGlyphs" stroke="#111" stroke-width="0.1">Viral myocarditis</text>
<line x1="862.30" y1="1489.32" x2="864.30" y2="1489.32" stroke="#555" stroke-width="0.6"/>
<rect x="868.30" y="1502.66" width="68.30" height="21.840" fill="#D90000"/>
<text x="862.20" y="1519.08" font-size="8.3" text-anchor="end" fill="#111111" textLength="90.81" lengthAdjust="spacingAndGlyphs" stroke="#111" stroke-width="0.1">Autoimmune thyroid disease</text>
<line x1="862.30" y1="1513.58" x2="864.30" y2="1513.58" stroke="#555" stroke-width="0.6"/>
<rect x="868.30" y="1526.93" width="60.30" height="21.840" fill="#D90000"/>
<text x="862.20" y="1543.35" font-size="8.3" text-anchor="end" fill="#111111" textLength="62.20" lengthAdjust="spacingAndGlyphs" stroke="#111" stroke-width="0.1">Cellular senescence</text>
<line x1="862.30" y1="1537.85" x2="864.30" y2="1537.85" stroke="#555" stroke-width="0.6"/>
<rect x="868.30" y="1551.20" width="59.50" height="21.840" fill="#D90000"/>
<text x="862.20" y="1567.62" font-size="8.3" text-anchor="end" fill="#111111" textLength="125.72" lengthAdjust="spacingAndGlyphs" stroke="#111" stroke-width="0.1">Natural killer cell mediated cytotoxicity</text>
<line x1="862.30" y1="1562.12" x2="864.30" y2="1562.12" stroke="#555" stroke-width="0.6"/>
<rect x="868.30" y="1575.46" width="55.00" height="21.840" fill="#D90000"/>
<text x="862.20" y="1591.88" font-size="8.3" text-anchor="end" fill="#111111" textLength="158.32" lengthAdjust="spacingAndGlyphs" stroke="#111" stroke-width="0.1">Kaposis sarcoma−associated herpesvirus infection</text>
<line x1="862.30" y1="1586.38" x2="864.30" y2="1586.38" stroke="#555" stroke-width="0.6"/>
<rect x="868.30" y="1599.73" width="46.00" height="21.840" fill="#D90000"/>
<text x="862.20" y="1616.15" font-size="8.3" text-anchor="end" fill="#111111" textLength="38.43" lengthAdjust="spacingAndGlyphs" stroke="#111" stroke-width="0.1">Endocytosis</text>
<line x1="862.30" y1="1610.65" x2="864.30" y2="1610.65" stroke="#555" stroke-width="0.6"/>
<rect x="868.30" y="1624.00" width="45.20" height="21.840" fill="#D90000"/>
<text x="862.20" y="1640.42" font-size="8.3" text-anchor="end" fill="#111111" textLength="82.09" lengthAdjust="spacingAndGlyphs" stroke="#111" stroke-width="0.1">MAPK signaling pathway</text>
<line x1="862.30" y1="1634.92" x2="864.30" y2="1634.92" stroke="#555" stroke-width="0.6"/>
<rect x="868.30" y="1648.26" width="44.40" height="21.840" fill="#D90000"/>
<text x="862.20" y="1664.68" font-size="8.3" text-anchor="end" fill="#111111" textLength="71.67" lengthAdjust="spacingAndGlyphs" stroke="#111" stroke-width="0.1">Glutamatergic synapse</text>
<line x1="862.30" y1="1659.18" x2="864.30" y2="1659.18" stroke="#555" stroke-width="0.6"/>
<rect x="868.30" y="1672.53" width="42.50" height="21.840" fill="#D90000"/>
<text x="862.20" y="1688.95" font-size="8.3" text-anchor="end" fill="#111111" textLength="63.91" lengthAdjust="spacingAndGlyphs" stroke="#111" stroke-width="0.1">Viral carcinogenesis</text>
<line x1="862.30" y1="1683.45" x2="864.30" y2="1683.45" stroke="#555" stroke-width="0.6"/>
<rect x="868.30" y="1696.79" width="37.20" height="21.840" fill="#D90000"/>
<text x="862.20" y="1713.21" font-size="8.3" text-anchor="end" fill="#111111" textLength="79.02" lengthAdjust="spacingAndGlyphs" stroke="#111" stroke-width="0.1">Herpes simplex infection</text>
<line x1="862.30" y1="1707.71" x2="864.30" y2="1707.71" stroke="#555" stroke-width="0.6"/>
<rect x="868.30" y="1721.06" width="36.90" height="21.840" fill="#D90000"/>
<text x="862.20" y="1737.48" font-size="8.3" text-anchor="end" fill="#111111" textLength="57.18" lengthAdjust="spacingAndGlyphs" stroke="#111" stroke-width="0.1">HTLV−I infection</text>
<line x1="862.30" y1="1731.98" x2="864.30" y2="1731.98" stroke="#555" stroke-width="0.6"/>
<rect x="868.30" y="1745.33" width="33.70" height="21.840" fill="#D90000"/>
<text x="862.20" y="1761.75" font-size="8.3" text-anchor="end" fill="#111111" textLength="36.24" lengthAdjust="spacingAndGlyphs" stroke="#111" stroke-width="0.1">Phagosome</text>
<line x1="862.30" y1="1756.25" x2="864.30" y2="1756.25" stroke="#555" stroke-width="0.6"/>
<rect x="868.30" y="1769.59" width="31.10" height="21.840" fill="#D90000"/>
<text x="862.20" y="1786.01" font-size="8.3" text-anchor="end" fill="#111111" textLength="62.21" lengthAdjust="spacingAndGlyphs" stroke="#111" stroke-width="0.1">Morphine addiction</text>
<line x1="862.30" y1="1780.51" x2="864.30" y2="1780.51" stroke="#555" stroke-width="0.6"/>
<rect x="868.30" y="1793.86" width="31.10" height="21.840" fill="#D90000"/>
<text x="862.20" y="1810.28" font-size="8.3" text-anchor="end" fill="#111111" textLength="123.60" lengthAdjust="spacingAndGlyphs" stroke="#111" stroke-width="0.1">Cytokine−cytokine receptor interaction</text>
<line x1="862.30" y1="1804.78" x2="864.30" y2="1804.78" stroke="#555" stroke-width="0.6"/>
<rect x="864.30" y="1329.00" width="95.70" height="490.40" fill="none" stroke="#9A9A9A" stroke-width="1.0"/>
<line x1="868.30" y1="1327.00" x2="868.30" y2="1329.00" stroke="#555" stroke-width="0.6"/>
<text x="864.81" y="1326.50" font-size="11.8" text-anchor="end" fill="#1A1A1A" transform="rotate(90 864.81 1326.50)">0.0</text>
<line x1="889.30" y1="1327.00" x2="889.30" y2="1329.00" stroke="#555" stroke-width="0.6"/>
<text x="885.81" y="1326.50" font-size="11.8" text-anchor="end" fill="#1A1A1A" transform="rotate(90 885.81 1326.50)">2.5</text>
<line x1="910.00" y1="1327.00" x2="910.00" y2="1329.00" stroke="#555" stroke-width="0.6"/>
<text x="906.51" y="1326.50" font-size="11.8" text-anchor="end" fill="#1A1A1A" transform="rotate(90 906.51 1326.50)">5.0</text>
<line x1="931.30" y1="1327.00" x2="931.30" y2="1329.00" stroke="#555" stroke-width="0.6"/>
<text x="927.81" y="1326.50" font-size="11.8" text-anchor="end" fill="#1A1A1A" transform="rotate(90 927.81 1326.50)">7.5</text>
<line x1="952.60" y1="1327.00" x2="952.60" y2="1329.00" stroke="#555" stroke-width="0.6"/>
<text x="949.11" y="1326.50" font-size="11.8" text-anchor="end" fill="#1A1A1A" transform="rotate(90 949.11 1326.50)">10.0</text>
<text x="912.00" y="1302.00" font-size="11.8" text-anchor="middle" fill="#000">−log(Pvalue)</text>
<text x="693.94" y="1574.00" font-size="12.3" text-anchor="middle" fill="#000" transform="rotate(90 693.94 1574.00)">KEGG Pathway</text>
<rect x="1203.00" y="1323.80" width="65.40" height="22.247" fill="#D90000"/>
<text x="1197.40" y="1340.42" font-size="8.3" text-anchor="end" fill="#111111" textLength="81.25" lengthAdjust="spacingAndGlyphs" stroke="#111" stroke-width="0.1">MAPK signaling pathway</text>
<line x1="1197.50" y1="1334.92" x2="1199.50" y2="1334.92" stroke="#555" stroke-width="0.6"/>
<rect x="1203.00" y="1348.52" width="47.90" height="22.247" fill="#D90000"/>
<text x="1197.40" y="1365.14" font-size="8.3" text-anchor="end" fill="#111111" textLength="73.47" lengthAdjust="spacingAndGlyphs" stroke="#111" stroke-width="0.1">TNF signaling pathway</text>
<line x1="1197.50" y1="1359.64" x2="1199.50" y2="1359.64" stroke="#555" stroke-width="0.6"/>
<rect x="1203.00" y="1373.24" width="47.00" height="22.247" fill="#D90000"/>
<text x="1197.40" y="1389.86" font-size="8.3" text-anchor="end" fill="#111111" textLength="70.94" lengthAdjust="spacingAndGlyphs" stroke="#111" stroke-width="0.1">Glutamatergic synapse</text>
<line x1="1197.50" y1="1384.36" x2="1199.50" y2="1384.36" stroke="#555" stroke-width="0.6"/>
<rect x="1203.00" y="1397.96" width="46.20" height="22.247" fill="#D90000"/>
<text x="1197.40" y="1414.58" font-size="8.3" text-anchor="end" fill="#111111" textLength="78.28" lengthAdjust="spacingAndGlyphs" stroke="#111" stroke-width="0.1">IL−17 signaling pathway</text>
<line x1="1197.50" y1="1409.08" x2="1199.50" y2="1409.08" stroke="#555" stroke-width="0.6"/>
<rect x="1203.00" y="1422.67" width="44.70" height="22.247" fill="#D90000"/>
<text x="1197.40" y="1439.30" font-size="8.3" text-anchor="end" fill="#111111" textLength="60.06" lengthAdjust="spacingAndGlyphs" stroke="#111" stroke-width="0.1">Pathways in cancer</text>
<line x1="1197.50" y1="1433.80" x2="1199.50" y2="1433.80" stroke="#555" stroke-width="0.6"/>
<rect x="1203.00" y="1447.39" width="44.40" height="22.247" fill="#D90000"/>
<text x="1197.40" y="1464.02" font-size="8.3" text-anchor="end" fill="#111111" textLength="64.60" lengthAdjust="spacingAndGlyphs" stroke="#111" stroke-width="0.1">Salmonella infection</text>
<line x1="1197.50" y1="1458.52" x2="1199.50" y2="1458.52" stroke="#555" stroke-width="0.6"/>
<rect x="1203.00" y="1472.11" width="43.90" height="22.247" fill="#D90000"/>
<text x="1197.40" y="1488.73" font-size="8.3" text-anchor="end" fill="#111111" textLength="75.90" lengthAdjust="spacingAndGlyphs" stroke="#111" stroke-width="0.1">Th17 cell differentiation</text>
<line x1="1197.50" y1="1483.23" x2="1199.50" y2="1483.23" stroke="#555" stroke-width="0.6"/>
<rect x="1203.00" y="1496.83" width="41.50" height="22.247" fill="#D90000"/>
<text x="1197.40" y="1513.45" font-size="8.3" text-anchor="end" fill="#111111" textLength="125.25" lengthAdjust="spacingAndGlyphs" stroke="#111" stroke-width="0.1">Transcriptional misregulation in cancers</text>
<line x1="1197.50" y1="1507.95" x2="1199.50" y2="1507.95" stroke="#555" stroke-width="0.6"/>
<rect x="1203.00" y="1521.55" width="39.90" height="22.247" fill="#D90000"/>
<text x="1197.40" y="1538.17" font-size="8.3" text-anchor="end" fill="#111111" textLength="156.70" lengthAdjust="spacingAndGlyphs" stroke="#111" stroke-width="0.1">Kaposis sarcoma−associated herpesvirus infection</text>
<line x1="1197.50" y1="1532.67" x2="1199.50" y2="1532.67" stroke="#555" stroke-width="0.6"/>
<rect x="1203.00" y="1546.27" width="37.50" height="22.247" fill="#D90000"/>
<text x="1197.40" y="1562.89" font-size="8.3" text-anchor="end" fill="#111111" textLength="64.03" lengthAdjust="spacingAndGlyphs" stroke="#111" stroke-width="0.1">GABAergic synapse</text>
<line x1="1197.50" y1="1557.39" x2="1199.50" y2="1557.39" stroke="#555" stroke-width="0.6"/>
<rect x="1203.00" y="1570.99" width="37.00" height="22.247" fill="#D90000"/>
<text x="1197.40" y="1587.61" font-size="8.3" text-anchor="end" fill="#111111" textLength="70.94" lengthAdjust="spacingAndGlyphs" stroke="#111" stroke-width="0.1">Dopaminergic synapse</text>
<line x1="1197.50" y1="1582.11" x2="1199.50" y2="1582.11" stroke="#555" stroke-width="0.6"/>
<rect x="1203.00" y="1595.70" width="36.40" height="22.247" fill="#D90000"/>
<text x="1197.40" y="1612.33" font-size="8.3" text-anchor="end" fill="#111111" textLength="94.64" lengthAdjust="spacingAndGlyphs" stroke="#111" stroke-width="0.1">Chemokine signaling pathway</text>
<line x1="1197.50" y1="1606.83" x2="1199.50" y2="1606.83" stroke="#555" stroke-width="0.6"/>
<rect x="1203.00" y="1620.42" width="34.50" height="22.247" fill="#D90000"/>
<text x="1197.40" y="1637.05" font-size="8.3" text-anchor="end" fill="#111111" textLength="56.60" lengthAdjust="spacingAndGlyphs" stroke="#111" stroke-width="0.1">HTLV−I infection</text>
<line x1="1197.50" y1="1631.55" x2="1199.50" y2="1631.55" stroke="#555" stroke-width="0.6"/>
<rect x="1203.00" y="1645.14" width="34.00" height="22.247" fill="#D90000"/>
<text x="1197.40" y="1661.77" font-size="8.3" text-anchor="end" fill="#111111" textLength="69.35" lengthAdjust="spacingAndGlyphs" stroke="#111" stroke-width="0.1">Circadian entrainment</text>
<line x1="1197.50" y1="1656.27" x2="1199.50" y2="1656.27" stroke="#555" stroke-width="0.6"/>
<rect x="1203.00" y="1669.86" width="33.70" height="22.247" fill="#D90000"/>
<text x="1197.40" y="1686.48" font-size="8.3" text-anchor="end" fill="#111111" textLength="55.95" lengthAdjust="spacingAndGlyphs" stroke="#111" stroke-width="0.1">Platelet activation</text>
<line x1="1197.50" y1="1680.98" x2="1199.50" y2="1680.98" stroke="#555" stroke-width="0.6"/>
<rect x="1203.00" y="1694.58" width="33.50" height="22.247" fill="#D90000"/>
<text x="1197.40" y="1711.20" font-size="8.3" text-anchor="end" fill="#111111" textLength="120.13" lengthAdjust="spacingAndGlyphs" stroke="#111" stroke-width="0.1">Retrograde endocannabinoid signaling</text>
<line x1="1197.50" y1="1705.70" x2="1199.50" y2="1705.70" stroke="#555" stroke-width="0.6"/>
<rect x="1203.00" y="1719.30" width="33.20" height="22.247" fill="#D90000"/>
<text x="1197.40" y="1735.92" font-size="8.3" text-anchor="end" fill="#111111" textLength="137.63" lengthAdjust="spacingAndGlyphs" stroke="#111" stroke-width="0.1">Chagas disease (American trypanosomiasis)</text>
<line x1="1197.50" y1="1730.42" x2="1199.50" y2="1730.42" stroke="#555" stroke-width="0.6"/>
<rect x="1203.00" y="1744.02" width="33.00" height="22.247" fill="#D90000"/>
<text x="1197.40" y="1760.64" font-size="8.3" text-anchor="end" fill="#111111" textLength="180.49" lengthAdjust="spacingAndGlyphs" stroke="#111" stroke-width="0.1">AGE−RAGE signaling pathway in diabetic complications</text>
<line x1="1197.50" y1="1755.14" x2="1199.50" y2="1755.14" stroke="#555" stroke-width="0.6"/>
<rect x="1203.00" y="1768.73" width="32.70" height="22.247" fill="#D90000"/>
<text x="1197.40" y="1785.36" font-size="8.3" text-anchor="end" fill="#111111" textLength="31.56" lengthAdjust="spacingAndGlyphs" stroke="#111" stroke-width="0.1">Apoptosis</text>
<line x1="1197.50" y1="1779.86" x2="1199.50" y2="1779.86" stroke="#555" stroke-width="0.6"/>
<rect x="1203.00" y="1793.45" width="32.70" height="22.247" fill="#D90000"/>
<text x="1197.40" y="1810.08" font-size="8.3" text-anchor="end" fill="#111111" textLength="44.51" lengthAdjust="spacingAndGlyphs" stroke="#111" stroke-width="0.1">Leishmaniasis</text>
<line x1="1197.50" y1="1804.58" x2="1199.50" y2="1804.58" stroke="#555" stroke-width="0.6"/>
<rect x="1199.50" y="1320.00" width="72.40" height="499.40" fill="none" stroke="#9A9A9A" stroke-width="1.0"/>
<line x1="1203.00" y1="1318.00" x2="1203.00" y2="1320.00" stroke="#555" stroke-width="0.6"/>
<text x="1199.51" y="1317.50" font-size="11.8" text-anchor="end" fill="#1A1A1A" transform="rotate(90 1199.51 1317.50)">0</text>
<line x1="1225.30" y1="1318.00" x2="1225.30" y2="1320.00" stroke="#555" stroke-width="0.6"/>
<text x="1221.81" y="1317.50" font-size="11.8" text-anchor="end" fill="#1A1A1A" transform="rotate(90 1221.81 1317.50)">5</text>
<line x1="1247.40" y1="1318.00" x2="1247.40" y2="1320.00" stroke="#555" stroke-width="0.6"/>
<text x="1243.91" y="1317.50" font-size="11.8" text-anchor="end" fill="#1A1A1A" transform="rotate(90 1243.91 1317.50)">10</text>
<line x1="1269.50" y1="1318.00" x2="1269.50" y2="1320.00" stroke="#555" stroke-width="0.6"/>
<text x="1266.01" y="1317.50" font-size="11.8" text-anchor="end" fill="#1A1A1A" transform="rotate(90 1266.01 1317.50)">15</text>
<text x="1235.40" y="1302.00" font-size="11.8" text-anchor="middle" fill="#000">−log(Pvalue)</text>
<text x="1006.94" y="1569.00" font-size="12.3" text-anchor="middle" fill="#000" transform="rotate(90 1006.94 1569.00)">KEGG Pathway</text>
<rect x="202.20" y="1889.50" width="112.50" height="22.726" fill="#D90000"/>
<text x="194.80" y="1906.36" font-size="8.3" text-anchor="end" fill="#111111" textLength="101.00" lengthAdjust="spacingAndGlyphs" stroke="#111" stroke-width="0.1">Cell adhesion molecules (CAMs)</text>
<line x1="194.90" y1="1900.86" x2="196.90" y2="1900.86" stroke="#555" stroke-width="0.6"/>
<rect x="202.20" y="1914.75" width="73.90" height="22.726" fill="#D90000"/>
<text x="194.80" y="1931.61" font-size="8.3" text-anchor="end" fill="#111111" textLength="120.97" lengthAdjust="spacingAndGlyphs" stroke="#111" stroke-width="0.1">Neuroactive ligand−receptor interaction</text>
<line x1="194.90" y1="1926.11" x2="196.90" y2="1926.11" stroke="#555" stroke-width="0.6"/>
<rect x="202.20" y="1940.00" width="66.50" height="22.726" fill="#D90000"/>
<text x="194.80" y="1956.87" font-size="8.3" text-anchor="end" fill="#111111" textLength="80.12" lengthAdjust="spacingAndGlyphs" stroke="#111" stroke-width="0.1">Graft−versus−host disease</text>
<line x1="194.90" y1="1951.37" x2="196.90" y2="1951.37" stroke="#555" stroke-width="0.6"/>
<rect x="202.20" y="1965.25" width="66.00" height="22.726" fill="#D90000"/>
<text x="194.80" y="1982.12" font-size="8.3" text-anchor="end" fill="#111111" textLength="118.88" lengthAdjust="spacingAndGlyphs" stroke="#111" stroke-width="0.1">Cytokine−cytokine receptor interaction</text>
<line x1="194.90" y1="1976.62" x2="196.90" y2="1976.62" stroke="#555" stroke-width="0.6"/>
<rect x="202.20" y="1990.51" width="63.80" height="22.726" fill="#D90000"/>
<text x="194.80" y="2007.37" font-size="8.3" text-anchor="end" fill="#111111" textLength="56.05" lengthAdjust="spacingAndGlyphs" stroke="#111" stroke-width="0.1">Allograft rejection</text>
<line x1="194.90" y1="2001.87" x2="196.90" y2="2001.87" stroke="#555" stroke-width="0.6"/>
<rect x="202.20" y="2015.76" width="59.80" height="22.726" fill="#D90000"/>
<text x="194.80" y="2032.62" font-size="8.3" text-anchor="end" fill="#111111" textLength="76.57" lengthAdjust="spacingAndGlyphs" stroke="#111" stroke-width="0.1">cAMP signaling pathway</text>
<line x1="194.90" y1="2027.12" x2="196.90" y2="2027.12" stroke="#555" stroke-width="0.6"/>
<rect x="202.20" y="2041.01" width="58.00" height="22.726" fill="#D90000"/>
<text x="194.80" y="2057.87" font-size="8.3" text-anchor="end" fill="#111111" textLength="59.84" lengthAdjust="spacingAndGlyphs" stroke="#111" stroke-width="0.1">Morphine addiction</text>
<line x1="194.90" y1="2052.37" x2="196.90" y2="2052.37" stroke="#555" stroke-width="0.6"/>
<rect x="202.20" y="2066.26" width="57.40" height="22.726" fill="#D90000"/>
<text x="194.80" y="2083.12" font-size="8.3" text-anchor="end" fill="#111111" textLength="87.35" lengthAdjust="spacingAndGlyphs" stroke="#111" stroke-width="0.1">Autoimmune thyroid disease</text>
<line x1="194.90" y1="2077.62" x2="196.90" y2="2077.62" stroke="#555" stroke-width="0.6"/>
<rect x="202.20" y="2091.51" width="56.60" height="22.726" fill="#D90000"/>
<text x="194.80" y="2108.37" font-size="8.3" text-anchor="end" fill="#111111" textLength="72.32" lengthAdjust="spacingAndGlyphs" stroke="#111" stroke-width="0.1">Type I diabetes mellitus</text>
<line x1="194.90" y1="2102.87" x2="196.90" y2="2102.87" stroke="#555" stroke-width="0.6"/>
<rect x="202.20" y="2116.76" width="55.30" height="22.726" fill="#D90000"/>
<text x="194.80" y="2133.62" font-size="8.3" text-anchor="end" fill="#111111" textLength="97.83" lengthAdjust="spacingAndGlyphs" stroke="#111" stroke-width="0.1">Staphylococcus aureus infection</text>
<line x1="194.90" y1="2128.12" x2="196.90" y2="2128.12" stroke="#555" stroke-width="0.6"/>
<rect x="202.20" y="2142.01" width="53.70" height="22.726" fill="#D90000"/>
<text x="194.80" y="2158.88" font-size="8.3" text-anchor="end" fill="#111111" textLength="91.97" lengthAdjust="spacingAndGlyphs" stroke="#111" stroke-width="0.1">Chemokine signaling pathway</text>
<line x1="194.90" y1="2153.38" x2="196.90" y2="2153.38" stroke="#555" stroke-width="0.6"/>
<rect x="202.20" y="2167.26" width="46.50" height="22.726" fill="#D90000"/>
<text x="194.80" y="2184.13" font-size="8.3" text-anchor="end" fill="#111111" textLength="52.66" lengthAdjust="spacingAndGlyphs" stroke="#111" stroke-width="0.1">Viral myocarditis</text>
<line x1="194.90" y1="2178.63" x2="196.90" y2="2178.63" stroke="#555" stroke-width="0.6"/>
<rect x="202.20" y="2192.52" width="45.70" height="22.726" fill="#D90000"/>
<text x="194.80" y="2209.38" font-size="8.3" text-anchor="end" fill="#111111" textLength="61.38" lengthAdjust="spacingAndGlyphs" stroke="#111" stroke-width="0.1">Cholinergic synapse</text>
<line x1="194.90" y1="2203.88" x2="196.90" y2="2203.88" stroke="#555" stroke-width="0.6"/>
<rect x="202.20" y="2217.77" width="43.10" height="22.726" fill="#D90000"/>
<text x="194.80" y="2234.63" font-size="8.3" text-anchor="end" fill="#111111" textLength="81.03" lengthAdjust="spacingAndGlyphs" stroke="#111" stroke-width="0.1">Hematopoietic cell lineage</text>
<line x1="194.90" y1="2229.13" x2="196.90" y2="2229.13" stroke="#555" stroke-width="0.6"/>
<rect x="202.20" y="2243.02" width="42.50" height="22.726" fill="#D90000"/>
<text x="194.80" y="2259.88" font-size="8.3" text-anchor="end" fill="#111111" textLength="107.70" lengthAdjust="spacingAndGlyphs" stroke="#111" stroke-width="0.1">Inflammatiory bowel disease (IBD)</text>
<line x1="194.90" y1="2254.38" x2="196.90" y2="2254.38" stroke="#555" stroke-width="0.6"/>
<rect x="202.20" y="2268.27" width="42.00" height="22.726" fill="#D90000"/>
<text x="194.80" y="2285.13" font-size="8.3" text-anchor="end" fill="#111111" textLength="62.22" lengthAdjust="spacingAndGlyphs" stroke="#111" stroke-width="0.1">GABAergic synapse</text>
<line x1="194.90" y1="2279.63" x2="196.90" y2="2279.63" stroke="#555" stroke-width="0.6"/>
<rect x="202.20" y="2293.52" width="41.70" height="22.726" fill="#D90000"/>
<text x="194.80" y="2310.38" font-size="8.3" text-anchor="end" fill="#111111" textLength="110.22" lengthAdjust="spacingAndGlyphs" stroke="#111" stroke-width="0.1">Antigen processing and presentation</text>
<line x1="194.90" y1="2304.88" x2="196.90" y2="2304.88" stroke="#555" stroke-width="0.6"/>
<rect x="202.20" y="2318.77" width="37.50" height="22.726" fill="#D90000"/>
<text x="194.80" y="2335.63" font-size="8.3" text-anchor="end" fill="#111111" textLength="62.36" lengthAdjust="spacingAndGlyphs" stroke="#111" stroke-width="0.1">Rheumatoid arthritis</text>
<line x1="194.90" y1="2330.13" x2="196.90" y2="2330.13" stroke="#555" stroke-width="0.6"/>
<rect x="202.20" y="2344.02" width="37.50" height="22.726" fill="#D90000"/>
<text x="194.80" y="2360.89" font-size="8.3" text-anchor="end" fill="#111111" textLength="68.93" lengthAdjust="spacingAndGlyphs" stroke="#111" stroke-width="0.1">Glutamatergic synapse</text>
<line x1="194.90" y1="2355.39" x2="196.90" y2="2355.39" stroke="#555" stroke-width="0.6"/>
<rect x="202.20" y="2369.27" width="36.40" height="22.726" fill="#D90000"/>
<text x="194.80" y="2386.14" font-size="8.3" text-anchor="end" fill="#111111" textLength="120.92" lengthAdjust="spacingAndGlyphs" stroke="#111" stroke-width="0.1">Natural killer cell mediated cytotoxicity</text>
<line x1="194.90" y1="2380.64" x2="196.90" y2="2380.64" stroke="#555" stroke-width="0.6"/>
<rect x="196.90" y="1885.70" width="123.70" height="510.00" fill="none" stroke="#9A9A9A" stroke-width="1.0"/>
<line x1="202.20" y1="1883.70" x2="202.20" y2="1885.70" stroke="#555" stroke-width="0.6"/>
<text x="198.71" y="1883.20" font-size="11.8" text-anchor="end" fill="#1A1A1A" transform="rotate(90 198.71 1883.20)">0</text>
<line x1="231.00" y1="1883.70" x2="231.00" y2="1885.70" stroke="#555" stroke-width="0.6"/>
<text x="227.51" y="1883.20" font-size="11.8" text-anchor="end" fill="#1A1A1A" transform="rotate(90 227.51 1883.20)">2</text>
<line x1="261.50" y1="1883.70" x2="261.50" y2="1885.70" stroke="#555" stroke-width="0.6"/>
<text x="258.01" y="1883.20" font-size="11.8" text-anchor="end" fill="#1A1A1A" transform="rotate(90 258.01 1883.20)">4</text>
<line x1="291.30" y1="1883.70" x2="291.30" y2="1885.70" stroke="#555" stroke-width="0.6"/>
<text x="287.81" y="1883.20" font-size="11.8" text-anchor="end" fill="#1A1A1A" transform="rotate(90 287.81 1883.20)">6</text>
<text x="258.60" y="1874.00" font-size="11.8" text-anchor="middle" fill="#000">−log(Pvalue)</text>
<text x="63.74" y="2141.00" font-size="12.3" text-anchor="middle" fill="#000" transform="rotate(90 63.74 2141.00)">KEGG Pathway</text>
<rect x="514.20" y="1894.90" width="121.00" height="22.482" fill="#D90000"/>
<text x="506.20" y="1911.64" font-size="8.3" text-anchor="end" fill="#111111" textLength="41.60" lengthAdjust="spacingAndGlyphs" stroke="#111" stroke-width="0.1">Endocytosis</text>
<line x1="506.30" y1="1906.14" x2="508.30" y2="1906.14" stroke="#555" stroke-width="0.6"/>
<rect x="514.20" y="1919.88" width="119.20" height="22.482" fill="#D90000"/>
<text x="506.20" y="1936.62" font-size="8.3" text-anchor="end" fill="#111111" textLength="82.25" lengthAdjust="spacingAndGlyphs" stroke="#111" stroke-width="0.1">ErbB signaling pathway</text>
<line x1="506.30" y1="1931.12" x2="508.30" y2="1931.12" stroke="#555" stroke-width="0.6"/>
<rect x="514.20" y="1944.86" width="114.40" height="22.482" fill="#D90000"/>
<text x="506.20" y="1961.60" font-size="8.3" text-anchor="end" fill="#111111" textLength="86.20" lengthAdjust="spacingAndGlyphs" stroke="#111" stroke-width="0.1">cAMP signaling pathway</text>
<line x1="506.30" y1="1956.10" x2="508.30" y2="1956.10" stroke="#555" stroke-width="0.6"/>
<rect x="514.20" y="1969.84" width="112.50" height="22.482" fill="#D90000"/>
<text x="506.20" y="1986.58" font-size="8.3" text-anchor="end" fill="#111111" textLength="129.08" lengthAdjust="spacingAndGlyphs" stroke="#111" stroke-width="0.1">Phosphatidylinositol signaling system</text>
<line x1="506.30" y1="1981.08" x2="508.30" y2="1981.08" stroke="#555" stroke-width="0.6"/>
<rect x="514.20" y="1994.82" width="106.40" height="22.482" fill="#D90000"/>
<text x="506.20" y="2011.56" font-size="8.3" text-anchor="end" fill="#111111" textLength="77.59" lengthAdjust="spacingAndGlyphs" stroke="#111" stroke-width="0.1">Glutamatergic synapse</text>
<line x1="506.30" y1="2006.06" x2="508.30" y2="2006.06" stroke="#555" stroke-width="0.6"/>
<rect x="514.20" y="2019.80" width="100.00" height="22.482" fill="#D90000"/>
<text x="506.20" y="2036.54" font-size="8.3" text-anchor="end" fill="#111111" textLength="51.76" lengthAdjust="spacingAndGlyphs" stroke="#111" stroke-width="0.1">Axon guidance</text>
<line x1="506.30" y1="2031.04" x2="508.30" y2="2031.04" stroke="#555" stroke-width="0.6"/>
<rect x="514.20" y="2044.78" width="99.20" height="22.482" fill="#D90000"/>
<text x="506.20" y="2061.52" font-size="8.3" text-anchor="end" fill="#111111" textLength="105.42" lengthAdjust="spacingAndGlyphs" stroke="#111" stroke-width="0.1">Ubiquitin mediated proteolysis</text>
<line x1="506.30" y1="2056.02" x2="508.30" y2="2056.02" stroke="#555" stroke-width="0.6"/>
<rect x="514.20" y="2069.76" width="98.40" height="22.482" fill="#D90000"/>
<text x="506.20" y="2086.50" font-size="8.3" text-anchor="end" fill="#111111" textLength="101.86" lengthAdjust="spacingAndGlyphs" stroke="#111" stroke-width="0.1">Choline metabolism in cancer</text>
<line x1="506.30" y1="2081.00" x2="508.30" y2="2081.00" stroke="#555" stroke-width="0.6"/>
<rect x="514.20" y="2094.74" width="97.60" height="22.482" fill="#D90000"/>
<text x="506.20" y="2111.48" font-size="8.3" text-anchor="end" fill="#111111" textLength="67.36" lengthAdjust="spacingAndGlyphs" stroke="#111" stroke-width="0.1">Morphine addiction</text>
<line x1="506.30" y1="2105.98" x2="508.30" y2="2105.98" stroke="#555" stroke-width="0.6"/>
<rect x="514.20" y="2119.72" width="93.60" height="22.482" fill="#D90000"/>
<text x="506.20" y="2136.46" font-size="8.3" text-anchor="end" fill="#111111" textLength="87.77" lengthAdjust="spacingAndGlyphs" stroke="#111" stroke-width="0.1">mTOR signaling pathway</text>
<line x1="506.30" y1="2130.96" x2="508.30" y2="2130.96" stroke="#555" stroke-width="0.6"/>
<rect x="514.20" y="2144.70" width="89.40" height="22.482" fill="#D90000"/>
<text x="506.20" y="2161.44" font-size="8.3" text-anchor="end" fill="#111111" textLength="110.37" lengthAdjust="spacingAndGlyphs" stroke="#111" stroke-width="0.1">Regulation of actin cytoskeleton</text>
<line x1="506.30" y1="2155.94" x2="508.30" y2="2155.94" stroke="#555" stroke-width="0.6"/>
<rect x="514.20" y="2169.68" width="88.60" height="22.482" fill="#D90000"/>
<text x="506.20" y="2186.42" font-size="8.3" text-anchor="end" fill="#111111" textLength="121.73" lengthAdjust="spacingAndGlyphs" stroke="#111" stroke-width="0.1">Phospholipase D signaling pathway</text>
<line x1="506.30" y1="2180.92" x2="508.30" y2="2180.92" stroke="#555" stroke-width="0.6"/>
<rect x="514.20" y="2194.66" width="87.80" height="22.482" fill="#D90000"/>
<text x="506.20" y="2211.40" font-size="8.3" text-anchor="end" fill="#111111" textLength="62.63" lengthAdjust="spacingAndGlyphs" stroke="#111" stroke-width="0.1">Adherens junction</text>
<line x1="506.30" y1="2205.90" x2="508.30" y2="2205.90" stroke="#555" stroke-width="0.6"/>
<rect x="514.20" y="2219.64" width="85.10" height="22.482" fill="#D90000"/>
<text x="506.20" y="2236.38" font-size="8.3" text-anchor="end" fill="#111111" textLength="77.60" lengthAdjust="spacingAndGlyphs" stroke="#111" stroke-width="0.1">Dopaminergic synapse</text>
<line x1="506.30" y1="2230.88" x2="508.30" y2="2230.88" stroke="#555" stroke-width="0.6"/>
<rect x="514.20" y="2244.62" width="77.40" height="22.482" fill="#D90000"/>
<text x="506.20" y="2261.36" font-size="8.3" text-anchor="end" fill="#111111" textLength="66.39" lengthAdjust="spacingAndGlyphs" stroke="#111" stroke-width="0.1">Endometrial cancer</text>
<line x1="506.30" y1="2255.86" x2="508.30" y2="2255.86" stroke="#555" stroke-width="0.6"/>
<rect x="514.20" y="2269.60" width="76.30" height="22.482" fill="#D90000"/>
<text x="506.20" y="2286.34" font-size="8.3" text-anchor="end" fill="#111111" textLength="81.13" lengthAdjust="spacingAndGlyphs" stroke="#111" stroke-width="0.1">Long−term potentiation</text>
<line x1="506.30" y1="2280.84" x2="508.30" y2="2280.84" stroke="#555" stroke-width="0.6"/>
<rect x="514.20" y="2294.58" width="74.20" height="22.482" fill="#D90000"/>
<text x="506.20" y="2311.32" font-size="8.3" text-anchor="end" fill="#111111" textLength="81.29" lengthAdjust="spacingAndGlyphs" stroke="#111" stroke-width="0.1">Proteoglycans in cancer</text>
<line x1="506.30" y1="2305.82" x2="508.30" y2="2305.82" stroke="#555" stroke-width="0.6"/>
<rect x="514.20" y="2319.56" width="73.70" height="22.482" fill="#D90000"/>
<text x="506.20" y="2336.30" font-size="8.3" text-anchor="end" fill="#111111" textLength="142.28" lengthAdjust="spacingAndGlyphs" stroke="#111" stroke-width="0.1">EGFR tyrosine kinase inhibitor resistance</text>
<line x1="506.30" y1="2330.80" x2="508.30" y2="2330.80" stroke="#555" stroke-width="0.6"/>
<rect x="514.20" y="2344.54" width="73.70" height="22.482" fill="#D90000"/>
<text x="506.20" y="2361.28" font-size="8.3" text-anchor="end" fill="#111111" textLength="94.54" lengthAdjust="spacingAndGlyphs" stroke="#111" stroke-width="0.1">Estrogen signaling pathway</text>
<line x1="506.30" y1="2355.78" x2="508.30" y2="2355.78" stroke="#555" stroke-width="0.6"/>
<rect x="514.20" y="2369.52" width="72.40" height="22.482" fill="#D90000"/>
<text x="506.20" y="2386.26" font-size="8.3" text-anchor="end" fill="#111111" textLength="70.04" lengthAdjust="spacingAndGlyphs" stroke="#111" stroke-width="0.1">GABAergic synapse</text>
<line x1="506.30" y1="2380.76" x2="508.30" y2="2380.76" stroke="#555" stroke-width="0.6"/>
<rect x="508.30" y="1891.10" width="133.10" height="504.60" fill="none" stroke="#9A9A9A" stroke-width="1.0"/>
<line x1="515.00" y1="1889.10" x2="515.00" y2="1891.10" stroke="#555" stroke-width="0.6"/>
<text x="511.51" y="1888.60" font-size="11.8" text-anchor="end" fill="#1A1A1A" transform="rotate(90 511.51 1888.60)">0</text>
<line x1="551.00" y1="1889.10" x2="551.00" y2="1891.10" stroke="#555" stroke-width="0.6"/>
<text x="547.51" y="1888.60" font-size="11.8" text-anchor="end" fill="#1A1A1A" transform="rotate(90 547.51 1888.60)">2</text>
<line x1="588.70" y1="1889.10" x2="588.70" y2="1891.10" stroke="#555" stroke-width="0.6"/>
<text x="585.21" y="1888.60" font-size="11.8" text-anchor="end" fill="#1A1A1A" transform="rotate(90 585.21 1888.60)">4</text>
<line x1="626.00" y1="1889.10" x2="626.00" y2="1891.10" stroke="#555" stroke-width="0.6"/>
<text x="622.51" y="1888.60" font-size="11.8" text-anchor="end" fill="#1A1A1A" transform="rotate(90 622.51 1888.60)">6</text>
<text x="574.90" y="1879.00" font-size="12.862000000000002" text-anchor="middle" fill="#000">−log(Pvalue)</text>
<text x="353.14" y="2144.00" font-size="12.3" text-anchor="middle" fill="#000" transform="rotate(90 353.14 2144.00)">KEGG Pathway</text>
<rect x="868.00" y="1897.20" width="87.00" height="22.378" fill="#D90000"/>
<text x="861.90" y="1913.89" font-size="8.3" text-anchor="end" fill="#111111" textLength="63.83" lengthAdjust="spacingAndGlyphs" stroke="#111" stroke-width="0.1">Viral carcinogenesis</text>
<line x1="862.00" y1="1908.39" x2="864.00" y2="1908.39" stroke="#555" stroke-width="0.6"/>
<rect x="868.00" y="1922.06" width="84.90" height="22.378" fill="#D90000"/>
<text x="861.90" y="1938.75" font-size="8.3" text-anchor="end" fill="#111111" textLength="102.03" lengthAdjust="spacingAndGlyphs" stroke="#111" stroke-width="0.1">Human papillomavirus infection</text>
<line x1="862.00" y1="1933.25" x2="864.00" y2="1933.25" stroke="#555" stroke-width="0.6"/>
<rect x="868.00" y="1946.93" width="75.50" height="22.378" fill="#D90000"/>
<text x="861.90" y="1963.62" font-size="8.3" text-anchor="end" fill="#111111" textLength="90.70" lengthAdjust="spacingAndGlyphs" stroke="#111" stroke-width="0.1">Autoimmune thyroid disease</text>
<line x1="862.00" y1="1958.12" x2="864.00" y2="1958.12" stroke="#555" stroke-width="0.6"/>
<rect x="868.00" y="1971.79" width="74.70" height="22.378" fill="#D90000"/>
<text x="861.90" y="1988.48" font-size="8.3" text-anchor="end" fill="#111111" textLength="114.45" lengthAdjust="spacingAndGlyphs" stroke="#111" stroke-width="0.1">Antigen processing and presentation</text>
<line x1="862.00" y1="1982.98" x2="864.00" y2="1982.98" stroke="#555" stroke-width="0.6"/>
<rect x="868.00" y="1996.66" width="73.10" height="22.378" fill="#D90000"/>
<text x="861.90" y="2013.35" font-size="8.3" text-anchor="end" fill="#111111" textLength="89.45" lengthAdjust="spacingAndGlyphs" stroke="#111" stroke-width="0.1">Epstein−Barr virus infection</text>
<line x1="862.00" y1="2007.85" x2="864.00" y2="2007.85" stroke="#555" stroke-width="0.6"/>
<rect x="868.00" y="2021.52" width="72.90" height="22.378" fill="#D90000"/>
<text x="861.90" y="2038.21" font-size="8.3" text-anchor="end" fill="#111111" textLength="57.11" lengthAdjust="spacingAndGlyphs" stroke="#111" stroke-width="0.1">HTLV−I infection</text>
<line x1="862.00" y1="2032.71" x2="864.00" y2="2032.71" stroke="#555" stroke-width="0.6"/>
<rect x="868.00" y="2046.39" width="72.00" height="22.378" fill="#D90000"/>
<text x="861.90" y="2063.07" font-size="8.3" text-anchor="end" fill="#111111" textLength="104.87" lengthAdjust="spacingAndGlyphs" stroke="#111" stroke-width="0.1">Cell adhesion molecules (CAMs)</text>
<line x1="862.00" y1="2057.57" x2="864.00" y2="2057.57" stroke="#555" stroke-width="0.6"/>
<rect x="868.00" y="2071.25" width="66.20" height="22.378" fill="#D90000"/>
<text x="861.90" y="2087.94" font-size="8.3" text-anchor="end" fill="#111111" textLength="83.19" lengthAdjust="spacingAndGlyphs" stroke="#111" stroke-width="0.1">Graft−versus−host disease</text>
<line x1="862.00" y1="2082.44" x2="864.00" y2="2082.44" stroke="#555" stroke-width="0.6"/>
<rect x="868.00" y="2096.11" width="64.90" height="22.378" fill="#D90000"/>
<text x="861.90" y="2112.80" font-size="8.3" text-anchor="end" fill="#111111" textLength="54.68" lengthAdjust="spacingAndGlyphs" stroke="#111" stroke-width="0.1">Viral myocarditis</text>
<line x1="862.00" y1="2107.30" x2="864.00" y2="2107.30" stroke="#555" stroke-width="0.6"/>
<rect x="868.00" y="2120.98" width="64.40" height="22.378" fill="#D90000"/>
<text x="861.90" y="2137.67" font-size="8.3" text-anchor="end" fill="#111111" textLength="58.20" lengthAdjust="spacingAndGlyphs" stroke="#111" stroke-width="0.1">Allograft rejection</text>
<line x1="862.00" y1="2132.17" x2="864.00" y2="2132.17" stroke="#555" stroke-width="0.6"/>
<rect x="868.00" y="2145.84" width="59.60" height="22.378" fill="#D90000"/>
<text x="861.90" y="2162.53" font-size="8.3" text-anchor="end" fill="#111111" textLength="78.92" lengthAdjust="spacingAndGlyphs" stroke="#111" stroke-width="0.1">Herpes simplex infection</text>
<line x1="862.00" y1="2157.03" x2="864.00" y2="2157.03" stroke="#555" stroke-width="0.6"/>
<rect x="868.00" y="2170.71" width="58.80" height="22.378" fill="#D90000"/>
<text x="861.90" y="2187.40" font-size="8.3" text-anchor="end" fill="#111111" textLength="75.10" lengthAdjust="spacingAndGlyphs" stroke="#111" stroke-width="0.1">Type I diabetes mellitus</text>
<line x1="862.00" y1="2181.90" x2="864.00" y2="2181.90" stroke="#555" stroke-width="0.6"/>
<rect x="868.00" y="2195.57" width="53.50" height="22.378" fill="#D90000"/>
<text x="861.90" y="2212.26" font-size="8.3" text-anchor="end" fill="#111111" textLength="92.08" lengthAdjust="spacingAndGlyphs" stroke="#111" stroke-width="0.1">PI3K−Akt signaling pathway</text>
<line x1="862.00" y1="2206.76" x2="864.00" y2="2206.76" stroke="#555" stroke-width="0.6"/>
<rect x="868.00" y="2220.44" width="44.40" height="22.378" fill="#D90000"/>
<text x="861.90" y="2237.13" font-size="8.3" text-anchor="end" fill="#111111" textLength="62.12" lengthAdjust="spacingAndGlyphs" stroke="#111" stroke-width="0.1">Cellular senescence</text>
<line x1="862.00" y1="2231.63" x2="864.00" y2="2231.63" stroke="#555" stroke-width="0.6"/>
<rect x="868.00" y="2245.30" width="40.70" height="22.378" fill="#D90000"/>
<text x="861.90" y="2261.99" font-size="8.3" text-anchor="end" fill="#111111" textLength="125.56" lengthAdjust="spacingAndGlyphs" stroke="#111" stroke-width="0.1">Natural killer cell mediated cytotoxicity</text>
<line x1="862.00" y1="2256.49" x2="864.00" y2="2256.49" stroke="#555" stroke-width="0.6"/>
<rect x="868.00" y="2270.16" width="40.20" height="22.378" fill="#D90000"/>
<text x="861.90" y="2286.85" font-size="8.3" text-anchor="end" fill="#111111" textLength="130.43" lengthAdjust="spacingAndGlyphs" stroke="#111" stroke-width="0.1">Longevity regulating pathway − mammal</text>
<line x1="862.00" y1="2281.35" x2="864.00" y2="2281.35" stroke="#555" stroke-width="0.6"/>
<rect x="868.00" y="2295.03" width="40.20" height="22.378" fill="#D90000"/>
<text x="861.90" y="2311.72" font-size="8.3" text-anchor="end" fill="#111111" textLength="35.32" lengthAdjust="spacingAndGlyphs" stroke="#111" stroke-width="0.1">Ferroptosis</text>
<line x1="862.00" y1="2306.22" x2="864.00" y2="2306.22" stroke="#555" stroke-width="0.6"/>
<rect x="868.00" y="2319.89" width="39.10" height="22.378" fill="#D90000"/>
<text x="861.90" y="2336.58" font-size="8.3" text-anchor="end" fill="#111111" textLength="38.38" lengthAdjust="spacingAndGlyphs" stroke="#111" stroke-width="0.1">Endocytosis</text>
<line x1="862.00" y1="2331.08" x2="864.00" y2="2331.08" stroke="#555" stroke-width="0.6"/>
<rect x="868.00" y="2344.76" width="38.60" height="22.378" fill="#D90000"/>
<text x="861.90" y="2361.45" font-size="8.3" text-anchor="end" fill="#111111" textLength="158.11" lengthAdjust="spacingAndGlyphs" stroke="#111" stroke-width="0.1">Kaposis sarcoma−associated herpesvirus infection</text>
<line x1="862.00" y1="2355.95" x2="864.00" y2="2355.95" stroke="#555" stroke-width="0.6"/>
<rect x="868.00" y="2369.62" width="33.00" height="22.378" fill="#D90000"/>
<text x="861.90" y="2386.31" font-size="8.3" text-anchor="end" fill="#111111" textLength="54.72" lengthAdjust="spacingAndGlyphs" stroke="#111" stroke-width="0.1">Insulin resistance</text>
<line x1="862.00" y1="2380.81" x2="864.00" y2="2380.81" stroke="#555" stroke-width="0.6"/>
<rect x="864.00" y="1893.40" width="95.20" height="502.30" fill="none" stroke="#9A9A9A" stroke-width="1.0"/>
<line x1="867.50" y1="1891.40" x2="867.50" y2="1893.40" stroke="#555" stroke-width="0.6"/>
<text x="864.01" y="1890.90" font-size="11.8" text-anchor="end" fill="#1A1A1A" transform="rotate(90 864.01 1890.90)">0</text>
<line x1="884.20" y1="1891.40" x2="884.20" y2="1893.40" stroke="#555" stroke-width="0.6"/>
<text x="880.71" y="1890.90" font-size="11.8" text-anchor="end" fill="#1A1A1A" transform="rotate(90 880.71 1890.90)">1</text>
<line x1="901.50" y1="1891.40" x2="901.50" y2="1893.40" stroke="#555" stroke-width="0.6"/>
<text x="898.01" y="1890.90" font-size="11.8" text-anchor="end" fill="#1A1A1A" transform="rotate(90 898.01 1890.90)">2</text>
<line x1="918.50" y1="1891.40" x2="918.50" y2="1893.40" stroke="#555" stroke-width="0.6"/>
<text x="915.01" y="1890.90" font-size="11.8" text-anchor="end" fill="#1A1A1A" transform="rotate(90 915.01 1890.90)">3</text>
<line x1="935.30" y1="1891.40" x2="935.30" y2="1893.40" stroke="#555" stroke-width="0.6"/>
<text x="931.81" y="1890.90" font-size="11.8" text-anchor="end" fill="#1A1A1A" transform="rotate(90 931.81 1890.90)">4</text>
<line x1="952.60" y1="1891.40" x2="952.60" y2="1893.40" stroke="#555" stroke-width="0.6"/>
<text x="949.11" y="1890.90" font-size="11.8" text-anchor="end" fill="#1A1A1A" transform="rotate(90 949.11 1890.90)">5</text>
<text x="911.30" y="1882.00" font-size="11.8" text-anchor="middle" fill="#000">−log(Pvalue)</text>
<text x="693.94" y="2144.00" font-size="12.3" text-anchor="middle" fill="#000" transform="rotate(90 693.94 2144.00)">KEGG Pathway</text>
<rect x="1179.30" y="1907.40" width="86.70" height="21.917" fill="#D90000"/>
<text x="1173.20" y="1923.86" font-size="8.3" text-anchor="end" fill="#111111" textLength="81.88" lengthAdjust="spacingAndGlyphs" stroke="#111" stroke-width="0.1">MAPK signaling pathway</text>
<line x1="1173.30" y1="1918.36" x2="1175.30" y2="1918.36" stroke="#555" stroke-width="0.6"/>
<rect x="1179.30" y="1931.75" width="65.40" height="21.917" fill="#D90000"/>
<text x="1173.20" y="1948.21" font-size="8.3" text-anchor="end" fill="#111111" textLength="56.82" lengthAdjust="spacingAndGlyphs" stroke="#111" stroke-width="0.1">Cocaine addiction</text>
<line x1="1173.30" y1="1942.71" x2="1175.30" y2="1942.71" stroke="#555" stroke-width="0.6"/>
<rect x="1179.30" y="1956.10" width="62.50" height="21.917" fill="#D90000"/>
<text x="1173.20" y="1972.56" font-size="8.3" text-anchor="end" fill="#111111" textLength="91.96" lengthAdjust="spacingAndGlyphs" stroke="#111" stroke-width="0.1">PI3K−Akt signaling pathway</text>
<line x1="1173.30" y1="1967.06" x2="1175.30" y2="1967.06" stroke="#555" stroke-width="0.6"/>
<rect x="1179.30" y="1980.46" width="61.70" height="21.917" fill="#D90000"/>
<text x="1173.20" y="1996.91" font-size="8.3" text-anchor="end" fill="#111111" textLength="31.80" lengthAdjust="spacingAndGlyphs" stroke="#111" stroke-width="0.1">Ribosome</text>
<line x1="1173.30" y1="1991.41" x2="1175.30" y2="1991.41" stroke="#555" stroke-width="0.6"/>
<rect x="1179.30" y="2004.81" width="59.30" height="21.917" fill="#D90000"/>
<text x="1173.20" y="2021.27" font-size="8.3" text-anchor="end" fill="#111111" textLength="71.48" lengthAdjust="spacingAndGlyphs" stroke="#111" stroke-width="0.1">Glutamatergic synapse</text>
<line x1="1173.30" y1="2015.77" x2="1175.30" y2="2015.77" stroke="#555" stroke-width="0.6"/>
<rect x="1179.30" y="2029.16" width="58.70" height="21.917" fill="#D90000"/>
<text x="1173.20" y="2045.62" font-size="8.3" text-anchor="end" fill="#111111" textLength="75.78" lengthAdjust="spacingAndGlyphs" stroke="#111" stroke-width="0.1">Rap1 signaling pathway</text>
<line x1="1173.30" y1="2040.12" x2="1175.30" y2="2040.12" stroke="#555" stroke-width="0.6"/>
<rect x="1179.30" y="2053.51" width="58.50" height="21.917" fill="#D90000"/>
<text x="1173.20" y="2069.97" font-size="8.3" text-anchor="end" fill="#111111" textLength="104.74" lengthAdjust="spacingAndGlyphs" stroke="#111" stroke-width="0.1">Cell adhesion molecules (CAMs)</text>
<line x1="1173.30" y1="2064.47" x2="1175.30" y2="2064.47" stroke="#555" stroke-width="0.6"/>
<rect x="1179.30" y="2077.86" width="57.70" height="21.917" fill="#D90000"/>
<text x="1173.20" y="2094.32" font-size="8.3" text-anchor="end" fill="#111111" textLength="71.49" lengthAdjust="spacingAndGlyphs" stroke="#111" stroke-width="0.1">Dopaminergic synapse</text>
<line x1="1173.30" y1="2088.82" x2="1175.30" y2="2088.82" stroke="#555" stroke-width="0.6"/>
<rect x="1179.30" y="2102.21" width="56.90" height="21.917" fill="#D90000"/>
<text x="1173.20" y="2118.67" font-size="8.3" text-anchor="end" fill="#111111" textLength="67.92" lengthAdjust="spacingAndGlyphs" stroke="#111" stroke-width="0.1">Gastric acid secretion</text>
<line x1="1173.30" y1="2113.17" x2="1175.30" y2="2113.17" stroke="#555" stroke-width="0.6"/>
<rect x="1179.30" y="2126.57" width="54.80" height="21.917" fill="#D90000"/>
<text x="1173.20" y="2143.02" font-size="8.3" text-anchor="end" fill="#111111" textLength="88.40" lengthAdjust="spacingAndGlyphs" stroke="#111" stroke-width="0.1">Oxytocin signaling pathway</text>
<line x1="1173.30" y1="2137.52" x2="1175.30" y2="2137.52" stroke="#555" stroke-width="0.6"/>
<rect x="1179.30" y="2150.92" width="54.50" height="21.917" fill="#D90000"/>
<text x="1173.20" y="2167.38" font-size="8.3" text-anchor="end" fill="#111111" textLength="70.99" lengthAdjust="spacingAndGlyphs" stroke="#111" stroke-width="0.1">Ras signaling pathway</text>
<line x1="1173.30" y1="2161.88" x2="1175.30" y2="2161.88" stroke="#555" stroke-width="0.6"/>
<rect x="1179.30" y="2175.27" width="53.50" height="21.917" fill="#D90000"/>
<text x="1173.20" y="2191.73" font-size="8.3" text-anchor="end" fill="#111111" textLength="47.25" lengthAdjust="spacingAndGlyphs" stroke="#111" stroke-width="0.1">Focal adhesion</text>
<line x1="1173.30" y1="2186.23" x2="1175.30" y2="2186.23" stroke="#555" stroke-width="0.6"/>
<rect x="1179.30" y="2199.62" width="51.10" height="21.917" fill="#D90000"/>
<text x="1173.20" y="2216.08" font-size="8.3" text-anchor="end" fill="#111111" textLength="79.41" lengthAdjust="spacingAndGlyphs" stroke="#111" stroke-width="0.1">cAMP signaling pathway</text>
<line x1="1173.30" y1="2210.58" x2="1175.30" y2="2210.58" stroke="#555" stroke-width="0.6"/>
<rect x="1179.30" y="2223.97" width="50.30" height="21.917" fill="#D90000"/>
<text x="1173.20" y="2240.43" font-size="8.3" text-anchor="end" fill="#111111" textLength="31.80" lengthAdjust="spacingAndGlyphs" stroke="#111" stroke-width="0.1">Apoptosis</text>
<line x1="1173.30" y1="2234.93" x2="1175.30" y2="2234.93" stroke="#555" stroke-width="0.6"/>
<rect x="1179.30" y="2248.32" width="49.50" height="21.917" fill="#D90000"/>
<text x="1173.20" y="2264.78" font-size="8.3" text-anchor="end" fill="#111111" textLength="74.04" lengthAdjust="spacingAndGlyphs" stroke="#111" stroke-width="0.1">TNF signaling pathway</text>
<line x1="1173.30" y1="2259.28" x2="1175.30" y2="2259.28" stroke="#555" stroke-width="0.6"/>
<rect x="1179.30" y="2272.68" width="48.40" height="21.917" fill="#D90000"/>
<text x="1173.20" y="2289.13" font-size="8.3" text-anchor="end" fill="#111111" textLength="125.48" lengthAdjust="spacingAndGlyphs" stroke="#111" stroke-width="0.1">Adrenergic signaling in cardiomyocytes</text>
<line x1="1173.30" y1="2283.63" x2="1175.30" y2="2283.63" stroke="#555" stroke-width="0.6"/>
<rect x="1179.30" y="2297.03" width="47.60" height="21.917" fill="#D90000"/>
<text x="1173.20" y="2313.49" font-size="8.3" text-anchor="end" fill="#111111" textLength="157.91" lengthAdjust="spacingAndGlyphs" stroke="#111" stroke-width="0.1">Kaposis sarcoma−associated herpesvirus infection</text>
<line x1="1173.30" y1="2307.99" x2="1175.30" y2="2307.99" stroke="#555" stroke-width="0.6"/>
<rect x="1179.30" y="2321.38" width="47.30" height="21.917" fill="#D90000"/>
<text x="1173.20" y="2337.84" font-size="8.3" text-anchor="end" fill="#111111" textLength="125.40" lengthAdjust="spacingAndGlyphs" stroke="#111" stroke-width="0.1">Natural killer cell mediated cytotoxicity</text>
<line x1="1173.30" y1="2332.34" x2="1175.30" y2="2332.34" stroke="#555" stroke-width="0.6"/>
<rect x="1179.30" y="2345.73" width="46.50" height="21.917" fill="#D90000"/>
<text x="1173.20" y="2362.19" font-size="8.3" text-anchor="end" fill="#111111" textLength="95.37" lengthAdjust="spacingAndGlyphs" stroke="#111" stroke-width="0.1">Chemokine signaling pathway</text>
<line x1="1173.30" y1="2356.69" x2="1175.30" y2="2356.69" stroke="#555" stroke-width="0.6"/>
<rect x="1179.30" y="2370.08" width="46.30" height="21.917" fill="#D90000"/>
<text x="1173.20" y="2386.54" font-size="8.3" text-anchor="end" fill="#111111" textLength="74.75" lengthAdjust="spacingAndGlyphs" stroke="#111" stroke-width="0.1">Long−term potentiation</text>
<line x1="1173.30" y1="2381.04" x2="1175.30" y2="2381.04" stroke="#555" stroke-width="0.6"/>
<rect x="1175.30" y="1903.60" width="95.20" height="492.10" fill="none" stroke="#9A9A9A" stroke-width="1.0"/>
<line x1="1179.30" y1="1901.60" x2="1179.30" y2="1903.60" stroke="#555" stroke-width="0.6"/>
<text x="1175.81" y="1901.10" font-size="11.8" text-anchor="end" fill="#1A1A1A" transform="rotate(90 1175.81 1901.10)">0.0</text>
<line x1="1203.20" y1="1901.60" x2="1203.20" y2="1903.60" stroke="#555" stroke-width="0.6"/>
<text x="1199.71" y="1901.10" font-size="11.8" text-anchor="end" fill="#1A1A1A" transform="rotate(90 1199.71 1901.10)">2.5</text>
<line x1="1227.40" y1="1901.60" x2="1227.40" y2="1903.60" stroke="#555" stroke-width="0.6"/>
<text x="1223.91" y="1901.10" font-size="11.8" text-anchor="end" fill="#1A1A1A" transform="rotate(90 1223.91 1901.10)">5.0</text>
<line x1="1251.90" y1="1901.60" x2="1251.90" y2="1903.60" stroke="#555" stroke-width="0.6"/>
<text x="1248.41" y="1901.10" font-size="11.8" text-anchor="end" fill="#1A1A1A" transform="rotate(90 1248.41 1901.10)">7.5</text>
<text x="1222.60" y="1882.00" font-size="11.8" text-anchor="middle" fill="#000">−log(Pvalue)</text>
<text x="1005.74" y="2149.00" font-size="12.3" text-anchor="middle" fill="#000" transform="rotate(90 1005.74 2149.00)">KEGG Pathway</text>
<text x="72.80" y="43.40" font-size="43" text-anchor="middle" fill="#1E1E10" style="font-family:&quot;Liberation Sans&quot;" font-weight="bold">A</text>
<text x="415.30" y="26.90" font-size="31" text-anchor="middle" fill="#000" style="font-family:&quot;Liberation Sans&quot;" font-weight="bold">IR vs S</text>
<text x="747.30" y="32.30" font-size="42.5" text-anchor="middle" fill="#1E1E10" style="font-family:&quot;Liberation Sans&quot;" font-weight="bold">B</text>
<text x="1030.00" y="26.90" font-size="31" text-anchor="middle" fill="#000" style="font-family:&quot;Liberation Sans&quot;" font-weight="bold">DEX vs IR</text>
<text x="111.50" y="172.80" font-size="31" text-anchor="middle" fill="#000" style="font-family:&quot;Liberation Sans&quot;" font-weight="bold" transform="rotate(90 111.50 172.80)">mRNA</text>
<text x="110.60" y="474.70" font-size="31" text-anchor="middle" fill="#000" style="font-family:&quot;Liberation Sans&quot;" font-weight="bold" transform="rotate(90 110.60 474.70)">circRNA</text>
<text x="117.40" y="777.00" font-size="31" text-anchor="middle" fill="#000" style="font-family:&quot;Liberation Sans&quot;" font-weight="bold" transform="rotate(90 117.40 777.00)">Cis-lncRNA</text>
<text x="111.20" y="1070.60" font-size="31" text-anchor="middle" fill="#000" style="font-family:&quot;Liberation Sans&quot;" font-weight="bold" transform="rotate(90 111.20 1070.60)">Trans-lncRNA</text>
<text x="16.60" y="1272.00" font-size="42" text-anchor="middle" fill="#1E1E10" style="font-family:&quot;Liberation Sans&quot;" font-weight="bold">C</text>
<text x="197.50" y="1271.00" font-size="31" text-anchor="middle" fill="#000" style="font-family:&quot;Liberation Sans&quot;" font-weight="bold">mRNA</text>
<text x="519.00" y="1271.00" font-size="31" text-anchor="middle" fill="#000" style="font-family:&quot;Liberation Sans&quot;" font-weight="bold">circRNA</text>
<text x="842.70" y="1271.00" font-size="30.6" text-anchor="middle" fill="#000" style="font-family:&quot;Liberation Sans&quot;" font-weight="bold">Cis-lncRNA</text>
<text x="1157.60" y="1274.00" font-size="30.7" text-anchor="middle" fill="#000" style="font-family:&quot;Liberation Sans&quot;" font-weight="bold">Trans-lncRNA</text>
<text x="15.30" y="1895.00" font-size="42" text-anchor="middle" fill="#1E1E10" style="font-family:&quot;Liberation Sans&quot;" font-weight="bold">D</text>
<text x="16.50" y="1553.00" font-size="31" text-anchor="middle" fill="#000" style="font-family:&quot;Liberation Sans&quot;" font-weight="bold" transform="rotate(90 16.50 1553.00)">IR vs S</text>
<text x="14.00" y="2110.00" font-size="31" text-anchor="middle" fill="#000" style="font-family:&quot;Liberation Sans&quot;" font-weight="bold" transform="rotate(90 14.00 2110.00)">DEX vs IR</text>
<rect x="162.2" y="48.6" width="4.6" height="1.4" fill="#3A7BD5"/>
</svg></body></html>
